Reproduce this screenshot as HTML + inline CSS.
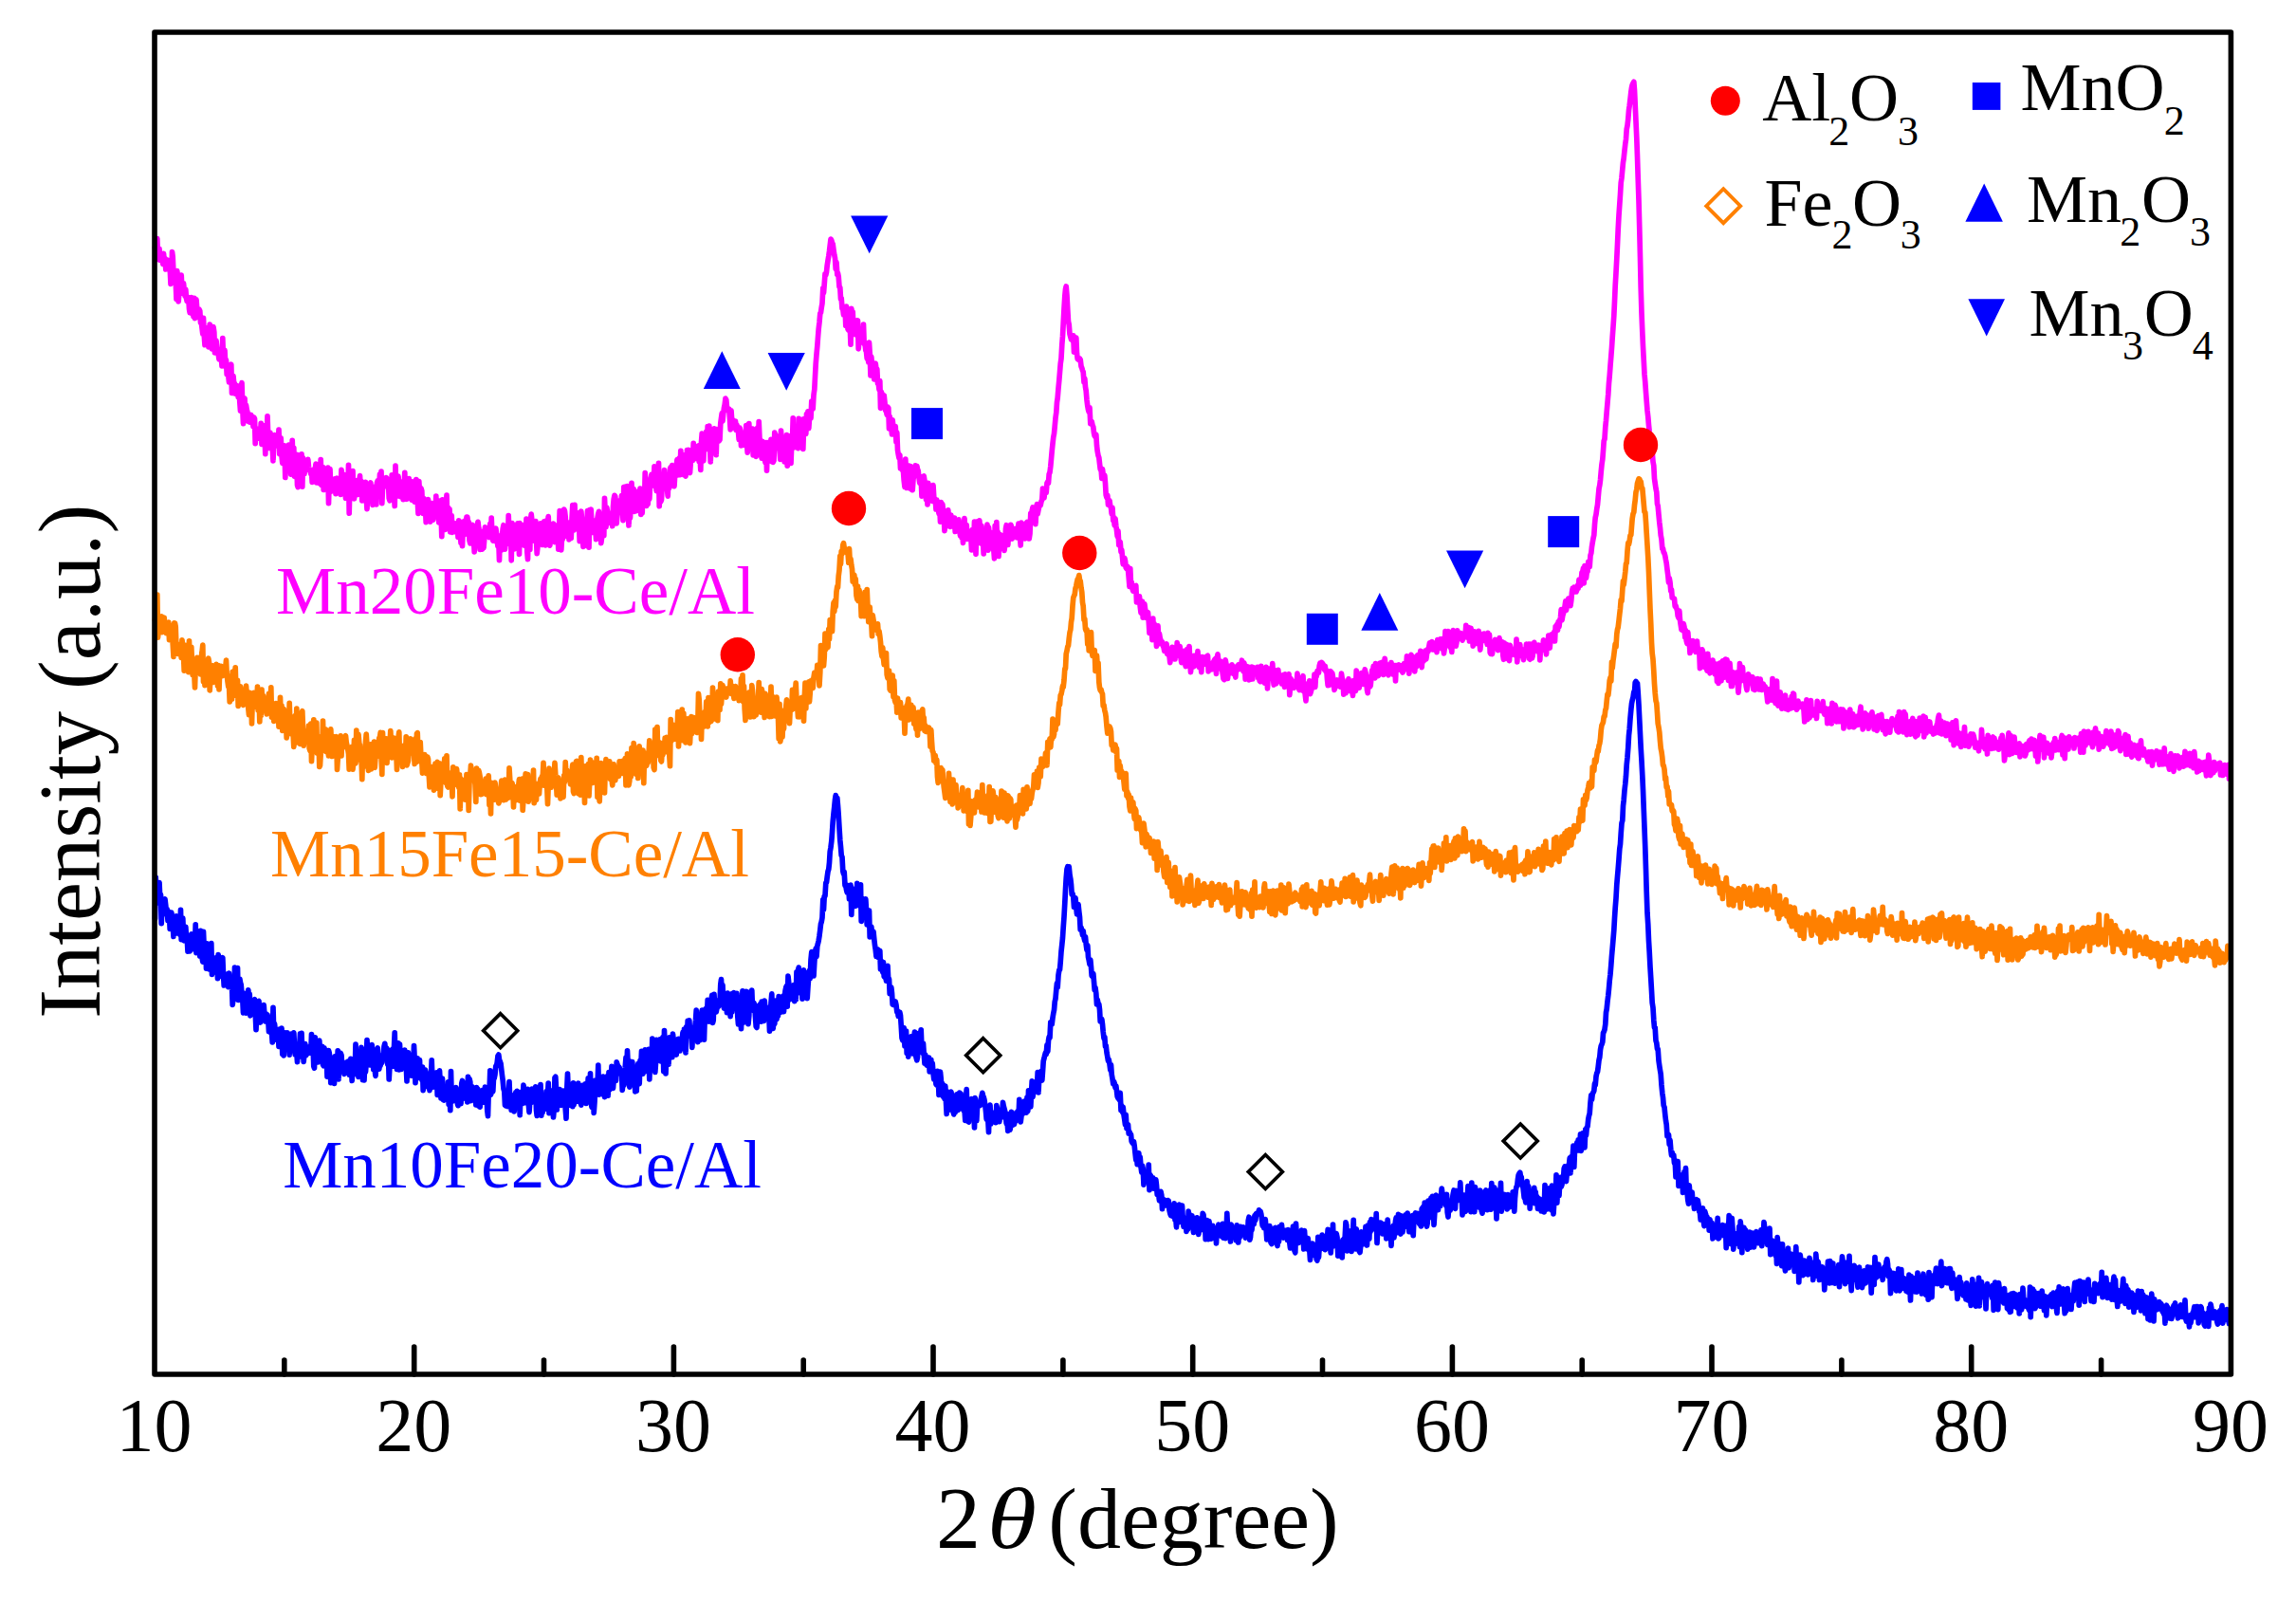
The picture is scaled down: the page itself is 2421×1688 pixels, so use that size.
<!DOCTYPE html><html><head><meta charset="utf-8"><style>html,body{margin:0;padding:0;background:#fff;overflow:hidden}svg{display:block}</style></head><body>
<svg width="2421" height="1688" viewBox="0 0 2421 1688">
<rect width="2421" height="1688" fill="#fff"/>
<polyline fill="none" stroke="#FF00FF" stroke-width="5.7" stroke-linejoin="round" stroke-linecap="round" points="163.5,260.8 164.2,266.9 165.0,264.9 165.8,251.5 166.5,273.5 167.2,270.5 168.0,262.1 168.8,274.2 169.5,273.2 170.2,273.7 171.0,272.3 171.8,278.5 172.5,267.4 173.2,274.2 174.0,272.3 174.8,284.0 175.5,279.8 176.2,277.8 177.0,274.3 177.8,280.6 178.5,284.3 179.2,282.7 180.0,299.3 180.8,297.6 181.5,265.5 182.2,270.6 183.0,288.8 183.8,287.4 184.5,294.8 185.2,296.0 186.0,315.5 186.8,285.7 187.5,294.1 188.2,317.9 189.0,306.4 189.8,308.0 190.5,298.9 191.2,290.2 192.0,308.2 192.8,309.2 193.5,298.6 194.2,305.0 195.0,312.0 195.8,305.2 196.5,314.5 197.2,317.5 198.0,318.1 198.8,313.6 199.5,325.7 200.2,329.7 201.0,324.7 201.8,313.7 202.5,330.6 203.2,318.6 204.0,333.7 204.8,314.4 205.5,335.6 206.2,327.0 207.0,315.9 207.8,326.3 208.5,331.2 209.2,334.5 210.0,326.1 210.8,327.9 211.5,340.2 212.2,338.0 213.0,345.7 213.8,352.2 214.5,335.3 215.2,352.8 216.0,363.7 216.8,350.1 217.5,345.8 218.2,362.7 219.0,358.4 219.8,365.8 220.5,353.4 221.2,342.0 222.0,357.2 222.8,354.3 223.5,367.8 224.2,362.4 225.0,344.6 225.8,350.1 226.5,372.0 227.2,371.0 228.0,359.2 228.8,366.6 229.5,372.1 230.2,373.6 231.0,378.8 231.8,374.3 232.5,372.4 233.2,372.2 234.0,385.9 234.8,356.7 235.5,377.7 236.2,380.8 237.0,369.3 237.8,386.7 238.5,379.6 239.2,394.6 240.0,387.7 240.8,396.3 241.5,402.9 242.2,397.3 243.0,388.1 243.8,384.2 244.5,414.5 245.2,399.9 246.0,396.5 246.8,405.5 247.5,404.3 248.2,415.1 249.0,409.7 249.8,411.3 250.5,406.7 251.2,418.7 252.0,407.4 252.8,423.9 253.5,433.1 254.2,408.4 255.0,403.6 255.8,430.4 256.5,446.6 257.2,420.4 258.0,420.1 258.8,437.6 259.5,427.2 260.2,431.8 261.0,434.8 261.8,444.3 262.5,437.3 263.2,445.1 264.0,442.3 264.8,437.5 265.5,443.8 266.2,439.2 267.0,449.6 267.8,440.0 268.5,441.4 269.2,467.6 270.0,453.7 270.8,454.7 271.5,461.4 272.2,452.3 273.0,454.9 273.8,462.5 274.5,461.4 275.2,446.3 276.0,468.3 276.8,453.2 277.5,448.5 278.2,450.5 279.0,456.4 279.8,478.7 280.5,448.5 281.2,463.4 282.0,438.8 282.8,462.3 283.5,472.5 284.2,460.4 285.0,456.4 285.8,466.0 286.5,471.4 287.2,471.3 288.0,485.9 288.8,467.0 289.5,458.7 290.2,464.2 291.0,465.2 291.8,467.8 292.5,467.1 293.2,470.1 294.0,453.0 294.8,478.6 295.5,466.3 296.2,461.9 297.0,480.5 297.8,488.3 298.5,481.7 299.2,479.7 300.0,469.9 300.8,503.5 301.5,490.1 302.2,470.5 303.0,475.1 303.8,484.9 304.5,469.0 305.2,487.5 306.0,481.9 306.8,500.2 307.5,498.3 308.2,464.4 309.0,489.8 309.8,472.4 310.5,502.3 311.2,492.4 312.0,496.8 312.8,479.4 313.5,511.3 314.2,513.6 315.0,480.0 315.8,496.0 316.5,484.7 317.2,492.1 318.0,478.8 318.8,513.2 319.5,482.7 320.2,490.4 321.0,499.5 321.8,487.6 322.5,492.6 323.2,489.7 324.0,494.8 324.8,484.4 325.5,492.8 326.2,495.8 327.0,495.0 327.8,499.7 328.5,496.5 329.2,508.3 330.0,497.2 330.8,499.7 331.5,494.6 332.2,496.6 333.0,489.2 333.8,508.8 334.5,491.5 335.2,496.3 336.0,508.7 336.8,509.6 337.5,501.5 338.2,484.6 339.0,511.3 339.8,510.1 340.5,492.5 341.2,516.5 342.0,501.0 342.8,496.9 343.5,510.5 344.2,507.9 345.0,512.4 345.8,493.0 346.5,530.6 347.2,504.5 348.0,494.5 348.8,518.4 349.5,508.0 350.2,515.7 351.0,508.7 351.8,512.0 352.5,515.5 353.2,504.9 354.0,520.7 354.8,508.4 355.5,504.2 356.2,514.7 357.0,518.9 357.8,511.7 358.5,504.9 359.2,521.4 360.0,495.4 360.8,503.5 361.5,515.4 362.2,500.1 363.0,515.4 363.8,514.6 364.5,525.2 365.2,505.4 366.0,508.7 366.8,519.3 367.5,490.4 368.2,541.1 369.0,508.2 369.8,508.0 370.5,525.5 371.2,515.7 372.0,496.7 372.8,523.2 373.5,525.8 374.2,511.5 375.0,513.4 375.8,521.9 376.5,506.7 377.2,521.5 378.0,519.0 378.8,509.4 379.5,501.5 380.2,514.4 381.0,507.3 381.8,528.0 382.5,518.6 383.2,525.6 384.0,518.5 384.8,519.9 385.5,508.4 386.2,524.3 387.0,536.6 387.8,513.5 388.5,510.4 389.2,515.1 390.0,511.5 390.8,509.0 391.5,518.1 392.2,513.3 393.0,532.3 393.8,516.4 394.5,519.8 395.2,526.6 396.0,512.8 396.8,531.8 397.5,508.9 398.2,506.9 399.0,511.7 399.8,514.3 400.5,500.1 401.2,515.0 402.0,497.0 402.8,530.6 403.5,514.3 404.2,508.1 405.0,505.1 405.8,510.8 406.5,512.6 407.2,503.5 408.0,504.9 408.8,513.0 409.5,509.3 410.2,525.4 411.0,527.7 411.8,515.4 412.5,520.6 413.2,500.8 414.0,522.6 414.8,515.4 415.5,521.1 416.2,533.5 417.0,491.0 417.8,519.1 418.5,504.3 419.2,523.0 420.0,502.2 420.8,511.2 421.5,519.0 422.2,523.6 423.0,517.7 423.8,508.2 424.5,510.9 425.2,526.7 426.0,516.9 426.8,498.4 427.5,526.1 428.2,521.4 429.0,526.3 429.8,512.9 430.5,525.6 431.2,504.7 432.0,522.6 432.8,510.8 433.5,523.5 434.2,527.1 435.0,507.9 435.8,515.4 436.5,516.5 437.2,529.2 438.0,524.5 438.8,505.6 439.5,523.5 440.2,527.3 441.0,541.4 441.8,507.5 442.5,519.6 443.2,538.3 444.0,514.9 444.8,517.6 445.5,535.2 446.2,541.5 447.0,525.5 447.8,538.8 448.5,535.1 449.2,550.6 450.0,535.1 450.8,546.3 451.5,526.6 452.2,534.9 453.0,536.3 453.8,550.1 454.5,544.6 455.2,530.7 456.0,546.6 456.8,548.0 457.5,539.0 458.2,537.8 459.0,538.9 459.8,523.0 460.5,543.8 461.2,544.7 462.0,533.0 462.8,550.9 463.5,528.1 464.2,537.4 465.0,538.5 465.8,565.6 466.5,526.9 467.2,550.8 468.0,555.2 468.8,549.4 469.5,558.5 470.2,535.3 471.0,522.2 471.8,555.3 472.5,535.1 473.2,544.9 474.0,536.6 474.8,560.8 475.5,559.5 476.2,543.5 477.0,561.3 477.8,553.7 478.5,551.5 479.2,554.2 480.0,551.9 480.8,561.1 481.5,558.2 482.2,551.3 483.0,566.3 483.8,548.8 484.5,558.9 485.2,560.5 486.0,572.3 486.8,550.7 487.5,575.6 488.2,558.5 489.0,554.6 489.8,549.5 490.5,563.4 491.2,557.7 492.0,545.1 492.8,545.0 493.5,551.4 494.2,550.2 495.0,569.7 495.8,572.9 496.5,567.4 497.2,561.9 498.0,553.4 498.8,558.8 499.5,568.0 500.2,581.8 501.0,568.5 501.8,555.5 502.5,559.1 503.2,553.5 504.0,550.3 504.8,557.0 505.5,561.3 506.2,579.4 507.0,560.0 507.8,574.4 508.5,579.1 509.2,560.7 510.0,577.6 510.8,568.0 511.5,555.8 512.2,563.5 513.0,561.0 513.8,558.5 514.5,559.1 515.2,563.1 516.0,566.5 516.8,552.4 517.5,562.2 518.2,546.0 519.0,565.7 519.8,570.0 520.5,565.2 521.2,566.8 522.0,570.4 522.8,557.0 523.5,561.9 524.2,570.4 525.0,576.0 525.8,569.6 526.5,590.7 527.2,564.8 528.0,576.9 528.8,580.1 529.5,564.9 530.2,557.5 531.0,553.7 531.8,568.5 532.5,579.1 533.2,569.9 534.0,568.9 534.8,562.8 535.5,573.2 536.2,543.5 537.0,569.5 537.8,567.2 538.5,551.8 539.2,590.8 540.0,551.5 540.8,554.9 541.5,553.5 542.2,578.8 543.0,556.8 543.8,573.8 544.5,572.8 545.2,569.1 546.0,551.8 546.8,559.3 547.5,584.3 548.2,551.6 549.0,556.6 549.8,563.8 550.5,574.4 551.2,568.1 552.0,573.4 552.8,553.4 553.5,575.4 554.2,571.1 555.0,547.2 555.8,581.5 556.5,589.7 557.2,556.0 558.0,564.9 558.8,579.5 559.5,547.8 560.2,542.1 561.0,549.6 561.8,557.5 562.5,557.3 563.2,570.2 564.0,566.4 564.8,549.6 565.5,569.4 566.2,583.6 567.0,576.1 567.8,573.7 568.5,562.9 569.2,573.4 570.0,551.8 570.8,570.5 571.5,561.2 572.2,574.5 573.0,567.0 573.8,549.8 574.5,563.1 575.2,574.9 576.0,549.0 576.8,555.1 577.5,552.7 578.2,544.6 579.0,571.5 579.8,575.2 580.5,569.5 581.2,563.2 582.0,559.9 582.8,563.0 583.5,552.2 584.2,569.9 585.0,571.5 585.8,570.1 586.5,554.0 587.2,560.6 588.0,557.8 588.8,579.2 589.5,561.4 590.2,538.7 591.0,563.7 591.8,579.9 592.5,566.7 593.2,568.7 594.0,559.4 594.8,537.2 595.5,538.9 596.2,545.1 597.0,557.3 597.8,562.0 598.5,566.1 599.2,554.7 600.0,568.9 600.8,555.2 601.5,550.5 602.2,567.5 603.0,548.0 603.8,532.7 604.5,546.2 605.2,558.8 606.0,532.4 606.8,553.6 607.5,553.8 608.2,541.6 609.0,540.9 609.8,552.0 610.5,550.9 611.2,570.6 612.0,560.7 612.8,539.1 613.5,546.8 614.2,563.7 615.0,576.4 615.8,559.7 616.5,558.6 617.2,575.2 618.0,554.4 618.8,551.0 619.5,538.6 620.2,548.1 621.0,577.1 621.8,537.6 622.5,552.9 623.2,537.1 624.0,553.4 624.8,561.4 625.5,548.7 626.2,558.9 627.0,558.5 627.8,555.1 628.5,568.6 629.2,558.0 630.0,545.9 630.8,541.5 631.5,539.3 632.2,553.4 633.0,544.3 633.8,572.6 634.5,567.3 635.2,544.6 636.0,543.0 636.8,564.7 637.5,525.4 638.2,540.7 639.0,555.7 639.8,535.1 640.5,539.5 641.2,540.6 642.0,551.3 642.8,545.3 643.5,547.9 644.2,549.7 645.0,543.2 645.8,554.7 646.5,534.3 647.2,526.3 648.0,522.3 648.8,523.6 649.5,535.0 650.2,551.8 651.0,542.2 651.8,533.5 652.5,528.0 653.2,533.5 654.0,534.6 654.8,532.5 655.5,522.7 656.2,532.7 657.0,548.6 657.8,513.5 658.5,534.2 659.2,513.4 660.0,538.0 660.8,527.5 661.5,512.6 662.2,535.9 663.0,554.0 663.8,535.1 664.5,546.1 665.2,532.3 666.0,509.4 666.8,537.5 667.5,527.2 668.2,515.5 669.0,539.3 669.8,533.4 670.5,524.2 671.2,538.7 672.0,519.5 672.8,535.3 673.5,517.8 674.2,533.2 675.0,515.1 675.8,542.4 676.5,528.7 677.2,540.8 678.0,516.1 678.8,519.3 679.5,532.9 680.2,498.7 681.0,511.4 681.8,533.4 682.5,526.8 683.2,531.7 684.0,517.4 684.8,526.2 685.5,511.8 686.2,504.4 687.0,500.4 687.8,512.1 688.5,511.6 689.2,510.2 690.0,491.8 690.8,494.4 691.5,509.4 692.2,517.6 693.0,507.8 693.8,504.0 694.5,488.3 695.2,533.6 696.0,499.8 696.8,528.8 697.5,526.8 698.2,512.6 699.0,503.0 699.8,509.8 700.5,495.6 701.2,509.9 702.0,506.6 702.8,511.6 703.5,515.4 704.2,523.1 705.0,500.0 705.8,514.5 706.5,494.4 707.2,492.7 708.0,495.1 708.8,490.6 709.5,510.8 710.2,509.6 711.0,512.7 711.8,498.3 712.5,500.9 713.2,491.2 714.0,484.6 714.8,500.9 715.5,498.4 716.2,483.2 717.0,500.6 717.8,475.3 718.5,491.2 719.2,485.8 720.0,486.3 720.8,479.8 721.5,500.8 722.2,496.1 723.0,502.1 723.8,490.3 724.5,474.5 725.2,483.7 726.0,474.4 726.8,491.2 727.5,498.6 728.2,488.7 729.0,478.2 729.8,480.0 730.5,485.5 731.2,467.4 732.0,483.8 732.8,483.7 733.5,475.2 734.2,476.0 735.0,481.6 735.8,470.5 736.5,469.9 737.2,486.6 738.0,480.1 738.8,495.4 739.5,466.2 740.2,457.2 741.0,486.2 741.8,485.9 742.5,467.2 743.2,458.9 744.0,473.8 744.8,455.0 745.5,469.8 746.2,449.5 747.0,469.9 747.8,449.2 748.5,468.9 749.2,486.9 750.0,467.3 750.8,477.6 751.5,462.1 752.2,458.7 753.0,451.8 753.8,476.8 754.5,464.7 755.2,479.7 756.0,452.6 756.8,459.1 757.5,459.0 758.2,464.9 759.0,463.5 759.8,446.1 760.5,440.9 761.2,435.8 762.0,444.0 762.8,435.6 763.5,429.9 764.2,426.6 765.0,420.1 765.8,421.8 766.5,429.6 767.2,431.0 768.0,433.3 768.8,431.1 769.5,441.7 770.2,452.8 771.0,432.8 771.8,444.2 772.5,442.4 773.2,450.8 774.0,449.6 774.8,449.7 775.5,444.0 776.2,453.4 777.0,448.1 777.8,453.7 778.5,455.2 779.2,463.5 780.0,451.1 780.8,454.4 781.5,469.9 782.2,456.7 783.0,456.7 783.8,469.3 784.5,463.5 785.2,462.0 786.0,463.8 786.8,448.5 787.5,467.3 788.2,477.1 789.0,469.4 789.8,446.5 790.5,466.9 791.2,454.3 792.0,462.0 792.8,466.2 793.5,452.1 794.2,480.0 795.0,465.0 795.8,474.7 796.5,473.3 797.2,481.3 798.0,480.0 798.8,451.2 799.5,468.1 800.2,444.7 801.0,463.4 801.8,476.4 802.5,478.9 803.2,483.2 804.0,465.3 804.8,473.2 805.5,471.0 806.2,484.0 807.0,487.7 807.8,466.5 808.5,496.2 809.2,470.6 810.0,466.6 810.8,477.2 811.5,479.0 812.2,476.6 813.0,463.4 813.8,486.7 814.5,471.0 815.2,487.3 816.0,485.6 816.8,456.2 817.5,459.3 818.2,459.0 819.0,472.5 819.8,470.3 820.5,472.4 821.2,460.4 822.0,473.8 822.8,484.4 823.5,454.2 824.2,466.4 825.0,471.1 825.8,466.7 826.5,465.7 827.2,487.0 828.0,481.4 828.8,476.4 829.5,458.6 830.2,491.1 831.0,470.3 831.8,459.8 832.5,462.1 833.2,460.2 834.0,488.4 834.8,467.2 835.5,465.3 836.2,440.9 837.0,471.9 837.8,452.1 838.5,450.9 839.2,469.1 840.0,452.8 840.8,470.3 841.5,472.7 842.2,441.3 843.0,458.0 843.8,442.4 844.5,457.3 845.2,466.4 846.0,442.3 846.8,473.4 847.5,451.1 848.2,441.6 849.0,450.5 849.8,457.4 850.5,436.6 851.2,446.8 852.0,433.8 852.8,451.6 853.5,441.1 854.2,434.3 855.0,440.9 855.8,423.2 856.5,425.2 857.2,431.2 858.0,416.3 858.8,410.7 859.5,397.0 860.2,383.7 861.0,373.6 861.8,364.9 862.5,355.6 863.2,346.8 864.0,339.8 864.8,330.5 865.5,329.6 866.2,324.4 867.0,319.8 867.8,303.8 868.5,308.8 869.2,300.0 870.0,288.9 870.8,290.0 871.5,286.8 872.2,279.9 873.0,274.7 873.8,269.9 874.5,264.9 875.2,258.9 876.0,252.1 876.8,253.4 877.5,256.2 878.2,257.3 879.0,263.5 879.8,268.9 880.5,272.1 881.2,283.3 882.0,276.7 882.8,289.3 883.5,288.0 884.2,291.5 885.0,302.4 885.8,303.2 886.5,315.0 887.2,314.5 888.0,325.2 888.8,326.0 889.5,332.0 890.2,331.3 891.0,323.7 891.8,343.3 892.5,323.1 893.2,326.3 894.0,347.0 894.8,348.2 895.5,345.0 896.2,341.7 897.0,363.1 897.8,325.3 898.5,330.8 899.2,328.6 900.0,349.3 900.8,343.5 901.5,352.6 902.2,352.0 903.0,341.7 903.8,337.8 904.5,338.0 905.2,367.8 906.0,358.5 906.8,357.0 907.5,350.9 908.2,354.0 909.0,354.6 909.8,356.5 910.5,342.0 911.2,362.5 912.0,361.9 912.8,369.3 913.5,370.8 914.2,377.9 915.0,373.6 915.8,381.9 916.5,361.2 917.2,372.4 918.0,395.8 918.8,376.2 919.5,385.5 920.2,395.1 921.0,385.3 921.8,399.8 922.5,385.1 923.2,383.2 924.0,389.7 924.8,389.1 925.5,404.1 926.2,403.6 927.0,410.7 927.8,401.6 928.5,430.3 929.2,413.0 930.0,415.3 930.8,421.3 931.5,417.8 932.2,416.9 933.0,424.5 933.8,432.9 934.5,433.2 935.2,437.4 936.0,429.1 936.8,430.2 937.5,451.8 938.2,439.0 939.0,446.5 939.8,450.8 940.5,457.9 941.2,442.9 942.0,451.4 942.8,454.6 943.5,458.5 944.2,449.5 945.0,465.8 945.8,456.1 946.5,474.5 947.2,478.9 948.0,482.9 948.8,479.7 949.5,493.9 950.2,490.7 951.0,492.6 951.8,496.0 952.5,497.1 953.2,506.7 954.0,513.4 954.8,484.2 955.5,500.0 956.2,514.5 957.0,507.7 957.8,510.7 958.5,491.2 959.2,514.9 960.0,491.7 960.8,507.6 961.5,516.5 962.2,516.7 963.0,505.1 963.8,501.2 964.5,494.2 965.2,490.8 966.0,492.3 966.8,491.4 967.5,494.5 968.2,496.4 969.0,503.7 969.8,509.3 970.5,502.7 971.2,505.2 972.0,523.1 972.8,512.4 973.5,508.9 974.2,501.8 975.0,507.2 975.8,511.3 976.5,526.7 977.2,509.9 978.0,532.0 978.8,509.4 979.5,515.5 980.2,526.9 981.0,518.9 981.8,515.2 982.5,522.4 983.2,528.5 984.0,511.7 984.8,525.2 985.5,527.5 986.2,526.3 987.0,537.0 987.8,527.1 988.5,529.9 989.2,534.4 990.0,541.4 990.8,533.9 991.5,550.1 992.2,529.5 993.0,549.7 993.8,531.5 994.5,538.4 995.2,543.8 996.0,559.6 996.8,550.0 997.5,539.1 998.2,554.9 999.0,542.2 999.8,537.8 1000.5,549.5 1001.2,547.1 1002.0,555.3 1002.8,543.0 1003.5,551.9 1004.2,554.8 1005.0,552.6 1005.8,550.8 1006.5,546.0 1007.2,560.5 1008.0,554.8 1008.8,558.7 1009.5,552.3 1010.2,556.2 1011.0,547.9 1011.8,558.2 1012.5,564.8 1013.2,559.6 1014.0,566.9 1014.8,562.6 1015.5,572.3 1016.2,559.0 1017.0,546.7 1017.8,565.3 1018.5,560.4 1019.2,553.7 1020.0,568.3 1020.8,565.3 1021.5,567.2 1022.2,560.6 1023.0,565.6 1023.8,566.3 1024.5,579.9 1025.2,558.6 1026.0,564.7 1026.8,568.1 1027.5,550.0 1028.2,551.3 1029.0,584.3 1029.8,550.1 1030.5,570.7 1031.2,558.4 1032.0,559.2 1032.8,548.8 1033.5,558.3 1034.2,572.9 1035.0,554.3 1035.8,571.5 1036.5,569.1 1037.2,583.9 1038.0,562.6 1038.8,577.6 1039.5,574.5 1040.2,564.6 1041.0,553.1 1041.8,580.2 1042.5,556.1 1043.2,563.9 1044.0,575.6 1044.8,577.8 1045.5,561.5 1046.2,568.6 1047.0,566.9 1047.8,579.2 1048.5,588.8 1049.2,554.4 1050.0,577.5 1050.8,550.7 1051.5,570.1 1052.2,560.8 1053.0,586.5 1053.8,571.2 1054.5,563.6 1055.2,565.3 1056.0,564.5 1056.8,570.5 1057.5,567.3 1058.2,573.6 1059.0,580.4 1059.8,573.2 1060.5,557.3 1061.2,553.7 1062.0,560.3 1062.8,574.5 1063.5,563.0 1064.2,559.9 1065.0,566.1 1065.8,553.3 1066.5,555.3 1067.2,568.2 1068.0,561.5 1068.8,560.0 1069.5,565.9 1070.2,558.4 1071.0,557.4 1071.8,558.9 1072.5,567.0 1073.2,562.4 1074.0,552.2 1074.8,558.9 1075.5,565.9 1076.2,575.0 1077.0,551.2 1077.8,562.1 1078.5,557.0 1079.2,564.6 1080.0,561.0 1080.8,567.9 1081.5,560.0 1082.2,551.4 1083.0,550.6 1083.8,556.5 1084.5,555.5 1085.2,568.0 1086.0,562.5 1086.8,541.4 1087.5,551.0 1088.2,538.3 1089.0,535.0 1089.8,550.5 1090.5,548.0 1091.2,536.1 1092.0,552.7 1092.8,534.1 1093.5,531.6 1094.2,541.8 1095.0,537.5 1095.8,533.6 1096.5,532.5 1097.2,532.6 1098.0,528.7 1098.8,526.8 1099.5,515.1 1100.2,516.5 1101.0,525.0 1101.8,515.9 1102.5,519.5 1103.2,519.4 1104.0,509.3 1104.8,507.8 1105.5,509.3 1106.2,499.8 1107.0,498.0 1107.8,491.6 1108.5,483.8 1109.2,475.8 1110.0,467.9 1110.8,460.7 1111.5,457.3 1112.2,449.8 1113.0,440.7 1113.8,434.9 1114.5,424.1 1115.2,419.5 1116.0,409.4 1116.8,401.0 1117.5,392.6 1118.2,383.7 1119.0,378.0 1119.8,363.4 1120.5,354.5 1121.2,341.0 1122.0,325.7 1122.8,312.3 1123.5,305.0 1124.2,302.0 1125.0,311.6 1125.8,326.9 1126.5,338.9 1127.2,342.1 1128.0,352.2 1128.8,355.2 1129.5,357.9 1130.2,353.8 1131.0,359.1 1131.8,353.8 1132.5,371.2 1133.2,367.1 1134.0,368.3 1134.8,356.2 1135.5,372.6 1136.2,378.3 1137.0,379.2 1137.8,379.4 1138.5,378.1 1139.2,379.2 1140.0,386.1 1140.8,388.1 1141.5,390.6 1142.2,392.1 1143.0,402.7 1143.8,399.3 1144.5,407.9 1145.2,411.9 1146.0,421.8 1146.8,428.1 1147.5,432.0 1148.2,434.3 1149.0,429.8 1149.8,446.6 1150.5,443.9 1151.2,444.7 1152.0,448.4 1152.8,450.2 1153.5,456.5 1154.2,459.5 1155.0,460.7 1155.8,458.1 1156.5,469.9 1157.2,475.8 1158.0,480.3 1158.8,482.4 1159.5,488.7 1160.2,494.8 1161.0,493.6 1161.8,504.4 1162.5,494.5 1163.2,500.2 1164.0,504.5 1164.8,501.2 1165.5,509.5 1166.2,522.0 1167.0,524.7 1167.8,522.2 1168.5,532.0 1169.2,528.2 1170.0,527.9 1170.8,533.9 1171.5,535.2 1172.2,541.7 1173.0,535.3 1173.8,548.6 1174.5,545.5 1175.2,553.8 1176.0,546.8 1176.8,554.3 1177.5,559.2 1178.2,565.5 1179.0,559.8 1179.8,574.5 1180.5,572.7 1181.2,571.5 1182.0,581.6 1182.8,579.9 1183.5,587.2 1184.2,594.8 1185.0,591.2 1185.8,588.4 1186.5,591.4 1187.2,598.4 1188.0,599.6 1188.8,597.1 1189.5,600.2 1190.2,608.6 1191.0,618.5 1191.8,599.7 1192.5,615.9 1193.2,613.8 1194.0,620.6 1194.8,623.2 1195.5,621.3 1196.2,618.1 1197.0,618.0 1197.8,617.5 1198.5,634.9 1199.2,629.5 1200.0,629.6 1200.8,632.6 1201.5,628.9 1202.2,639.1 1203.0,646.0 1203.8,646.7 1204.5,634.1 1205.2,651.2 1206.0,641.4 1206.8,636.7 1207.5,641.8 1208.2,644.7 1209.0,651.3 1209.8,647.1 1210.5,645.8 1211.2,654.0 1212.0,667.4 1212.8,654.1 1213.5,661.8 1214.2,660.9 1215.0,674.6 1215.8,652.0 1216.5,670.1 1217.2,657.7 1218.0,662.8 1218.8,666.7 1219.5,681.3 1220.2,665.1 1221.0,659.9 1221.8,678.9 1222.5,668.1 1223.2,672.6 1224.0,675.1 1224.8,677.0 1225.5,676.9 1226.2,680.6 1227.0,682.5 1227.8,686.3 1228.5,680.5 1229.2,679.8 1230.0,679.0 1230.8,689.4 1231.5,686.5 1232.2,690.8 1233.0,691.2 1233.8,698.6 1234.5,690.1 1235.2,693.8 1236.0,682.3 1236.8,683.3 1237.5,688.3 1238.2,683.1 1239.0,695.0 1239.8,683.0 1240.5,691.7 1241.2,677.6 1242.0,685.1 1242.8,689.9 1243.5,690.6 1244.2,681.6 1245.0,693.3 1245.8,698.7 1246.5,696.9 1247.2,689.3 1248.0,689.9 1248.8,686.5 1249.5,697.6 1250.2,702.7 1251.0,691.2 1251.8,684.4 1252.5,696.0 1253.2,699.2 1254.0,681.5 1254.8,696.3 1255.5,708.6 1256.2,700.8 1257.0,699.5 1257.8,698.8 1258.5,703.0 1259.2,691.3 1260.0,692.0 1260.8,699.8 1261.5,693.4 1262.2,699.3 1263.0,686.6 1263.8,702.7 1264.5,703.5 1265.2,698.9 1266.0,699.8 1266.8,708.7 1267.5,692.7 1268.2,693.9 1269.0,693.0 1269.8,697.2 1270.5,693.9 1271.2,700.3 1272.0,696.4 1272.8,691.7 1273.5,691.3 1274.2,708.0 1275.0,700.4 1275.8,699.6 1276.5,701.2 1277.2,700.7 1278.0,705.8 1278.8,704.8 1279.5,698.0 1280.2,696.7 1281.0,695.2 1281.8,694.3 1282.5,710.3 1283.2,696.5 1284.0,689.9 1284.8,697.1 1285.5,697.5 1286.2,704.2 1287.0,697.0 1287.8,705.6 1288.5,704.8 1289.2,710.1 1290.0,715.6 1290.8,716.5 1291.5,710.9 1292.2,695.9 1293.0,700.5 1293.8,704.5 1294.5,715.5 1295.2,707.2 1296.0,710.4 1296.8,702.3 1297.5,706.9 1298.2,707.8 1299.0,700.8 1299.8,708.3 1300.5,710.2 1301.2,702.9 1302.0,710.1 1302.8,714.0 1303.5,704.6 1304.2,704.4 1305.0,702.7 1305.8,700.9 1306.5,705.7 1307.2,702.5 1308.0,703.2 1308.8,700.6 1309.5,696.2 1310.2,700.0 1311.0,707.7 1311.8,698.8 1312.5,702.2 1313.2,716.1 1314.0,713.2 1314.8,702.5 1315.5,710.4 1316.2,703.1 1317.0,716.9 1317.8,703.9 1318.5,708.1 1319.2,716.1 1320.0,703.0 1320.8,716.0 1321.5,703.5 1322.2,710.0 1323.0,707.0 1323.8,708.4 1324.5,710.1 1325.2,708.9 1326.0,703.4 1326.8,714.9 1327.5,714.2 1328.2,717.8 1329.0,718.5 1329.8,702.4 1330.5,718.3 1331.2,718.5 1332.0,707.8 1332.8,717.3 1333.5,720.1 1334.2,708.3 1335.0,703.4 1335.8,709.7 1336.5,725.8 1337.2,713.6 1338.0,705.1 1338.8,711.0 1339.5,706.8 1340.2,710.5 1341.0,713.7 1341.8,699.5 1342.5,715.6 1343.2,722.1 1344.0,712.7 1344.8,711.8 1345.5,720.8 1346.2,706.9 1347.0,707.2 1347.8,706.5 1348.5,714.1 1349.2,717.6 1350.0,714.9 1350.8,719.0 1351.5,720.9 1352.2,719.1 1353.0,711.5 1353.8,715.0 1354.5,724.3 1355.2,710.8 1356.0,715.8 1356.8,715.2 1357.5,716.9 1358.2,712.0 1359.0,710.7 1359.8,732.7 1360.5,725.1 1361.2,715.7 1362.0,720.0 1362.8,724.8 1363.5,719.2 1364.2,725.3 1365.0,718.4 1365.8,720.4 1366.5,722.4 1367.2,720.6 1368.0,710.1 1368.8,724.2 1369.5,726.0 1370.2,727.5 1371.0,719.1 1371.8,727.3 1372.5,726.8 1373.2,715.1 1374.0,712.6 1374.8,728.8 1375.5,720.3 1376.2,732.0 1377.0,738.8 1377.8,722.3 1378.5,721.5 1379.2,725.3 1380.0,729.0 1380.8,717.9 1381.5,731.6 1382.2,729.5 1383.0,726.6 1383.8,719.0 1384.5,724.6 1385.2,722.5 1386.0,711.1 1386.8,724.3 1387.5,711.7 1388.2,713.1 1389.0,707.7 1389.8,709.1 1390.5,709.1 1391.2,702.0 1392.0,699.1 1392.8,700.3 1393.5,698.5 1394.2,699.1 1395.0,700.4 1395.8,701.6 1396.5,706.1 1397.2,702.2 1398.0,708.0 1398.8,706.6 1399.5,716.3 1400.2,722.7 1401.0,714.1 1401.8,722.4 1402.5,712.2 1403.2,707.7 1404.0,710.5 1404.8,709.7 1405.5,713.9 1406.2,718.7 1407.0,727.4 1407.8,725.1 1408.5,723.9 1409.2,718.7 1410.0,717.0 1410.8,721.6 1411.5,722.3 1412.2,723.1 1413.0,723.9 1413.8,721.0 1414.5,710.2 1415.2,715.2 1416.0,716.9 1416.8,732.1 1417.5,719.4 1418.2,726.0 1419.0,730.8 1419.8,724.0 1420.5,719.6 1421.2,720.2 1422.0,715.8 1422.8,723.7 1423.5,728.6 1424.2,725.2 1425.0,726.3 1425.8,725.9 1426.5,733.5 1427.2,717.5 1428.0,722.2 1428.8,725.3 1429.5,728.4 1430.2,707.0 1431.0,717.5 1431.8,719.1 1432.5,714.1 1433.2,725.1 1434.0,721.1 1434.8,717.2 1435.5,709.6 1436.2,711.3 1437.0,713.1 1437.8,721.4 1438.5,711.2 1439.2,705.9 1440.0,709.3 1440.8,714.2 1441.5,727.4 1442.2,730.7 1443.0,713.8 1443.8,721.8 1444.5,724.0 1445.2,722.8 1446.0,714.1 1446.8,706.6 1447.5,710.8 1448.2,702.4 1449.0,713.1 1449.8,714.8 1450.5,699.5 1451.2,708.0 1452.0,708.6 1452.8,712.6 1453.5,712.3 1454.2,708.3 1455.0,699.1 1455.8,700.2 1456.5,709.3 1457.2,698.4 1458.0,701.8 1458.8,711.5 1459.5,703.1 1460.2,694.4 1461.0,701.1 1461.8,707.0 1462.5,702.4 1463.2,710.8 1464.0,711.8 1464.8,700.8 1465.5,702.0 1466.2,704.7 1467.0,698.6 1467.8,708.3 1468.5,705.2 1469.2,711.2 1470.0,703.2 1470.8,701.6 1471.5,718.0 1472.2,701.7 1473.0,703.4 1473.8,702.5 1474.5,704.9 1475.2,701.0 1476.0,706.0 1476.8,701.8 1477.5,703.2 1478.2,707.4 1479.0,709.0 1479.8,707.2 1480.5,699.6 1481.2,705.8 1482.0,702.2 1482.8,701.8 1483.5,691.8 1484.2,705.2 1485.0,699.9 1485.8,710.1 1486.5,703.3 1487.2,692.5 1488.0,690.4 1488.8,704.5 1489.5,692.1 1490.2,700.6 1491.0,694.3 1491.8,707.8 1492.5,695.5 1493.2,703.4 1494.0,701.8 1494.8,690.8 1495.5,691.1 1496.2,701.2 1497.0,692.0 1497.8,686.4 1498.5,698.0 1499.2,703.7 1500.0,689.6 1500.8,697.4 1501.5,687.8 1502.2,696.1 1503.0,686.2 1503.8,694.8 1504.5,689.7 1505.2,684.9 1506.0,686.8 1506.8,681.7 1507.5,677.8 1508.2,677.7 1509.0,683.0 1509.8,676.6 1510.5,684.9 1511.2,685.0 1512.0,684.2 1512.8,678.1 1513.5,680.9 1514.2,680.1 1515.0,687.7 1515.8,674.7 1516.5,676.9 1517.2,677.5 1518.0,677.7 1518.8,673.8 1519.5,674.2 1520.2,683.7 1521.0,673.6 1521.8,682.5 1522.5,688.9 1523.2,684.2 1524.0,665.5 1524.8,680.6 1525.5,678.6 1526.2,678.7 1527.0,665.6 1527.8,679.6 1528.5,668.3 1529.2,682.3 1530.0,680.7 1530.8,687.5 1531.5,671.6 1532.2,664.6 1533.0,679.8 1533.8,678.5 1534.5,670.8 1535.2,681.1 1536.0,676.9 1536.8,664.9 1537.5,670.4 1538.2,669.7 1539.0,671.5 1539.8,673.2 1540.5,667.7 1541.2,670.5 1542.0,675.1 1542.8,671.0 1543.5,669.7 1544.2,669.3 1545.0,670.4 1545.8,659.4 1546.5,671.8 1547.2,664.5 1548.0,671.2 1548.8,661.7 1549.5,676.0 1550.2,671.8 1551.0,662.3 1551.8,671.8 1552.5,665.8 1553.2,681.2 1554.0,673.5 1554.8,665.9 1555.5,672.2 1556.2,670.8 1557.0,678.4 1557.8,673.6 1558.5,674.8 1559.2,665.4 1560.0,677.1 1560.8,685.1 1561.5,676.8 1562.2,673.1 1563.0,674.7 1563.8,668.4 1564.5,675.5 1565.2,668.2 1566.0,675.3 1566.8,673.0 1567.5,670.7 1568.2,679.4 1569.0,667.4 1569.8,676.3 1570.5,669.0 1571.2,688.1 1572.0,689.3 1572.8,683.0 1573.5,689.6 1574.2,682.2 1575.0,682.3 1575.8,676.9 1576.5,674.5 1577.2,680.9 1578.0,677.4 1578.8,678.3 1579.5,685.6 1580.2,680.9 1581.0,672.7 1581.8,681.0 1582.5,678.1 1583.2,681.2 1584.0,676.8 1584.8,690.8 1585.5,695.3 1586.2,677.9 1587.0,688.7 1587.8,688.8 1588.5,679.3 1589.2,686.7 1590.0,694.8 1590.8,691.8 1591.5,696.7 1592.2,680.4 1593.0,683.2 1593.8,689.6 1594.5,690.2 1595.2,688.4 1596.0,686.0 1596.8,685.9 1597.5,684.7 1598.2,691.0 1599.0,674.2 1599.8,697.9 1600.5,685.1 1601.2,679.6 1602.0,691.4 1602.8,679.7 1603.5,690.4 1604.2,685.6 1605.0,691.5 1605.8,692.6 1606.5,695.6 1607.2,684.8 1608.0,685.9 1608.8,687.5 1609.5,679.0 1610.2,691.0 1611.0,688.1 1611.8,679.2 1612.5,694.4 1613.2,695.2 1614.0,679.0 1614.8,690.1 1615.5,693.9 1616.2,691.2 1617.0,680.1 1617.8,677.3 1618.5,684.6 1619.2,682.0 1620.0,684.5 1620.8,683.6 1621.5,686.9 1622.2,680.0 1623.0,682.0 1623.8,695.9 1624.5,681.3 1625.2,686.0 1626.0,682.9 1626.8,682.0 1627.5,674.9 1628.2,682.8 1629.0,678.9 1629.8,683.4 1630.5,689.9 1631.2,678.4 1632.0,681.1 1632.8,670.2 1633.5,675.9 1634.2,683.2 1635.0,673.3 1635.8,669.2 1636.5,672.9 1637.2,669.8 1638.0,668.3 1638.8,666.3 1639.5,676.0 1640.2,660.7 1641.0,661.0 1641.8,658.3 1642.5,664.4 1643.2,655.6 1644.0,660.8 1644.8,653.8 1645.5,651.1 1646.2,642.5 1647.0,653.9 1647.8,649.0 1648.5,646.8 1649.2,642.7 1650.0,639.6 1650.8,633.9 1651.5,643.4 1652.2,638.5 1653.0,633.9 1653.8,631.1 1654.5,633.5 1655.2,631.0 1656.0,638.6 1656.8,632.8 1657.5,624.4 1658.2,620.4 1659.0,623.9 1659.8,619.1 1660.5,623.3 1661.2,623.9 1662.0,624.0 1662.8,621.7 1663.5,617.3 1664.2,620.3 1665.0,611.1 1665.8,614.1 1666.5,617.3 1667.2,613.1 1668.0,603.7 1668.8,602.8 1669.5,599.1 1670.2,614.8 1671.0,596.5 1671.8,601.8 1672.5,609.3 1673.2,603.7 1674.0,602.4 1674.8,592.3 1675.5,594.9 1676.2,597.5 1677.0,585.7 1677.8,583.1 1678.5,576.5 1679.2,572.3 1680.0,567.7 1680.8,564.1 1681.5,553.1 1682.2,545.7 1683.0,542.3 1683.8,536.2 1684.5,532.2 1685.2,524.5 1686.0,515.4 1686.8,511.5 1687.5,506.1 1688.2,497.7 1689.0,489.6 1689.8,484.4 1690.5,475.2 1691.2,465.0 1692.0,462.7 1692.8,450.2 1693.5,443.3 1694.2,434.3 1695.0,425.0 1695.8,415.4 1696.5,403.9 1697.2,396.6 1698.0,385.8 1698.8,375.7 1699.5,366.6 1700.2,355.7 1701.0,344.6 1701.8,332.9 1702.5,317.9 1703.2,301.3 1704.0,287.6 1704.8,272.3 1705.5,257.9 1706.2,242.1 1707.0,227.1 1707.8,215.5 1708.5,205.1 1709.2,192.9 1710.0,187.3 1710.8,178.5 1711.5,171.1 1712.2,166.7 1713.0,158.9 1713.8,151.7 1714.5,146.8 1715.2,136.4 1716.0,132.4 1716.8,125.4 1717.5,116.4 1718.2,111.4 1719.0,104.5 1719.8,97.2 1720.5,92.5 1721.2,89.4 1722.0,87.8 1722.8,86.2 1723.5,95.0 1724.2,110.3 1725.0,128.2 1725.8,145.6 1726.5,164.8 1727.2,187.1 1728.0,211.4 1728.8,242.1 1729.5,271.2 1730.2,303.2 1731.0,330.1 1731.8,350.0 1732.5,365.7 1733.2,378.8 1734.0,394.5 1734.8,403.3 1735.5,413.4 1736.2,422.5 1737.0,432.7 1737.8,439.8 1738.5,448.2 1739.2,455.0 1740.0,461.2 1740.8,468.4 1741.5,472.9 1742.2,476.7 1743.0,486.7 1743.8,491.1 1744.5,504.7 1745.2,509.5 1746.0,515.2 1746.8,518.9 1747.5,531.4 1748.2,533.4 1749.0,542.5 1749.8,550.8 1750.5,556.6 1751.2,564.2 1752.0,568.5 1752.8,578.3 1753.5,578.3 1754.2,582.2 1755.0,583.3 1755.8,586.3 1756.5,590.3 1757.2,593.8 1758.0,600.6 1758.8,606.5 1759.5,614.1 1760.2,609.5 1761.0,614.1 1761.8,623.2 1762.5,621.6 1763.2,630.0 1764.0,630.0 1764.8,631.3 1765.5,631.3 1766.2,639.2 1767.0,638.7 1767.8,641.4 1768.5,643.5 1769.2,649.5 1770.0,651.4 1770.8,644.2 1771.5,653.9 1772.2,658.6 1773.0,663.8 1773.8,664.3 1774.5,663.1 1775.2,657.5 1776.0,661.1 1776.8,671.9 1777.5,664.5 1778.2,675.6 1779.0,678.5 1779.8,666.6 1780.5,676.5 1781.2,674.7 1782.0,688.5 1782.8,682.7 1783.5,675.9 1784.2,682.6 1785.0,675.7 1785.8,681.4 1786.5,684.7 1787.2,685.4 1788.0,687.4 1788.8,680.9 1789.5,676.0 1790.2,686.2 1791.0,683.8 1791.8,685.9 1792.5,704.6 1793.2,699.4 1794.0,691.9 1794.8,684.9 1795.5,686.7 1796.2,698.0 1797.0,703.4 1797.8,695.8 1798.5,699.4 1799.2,701.1 1800.0,707.1 1800.8,689.3 1801.5,703.1 1802.2,705.5 1803.0,709.8 1803.8,706.9 1804.5,697.8 1805.2,701.8 1806.0,696.0 1806.8,707.9 1807.5,708.3 1808.2,710.8 1809.0,701.1 1809.8,700.2 1810.5,718.5 1811.2,709.7 1812.0,720.4 1812.8,711.8 1813.5,699.2 1814.2,714.7 1815.0,717.8 1815.8,706.6 1816.5,696.8 1817.2,714.5 1818.0,709.2 1818.8,712.2 1819.5,695.0 1820.2,713.9 1821.0,695.5 1821.8,705.4 1822.5,717.4 1823.2,699.4 1824.0,699.4 1824.8,709.1 1825.5,723.5 1826.2,723.5 1827.0,708.7 1827.8,719.8 1828.5,717.2 1829.2,715.3 1830.0,716.2 1830.8,709.1 1831.5,719.6 1832.2,721.6 1833.0,730.2 1833.8,721.1 1834.5,699.7 1835.2,707.3 1836.0,717.9 1836.8,716.4 1837.5,703.6 1838.2,715.4 1839.0,714.2 1839.8,716.6 1840.5,716.3 1841.2,723.6 1842.0,727.5 1842.8,722.5 1843.5,710.8 1844.2,712.7 1845.0,714.3 1845.8,718.7 1846.5,716.5 1847.2,717.3 1848.0,713.8 1848.8,726.6 1849.5,726.3 1850.2,727.3 1851.0,720.7 1851.8,724.7 1852.5,715.9 1853.2,715.6 1854.0,719.1 1854.8,727.0 1855.5,722.5 1856.2,716.2 1857.0,724.9 1857.8,727.4 1858.5,726.1 1859.2,721.0 1860.0,726.3 1860.8,723.5 1861.5,724.5 1862.2,726.5 1863.0,732.5 1863.8,740.0 1864.5,738.7 1865.2,732.9 1866.0,726.5 1866.8,727.5 1867.5,728.2 1868.2,738.1 1869.0,715.6 1869.8,733.0 1870.5,718.4 1871.2,732.0 1872.0,741.3 1872.8,726.8 1873.5,718.1 1874.2,742.2 1875.0,744.0 1875.8,737.7 1876.5,743.1 1877.2,729.8 1878.0,743.3 1878.8,747.2 1879.5,740.6 1880.2,738.6 1881.0,745.7 1881.8,745.1 1882.5,733.0 1883.2,747.4 1884.0,743.8 1884.8,740.3 1885.5,748.3 1886.2,746.2 1887.0,745.4 1887.8,737.5 1888.5,746.8 1889.2,734.3 1890.0,741.2 1890.8,731.2 1891.5,731.5 1892.2,746.1 1893.0,743.0 1893.8,744.5 1894.5,748.2 1895.2,746.9 1896.0,739.0 1896.8,745.7 1897.5,745.1 1898.2,742.3 1899.0,745.2 1899.8,743.9 1900.5,742.2 1901.2,744.6 1902.0,748.6 1902.8,761.0 1903.5,741.9 1904.2,751.1 1905.0,737.9 1905.8,758.6 1906.5,745.8 1907.2,749.1 1908.0,756.9 1908.8,755.1 1909.5,738.6 1910.2,752.5 1911.0,747.4 1911.8,753.2 1912.5,750.2 1913.2,754.2 1914.0,751.4 1914.8,748.6 1915.5,757.5 1916.2,739.4 1917.0,747.0 1917.8,743.6 1918.5,749.1 1919.2,747.3 1920.0,749.3 1920.8,747.2 1921.5,747.4 1922.2,739.7 1923.0,750.6 1923.8,753.0 1924.5,747.1 1925.2,746.8 1926.0,747.1 1926.8,762.7 1927.5,752.9 1928.2,754.4 1929.0,750.0 1929.8,748.8 1930.5,746.5 1931.2,762.9 1932.0,741.4 1932.8,755.0 1933.5,753.1 1934.2,751.8 1935.0,743.3 1935.8,745.7 1936.5,760.8 1937.2,749.9 1938.0,760.6 1938.8,759.5 1939.5,759.1 1940.2,760.6 1941.0,747.8 1941.8,752.9 1942.5,760.9 1943.2,748.2 1944.0,768.0 1944.8,753.4 1945.5,757.0 1946.2,750.8 1947.0,760.3 1947.8,753.3 1948.5,756.8 1949.2,751.0 1950.0,766.7 1950.8,748.1 1951.5,762.2 1952.2,760.9 1953.0,762.4 1953.8,752.8 1954.5,766.7 1955.2,766.3 1956.0,761.1 1956.8,762.2 1957.5,759.1 1958.2,764.5 1959.0,754.8 1959.8,764.1 1960.5,763.2 1961.2,751.1 1962.0,745.2 1962.8,759.9 1963.5,759.6 1964.2,768.9 1965.0,761.2 1965.8,757.5 1966.5,751.8 1967.2,760.3 1968.0,757.1 1968.8,753.7 1969.5,760.3 1970.2,768.2 1971.0,761.8 1971.8,754.2 1972.5,763.4 1973.2,754.0 1974.0,750.8 1974.8,764.7 1975.5,757.7 1976.2,768.9 1977.0,763.6 1977.8,756.2 1978.5,763.1 1979.2,770.3 1980.0,760.5 1980.8,754.7 1981.5,757.5 1982.2,756.5 1983.0,754.1 1983.8,753.5 1984.5,765.0 1985.2,769.6 1986.0,760.0 1986.8,767.7 1987.5,768.6 1988.2,773.9 1989.0,761.6 1989.8,760.7 1990.5,765.9 1991.2,763.9 1992.0,765.4 1992.8,772.2 1993.5,760.9 1994.2,765.3 1995.0,757.5 1995.8,763.1 1996.5,759.9 1997.2,759.5 1998.0,763.2 1998.8,761.8 1999.5,767.4 2000.2,770.4 2001.0,755.3 2001.8,771.9 2002.5,750.6 2003.2,767.1 2004.0,770.3 2004.8,761.4 2005.5,764.2 2006.2,760.6 2007.0,771.8 2007.8,750.7 2008.5,759.5 2009.2,753.1 2010.0,767.3 2010.8,774.6 2011.5,773.9 2012.2,770.4 2013.0,767.6 2013.8,760.9 2014.5,774.1 2015.2,770.1 2016.0,760.4 2016.8,757.5 2017.5,761.8 2018.2,773.2 2019.0,774.3 2019.8,776.7 2020.5,760.9 2021.2,763.6 2022.0,775.2 2022.8,767.5 2023.5,771.1 2024.2,757.2 2025.0,763.6 2025.8,765.9 2026.5,763.7 2027.2,763.3 2028.0,755.2 2028.8,776.8 2029.5,767.0 2030.2,756.4 2031.0,773.2 2031.8,766.5 2032.5,770.8 2033.2,764.8 2034.0,760.9 2034.8,761.0 2035.5,768.4 2036.2,771.2 2037.0,769.3 2037.8,770.3 2038.5,774.0 2039.2,767.8 2040.0,772.4 2040.8,772.8 2041.5,767.3 2042.2,764.6 2043.0,762.0 2043.8,756.7 2044.5,754.1 2045.2,772.8 2046.0,763.8 2046.8,760.1 2047.5,773.9 2048.2,769.8 2049.0,763.7 2049.8,769.9 2050.5,762.1 2051.2,765.9 2052.0,775.7 2052.8,771.1 2053.5,763.0 2054.2,769.8 2055.0,773.5 2055.8,766.0 2056.5,764.9 2057.2,780.0 2058.0,767.3 2058.8,761.8 2059.5,771.7 2060.2,785.6 2061.0,776.3 2061.8,779.2 2062.5,759.8 2063.2,770.7 2064.0,782.5 2064.8,772.4 2065.5,784.0 2066.2,778.9 2067.0,778.7 2067.8,787.4 2068.5,773.4 2069.2,773.9 2070.0,777.9 2070.8,778.9 2071.5,766.6 2072.2,786.1 2073.0,779.8 2073.8,777.4 2074.5,782.8 2075.2,776.3 2076.0,787.1 2076.8,779.8 2077.5,784.3 2078.2,773.9 2079.0,778.1 2079.8,782.6 2080.5,774.1 2081.2,776.2 2082.0,780.3 2082.8,788.2 2083.5,786.0 2084.2,787.1 2085.0,783.4 2085.8,787.5 2086.5,791.8 2087.2,783.0 2088.0,784.9 2088.8,786.1 2089.5,769.3 2090.2,782.0 2091.0,785.6 2091.8,787.9 2092.5,781.1 2093.2,789.8 2094.0,779.4 2094.8,782.6 2095.5,795.0 2096.2,775.4 2097.0,783.9 2097.8,783.7 2098.5,784.3 2099.2,781.6 2100.0,789.5 2100.8,778.5 2101.5,777.0 2102.2,789.0 2103.0,778.3 2103.8,788.7 2104.5,786.6 2105.2,782.2 2106.0,784.6 2106.8,786.4 2107.5,790.1 2108.2,783.2 2109.0,786.1 2109.8,778.2 2110.5,786.0 2111.2,775.3 2112.0,787.7 2112.8,785.1 2113.5,801.9 2114.2,796.6 2115.0,787.3 2115.8,794.5 2116.5,790.2 2117.2,780.8 2118.0,772.9 2118.8,795.6 2119.5,790.9 2120.2,775.5 2121.0,792.5 2121.8,794.3 2122.5,783.8 2123.2,793.4 2124.0,777.0 2124.8,786.8 2125.5,788.5 2126.2,793.4 2127.0,790.8 2127.8,789.7 2128.5,791.9 2129.2,783.9 2130.0,797.9 2130.8,786.0 2131.5,793.4 2132.2,788.2 2133.0,786.6 2133.8,792.0 2134.5,791.1 2135.2,797.0 2136.0,795.2 2136.8,784.5 2137.5,791.5 2138.2,788.8 2139.0,783.0 2139.8,781.0 2140.5,789.8 2141.2,784.7 2142.0,779.1 2142.8,787.5 2143.5,789.6 2144.2,788.8 2145.0,780.3 2145.8,784.4 2146.5,797.1 2147.2,783.1 2148.0,786.0 2148.8,803.0 2149.5,790.4 2150.2,784.9 2151.0,775.4 2151.8,790.1 2152.5,779.0 2153.2,787.9 2154.0,782.4 2154.8,777.2 2155.5,798.9 2156.2,787.4 2157.0,794.1 2157.8,792.9 2158.5,783.3 2159.2,788.6 2160.0,785.7 2160.8,794.3 2161.5,790.9 2162.2,785.7 2163.0,798.9 2163.8,791.4 2164.5,791.1 2165.2,782.9 2166.0,790.7 2166.8,778.5 2167.5,791.0 2168.2,781.9 2169.0,789.2 2169.8,786.2 2170.5,789.5 2171.2,790.4 2172.0,787.6 2172.8,787.6 2173.5,778.2 2174.2,775.5 2175.0,795.9 2175.8,791.3 2176.5,777.8 2177.2,799.6 2178.0,782.4 2178.8,790.1 2179.5,789.2 2180.2,786.9 2181.0,789.9 2181.8,776.8 2182.5,785.1 2183.2,783.4 2184.0,785.2 2184.8,782.6 2185.5,779.9 2186.2,779.0 2187.0,789.0 2187.8,777.5 2188.5,785.0 2189.2,784.6 2190.0,781.4 2190.8,784.5 2191.5,785.0 2192.2,777.8 2193.0,783.2 2193.8,793.1 2194.5,773.7 2195.2,778.5 2196.0,775.3 2196.8,793.1 2197.5,771.0 2198.2,780.1 2199.0,786.0 2199.8,774.4 2200.5,779.1 2201.2,775.4 2202.0,771.3 2202.8,779.5 2203.5,783.2 2204.2,777.4 2205.0,781.1 2205.8,784.4 2206.5,787.7 2207.2,772.1 2208.0,783.9 2208.8,776.0 2209.5,767.9 2210.2,775.0 2211.0,784.1 2211.8,782.0 2212.5,773.0 2213.2,790.2 2214.0,782.6 2214.8,779.6 2215.5,776.6 2216.2,782.6 2217.0,777.5 2217.8,787.2 2218.5,782.0 2219.2,783.9 2220.0,778.1 2220.8,770.7 2221.5,783.3 2222.2,773.6 2223.0,779.3 2223.8,779.9 2224.5,775.1 2225.2,785.6 2226.0,771.1 2226.8,789.3 2227.5,776.4 2228.2,786.2 2229.0,788.4 2229.8,775.2 2230.5,776.2 2231.2,786.8 2232.0,782.4 2232.8,782.1 2233.5,770.7 2234.2,772.2 2235.0,785.9 2235.8,791.7 2236.5,779.2 2237.2,778.7 2238.0,785.6 2238.8,787.6 2239.5,788.6 2240.2,783.1 2241.0,774.6 2241.8,795.4 2242.5,784.2 2243.2,795.2 2244.0,776.3 2244.8,790.8 2245.5,786.1 2246.2,783.1 2247.0,795.8 2247.8,798.1 2248.5,787.4 2249.2,795.1 2250.0,785.3 2250.8,788.4 2251.5,790.9 2252.2,790.6 2253.0,796.8 2253.8,786.1 2254.5,799.3 2255.2,799.6 2256.0,792.8 2256.8,787.4 2257.5,780.9 2258.2,794.5 2259.0,790.9 2259.8,796.0 2260.5,789.5 2261.2,796.0 2262.0,795.9 2262.8,796.5 2263.5,798.4 2264.2,798.7 2265.0,802.9 2265.8,792.9 2266.5,801.9 2267.2,798.9 2268.0,795.7 2268.8,792.6 2269.5,807.1 2270.2,800.2 2271.0,796.0 2271.8,799.6 2272.5,799.5 2273.2,796.6 2274.0,791.8 2274.8,800.9 2275.5,799.2 2276.2,798.7 2277.0,806.1 2277.8,793.1 2278.5,795.3 2279.2,801.8 2280.0,805.8 2280.8,804.6 2281.5,805.4 2282.2,788.8 2283.0,804.3 2283.8,803.9 2284.5,805.6 2285.2,797.8 2286.0,804.7 2286.8,807.6 2287.5,811.1 2288.2,803.5 2289.0,794.7 2289.8,802.6 2290.5,806.0 2291.2,805.3 2292.0,813.3 2292.8,801.4 2293.5,796.9 2294.2,799.1 2295.0,806.4 2295.8,798.3 2296.5,797.1 2297.2,798.3 2298.0,809.8 2298.8,804.4 2299.5,801.3 2300.2,808.0 2301.0,807.2 2301.8,798.0 2302.5,808.1 2303.2,804.9 2304.0,792.3 2304.8,797.2 2305.5,805.3 2306.2,806.6 2307.0,802.5 2307.8,798.7 2308.5,805.7 2309.2,794.4 2310.0,807.6 2310.8,803.9 2311.5,804.7 2312.2,801.5 2313.0,809.7 2313.8,792.7 2314.5,800.9 2315.2,808.9 2316.0,802.1 2316.8,814.0 2317.5,808.6 2318.2,802.4 2319.0,812.7 2319.8,806.4 2320.5,810.2 2321.2,804.0 2322.0,804.3 2322.8,811.5 2323.5,808.4 2324.2,804.0 2325.0,803.5 2325.8,811.8 2326.5,817.8 2327.2,804.1 2328.0,812.3 2328.8,796.2 2329.5,801.6 2330.2,812.6 2331.0,817.5 2331.8,809.5 2332.5,812.1 2333.2,810.6 2334.0,814.6 2334.8,803.5 2335.5,812.6 2336.2,807.0 2337.0,807.5 2337.8,809.2 2338.5,808.2 2339.2,805.2 2340.0,807.9 2340.8,804.3 2341.5,817.0 2342.2,812.9 2343.0,807.1 2343.8,817.5 2344.5,815.9 2345.2,811.8 2346.0,806.5 2346.8,810.6 2347.5,812.2 2348.2,816.4 2349.0,808.3 2349.8,806.4 2350.5,821.0 2351.2,816.4"/>
<polyline fill="none" stroke="#FF8000" stroke-width="5.7" stroke-linejoin="round" stroke-linecap="round" points="163.5,654.1 164.2,646.3 165.0,647.6 165.8,627.2 166.5,672.2 167.2,665.4 168.0,650.2 168.8,662.4 169.5,657.9 170.2,649.9 171.0,666.6 171.8,654.2 172.5,655.0 173.2,651.2 174.0,664.8 174.8,660.2 175.5,667.7 176.2,657.1 177.0,665.5 177.8,656.2 178.5,674.7 179.2,669.0 180.0,671.4 180.8,673.1 181.5,659.6 182.2,678.7 183.0,692.4 183.8,656.8 184.5,657.1 185.2,660.5 186.0,684.6 186.8,678.8 187.5,689.3 188.2,687.0 189.0,683.2 189.8,685.2 190.5,681.9 191.2,693.3 192.0,674.9 192.8,682.9 193.5,690.6 194.2,707.2 195.0,682.7 195.8,680.5 196.5,686.6 197.2,703.2 198.0,691.6 198.8,708.7 199.5,675.8 200.2,708.2 201.0,707.8 201.8,682.3 202.5,699.7 203.2,711.6 204.0,700.1 204.8,710.4 205.5,724.9 206.2,703.7 207.0,698.2 207.8,693.4 208.5,709.2 209.2,700.5 210.0,701.2 210.8,702.4 211.5,711.0 212.2,692.8 213.0,688.1 213.8,680.1 214.5,718.6 215.2,706.7 216.0,722.7 216.8,706.5 217.5,698.8 218.2,712.5 219.0,706.8 219.8,694.2 220.5,698.5 221.2,727.8 222.0,712.6 222.8,713.5 223.5,706.2 224.2,701.8 225.0,719.4 225.8,708.7 226.5,701.6 227.2,708.7 228.0,700.4 228.8,712.6 229.5,723.1 230.2,701.6 231.0,726.8 231.8,703.9 232.5,713.1 233.2,702.4 234.0,709.4 234.8,712.5 235.5,707.5 236.2,704.8 237.0,705.3 237.8,704.0 238.5,696.1 239.2,710.8 240.0,718.4 240.8,724.2 241.5,721.9 242.2,739.9 243.0,719.6 243.8,712.4 244.5,737.2 245.2,708.4 246.0,729.7 246.8,711.5 247.5,725.7 248.2,703.9 249.0,733.3 249.8,724.1 250.5,717.3 251.2,744.5 252.0,736.7 252.8,730.7 253.5,723.9 254.2,731.9 255.0,731.7 255.8,741.7 256.5,743.4 257.2,728.9 258.0,730.8 258.8,731.5 259.5,723.1 260.2,731.7 261.0,737.4 261.8,746.4 262.5,753.6 263.2,730.4 264.0,745.6 264.8,734.9 265.5,762.9 266.2,739.7 267.0,746.0 267.8,730.3 268.5,731.8 269.2,743.2 270.0,736.9 270.8,745.2 271.5,724.2 272.2,748.9 273.0,731.8 273.8,761.0 274.5,739.0 275.2,754.5 276.0,727.2 276.8,747.5 277.5,733.3 278.2,737.9 279.0,743.9 279.8,740.4 280.5,747.1 281.2,752.8 282.0,752.1 282.8,744.5 283.5,731.3 284.2,737.9 285.0,745.0 285.8,724.9 286.5,756.3 287.2,746.4 288.0,746.9 288.8,760.3 289.5,758.0 290.2,754.0 291.0,741.7 291.8,756.3 292.5,757.4 293.2,745.0 294.0,766.2 294.8,761.2 295.5,735.4 296.2,758.4 297.0,744.2 297.8,770.5 298.5,767.6 299.2,747.6 300.0,750.4 300.8,761.6 301.5,758.4 302.2,778.0 303.0,770.0 303.8,759.4 304.5,769.2 305.2,741.3 306.0,767.2 306.8,773.7 307.5,762.8 308.2,757.4 309.0,771.8 309.8,787.4 310.5,768.7 311.2,754.6 312.0,783.1 312.8,747.2 313.5,773.6 314.2,762.2 315.0,779.2 315.8,760.2 316.5,784.3 317.2,773.6 318.0,752.0 318.8,749.7 319.5,768.2 320.2,786.2 321.0,774.0 321.8,773.9 322.5,771.1 323.2,782.1 324.0,778.7 324.8,778.2 325.5,765.1 326.2,789.1 327.0,791.5 327.8,763.2 328.5,802.7 329.2,786.2 330.0,773.6 330.8,758.8 331.5,787.1 332.2,786.5 333.0,774.5 333.8,762.0 334.5,794.2 335.2,776.0 336.0,777.7 336.8,808.5 337.5,807.0 338.2,794.6 339.0,779.5 339.8,792.0 340.5,760.1 341.2,786.7 342.0,777.5 342.8,772.0 343.5,769.1 344.2,792.6 345.0,788.1 345.8,789.2 346.5,797.0 347.2,778.7 348.0,774.6 348.8,768.9 349.5,785.1 350.2,797.5 351.0,787.7 351.8,796.7 352.5,776.8 353.2,784.9 354.0,781.8 354.8,776.7 355.5,811.4 356.2,800.4 357.0,782.7 357.8,782.9 358.5,791.0 359.2,775.8 360.0,796.8 360.8,777.8 361.5,788.3 362.2,781.2 363.0,787.5 363.8,778.2 364.5,775.7 365.2,782.7 366.0,786.1 366.8,790.5 367.5,794.8 368.2,811.2 369.0,803.4 369.8,791.8 370.5,802.8 371.2,787.3 372.0,811.2 372.8,801.3 373.5,780.3 374.2,803.9 375.0,804.7 375.8,770.1 376.5,787.5 377.2,790.6 378.0,774.4 378.8,784.1 379.5,785.4 380.2,801.7 381.0,799.3 381.8,821.6 382.5,791.5 383.2,808.6 384.0,796.5 384.8,798.6 385.5,782.5 386.2,774.0 387.0,786.5 387.8,803.4 388.5,812.3 389.2,801.2 390.0,799.9 390.8,784.8 391.5,811.0 392.2,808.7 393.0,787.6 393.8,792.8 394.5,782.0 395.2,809.3 396.0,797.3 396.8,791.5 397.5,797.0 398.2,797.2 399.0,787.6 399.8,778.2 400.5,777.6 401.2,772.4 402.0,796.9 402.8,816.4 403.5,772.6 404.2,793.0 405.0,795.9 405.8,780.2 406.5,793.4 407.2,778.8 408.0,804.3 408.8,784.2 409.5,791.8 410.2,798.3 411.0,785.8 411.8,770.5 412.5,784.5 413.2,798.9 414.0,789.3 414.8,792.8 415.5,778.1 416.2,791.7 417.0,798.2 417.8,790.4 418.5,811.4 419.2,787.7 420.0,778.4 420.8,771.9 421.5,802.9 422.2,789.4 423.0,801.4 423.8,795.2 424.5,808.4 425.2,804.4 426.0,786.1 426.8,793.5 427.5,802.6 428.2,776.8 429.0,806.9 429.8,804.3 430.5,801.9 431.2,788.8 432.0,794.5 432.8,778.8 433.5,792.1 434.2,785.1 435.0,792.7 435.8,786.4 436.5,795.3 437.2,805.5 438.0,778.8 438.8,803.6 439.5,773.3 440.2,772.7 441.0,794.9 441.8,797.2 442.5,802.6 443.2,782.6 444.0,799.7 444.8,802.7 445.5,815.2 446.2,802.5 447.0,810.0 447.8,795.5 448.5,804.5 449.2,802.6 450.0,815.5 450.8,798.0 451.5,800.3 452.2,816.2 453.0,829.9 453.8,815.4 454.5,815.1 455.2,808.7 456.0,824.9 456.8,819.5 457.5,833.1 458.2,818.4 459.0,805.1 459.8,809.8 460.5,805.7 461.2,803.4 462.0,831.4 462.8,826.9 463.5,804.9 464.2,838.6 465.0,822.1 465.8,809.3 466.5,824.6 467.2,819.9 468.0,812.5 468.8,799.9 469.5,822.2 470.2,825.4 471.0,796.8 471.8,828.9 472.5,829.9 473.2,818.1 474.0,824.9 474.8,820.8 475.5,814.8 476.2,820.4 477.0,839.8 477.8,808.8 478.5,827.8 479.2,827.5 480.0,817.8 480.8,821.0 481.5,810.5 482.2,816.8 483.0,826.7 483.8,830.4 484.5,816.9 485.2,852.9 486.0,820.9 486.8,828.8 487.5,825.0 488.2,823.2 489.0,842.4 489.8,822.6 490.5,843.1 491.2,841.0 492.0,816.5 492.8,840.0 493.5,821.1 494.2,854.4 495.0,824.3 495.8,818.1 496.5,807.2 497.2,814.3 498.0,822.3 498.8,817.7 499.5,815.2 500.2,821.2 501.0,826.8 501.8,845.4 502.5,810.0 503.2,823.1 504.0,818.6 504.8,812.3 505.5,815.2 506.2,819.3 507.0,837.7 507.8,827.5 508.5,823.7 509.2,836.8 510.0,833.2 510.8,827.6 511.5,834.6 512.2,821.2 513.0,837.7 513.8,836.1 514.5,826.6 515.2,817.8 516.0,848.7 516.8,833.1 517.5,858.0 518.2,825.4 519.0,842.5 519.8,828.4 520.5,836.4 521.2,843.2 522.0,825.2 522.8,833.3 523.5,836.5 524.2,836.2 525.0,841.9 525.8,846.9 526.5,845.0 527.2,838.7 528.0,831.9 528.8,823.2 529.5,827.7 530.2,830.0 531.0,843.7 531.8,831.9 532.5,822.0 533.2,843.0 534.0,826.8 534.8,827.2 535.5,833.2 536.2,841.1 537.0,809.8 537.8,823.0 538.5,837.5 539.2,831.4 540.0,825.6 540.8,829.2 541.5,850.8 542.2,830.0 543.0,843.0 543.8,843.8 544.5,829.7 545.2,839.7 546.0,829.5 546.8,827.6 547.5,821.7 548.2,844.1 549.0,829.7 549.8,827.8 550.5,821.2 551.2,854.2 552.0,842.0 552.8,832.0 553.5,825.5 554.2,815.9 555.0,836.1 555.8,835.9 556.5,816.6 557.2,845.2 558.0,840.6 558.8,820.9 559.5,825.2 560.2,826.3 561.0,832.7 561.8,829.0 562.5,812.0 563.2,846.6 564.0,833.4 564.8,843.7 565.5,843.4 566.2,826.7 567.0,832.7 567.8,836.9 568.5,837.0 569.2,826.3 570.0,821.0 570.8,828.2 571.5,818.6 572.2,821.2 573.0,804.4 573.8,828.1 574.5,815.4 575.2,820.6 576.0,826.1 576.8,830.1 577.5,847.7 578.2,828.5 579.0,810.1 579.8,827.4 580.5,819.1 581.2,830.2 582.0,817.8 582.8,817.4 583.5,819.5 584.2,818.0 585.0,804.4 585.8,817.3 586.5,824.5 587.2,838.1 588.0,821.1 588.8,820.0 589.5,830.6 590.2,830.0 591.0,841.8 591.8,830.2 592.5,823.2 593.2,838.4 594.0,840.4 594.8,817.6 595.5,824.5 596.2,803.6 597.0,818.3 597.8,812.2 598.5,819.6 599.2,816.4 600.0,819.7 600.8,820.3 601.5,826.8 602.2,823.7 603.0,814.6 603.8,806.2 604.5,834.6 605.2,836.5 606.0,815.3 606.8,826.6 607.5,802.9 608.2,802.4 609.0,817.0 609.8,836.7 610.5,808.2 611.2,810.6 612.0,838.2 612.8,798.6 613.5,827.4 614.2,825.7 615.0,818.0 615.8,822.5 616.5,846.5 617.2,807.8 618.0,817.1 618.8,818.1 619.5,813.1 620.2,805.7 621.0,839.0 621.8,823.5 622.5,801.1 623.2,813.0 624.0,825.5 624.8,825.4 625.5,804.4 626.2,819.6 627.0,823.4 627.8,824.7 628.5,824.6 629.2,799.3 630.0,840.5 630.8,821.8 631.5,839.6 632.2,844.9 633.0,816.9 633.8,804.5 634.5,827.9 635.2,815.8 636.0,812.5 636.8,805.6 637.5,835.9 638.2,811.7 639.0,800.6 639.8,811.0 640.5,802.7 641.2,817.2 642.0,810.4 642.8,802.9 643.5,821.3 644.2,807.0 645.0,822.2 645.8,828.0 646.5,809.4 647.2,805.9 648.0,815.2 648.8,822.7 649.5,812.3 650.2,813.6 651.0,811.5 651.8,815.0 652.5,818.3 653.2,802.9 654.0,805.1 654.8,810.8 655.5,802.5 656.2,811.2 657.0,815.4 657.8,808.8 658.5,801.9 659.2,799.6 660.0,827.8 660.8,817.6 661.5,794.8 662.2,797.6 663.0,827.8 663.8,823.4 664.5,807.5 665.2,818.8 666.0,788.7 666.8,805.1 667.5,813.1 668.2,783.5 669.0,795.3 669.8,812.6 670.5,816.2 671.2,796.5 672.0,806.1 672.8,820.5 673.5,797.9 674.2,786.8 675.0,800.8 675.8,796.7 676.5,815.4 677.2,802.3 678.0,791.1 678.8,825.6 679.5,793.8 680.2,804.4 681.0,806.3 681.8,807.2 682.5,799.9 683.2,804.2 684.0,796.5 684.8,780.9 685.5,794.0 686.2,793.9 687.0,793.7 687.8,796.8 688.5,787.9 689.2,809.2 690.0,811.5 690.8,769.0 691.5,793.2 692.2,784.7 693.0,766.6 693.8,796.3 694.5,784.3 695.2,786.5 696.0,783.0 696.8,801.7 697.5,802.9 698.2,791.7 699.0,795.7 699.8,786.3 700.5,788.5 701.2,778.2 702.0,786.2 702.8,777.4 703.5,788.8 704.2,793.2 705.0,787.0 705.8,796.0 706.5,807.7 707.2,758.5 708.0,781.3 708.8,774.3 709.5,774.9 710.2,764.4 711.0,779.4 711.8,775.4 712.5,770.6 713.2,774.2 714.0,769.9 714.8,750.5 715.5,786.9 716.2,771.1 717.0,763.4 717.8,776.4 718.5,765.2 719.2,748.0 720.0,780.7 720.8,752.0 721.5,767.2 722.2,770.2 723.0,782.9 723.8,780.5 724.5,768.6 725.2,757.8 726.0,760.9 726.8,776.6 727.5,783.6 728.2,769.4 729.0,755.7 729.8,773.4 730.5,757.4 731.2,756.4 732.0,757.2 732.8,766.2 733.5,762.1 734.2,769.6 735.0,772.4 735.8,763.2 736.5,731.3 737.2,737.5 738.0,757.9 738.8,754.9 739.5,779.5 740.2,754.5 741.0,752.8 741.8,764.8 742.5,765.8 743.2,750.7 744.0,758.4 744.8,739.9 745.5,741.7 746.2,765.9 747.0,735.7 747.8,761.6 748.5,758.5 749.2,759.1 750.0,760.3 750.8,755.9 751.5,725.2 752.2,737.4 753.0,741.5 753.8,757.8 754.5,734.6 755.2,738.7 756.0,741.9 756.8,759.6 757.5,729.2 758.2,729.7 759.0,748.3 759.8,720.8 760.5,742.2 761.2,733.6 762.0,722.6 762.8,730.9 763.5,725.3 764.2,732.2 765.0,731.7 765.8,735.1 766.5,727.7 767.2,727.5 768.0,725.7 768.8,726.9 769.5,730.7 770.2,717.9 771.0,731.3 771.8,723.1 772.5,728.0 773.2,730.6 774.0,736.5 774.8,730.3 775.5,723.5 776.2,731.5 777.0,728.3 777.8,726.1 778.5,730.9 779.2,738.7 780.0,730.6 780.8,731.1 781.5,715.7 782.2,729.2 783.0,711.8 783.8,740.0 784.5,723.7 785.2,747.9 786.0,759.5 786.8,732.5 787.5,751.7 788.2,742.8 789.0,733.0 789.8,730.2 790.5,746.4 791.2,756.0 792.0,744.1 792.8,722.7 793.5,728.1 794.2,737.4 795.0,755.6 795.8,743.2 796.5,743.8 797.2,753.9 798.0,737.7 798.8,739.0 799.5,737.9 800.2,719.6 801.0,745.4 801.8,744.7 802.5,751.2 803.2,726.5 804.0,730.9 804.8,751.0 805.5,744.3 806.2,756.5 807.0,731.3 807.8,743.7 808.5,734.2 809.2,745.7 810.0,737.1 810.8,749.1 811.5,755.6 812.2,751.5 813.0,724.1 813.8,755.4 814.5,750.3 815.2,734.8 816.0,737.6 816.8,748.1 817.5,755.0 818.2,745.8 819.0,735.2 819.8,755.6 820.5,755.7 821.2,779.0 822.0,742.3 822.8,781.9 823.5,777.0 824.2,761.3 825.0,777.0 825.8,759.0 826.5,768.5 827.2,748.9 828.0,757.1 828.8,744.6 829.5,737.9 830.2,750.4 831.0,745.3 831.8,756.7 832.5,762.6 833.2,746.8 834.0,748.0 834.8,748.4 835.5,727.4 836.2,747.7 837.0,744.2 837.8,742.9 838.5,730.6 839.2,720.2 840.0,738.9 840.8,744.7 841.5,755.7 842.2,752.8 843.0,755.8 843.8,743.1 844.5,751.2 845.2,735.5 846.0,743.9 846.8,746.4 847.5,760.1 848.2,737.1 849.0,720.2 849.8,746.9 850.5,723.3 851.2,729.7 852.0,726.2 852.8,718.8 853.5,739.8 854.2,731.1 855.0,717.9 855.8,723.1 856.5,716.9 857.2,725.4 858.0,714.4 858.8,709.3 859.5,708.9 860.2,709.2 861.0,713.9 861.8,701.4 862.5,706.8 863.2,709.4 864.0,722.8 864.8,708.5 865.5,680.6 866.2,693.0 867.0,691.7 867.8,694.9 868.5,702.0 869.2,693.1 870.0,668.0 870.8,684.6 871.5,680.3 872.2,679.4 873.0,682.4 873.8,663.3 874.5,673.8 875.2,653.5 876.0,660.2 876.8,658.5 877.5,665.6 878.2,644.7 879.0,635.4 879.8,644.5 880.5,633.2 881.2,639.6 882.0,624.0 882.8,618.4 883.5,619.4 884.2,607.3 885.0,601.2 885.8,586.3 886.5,594.6 887.2,581.4 888.0,584.1 888.8,574.8 889.5,572.8 890.2,577.4 891.0,578.5 891.8,582.2 892.5,579.6 893.2,582.0 894.0,582.8 894.8,593.2 895.5,578.6 896.2,592.5 897.0,589.3 897.8,596.1 898.5,600.0 899.2,613.2 900.0,605.8 900.8,606.2 901.5,616.4 902.2,610.3 903.0,628.0 903.8,631.8 904.5,618.0 905.2,633.5 906.0,622.1 906.8,629.3 907.5,631.3 908.2,649.7 909.0,634.3 909.8,627.4 910.5,628.8 911.2,649.7 912.0,624.4 912.8,636.9 913.5,638.9 914.2,621.5 915.0,640.3 915.8,655.6 916.5,649.4 917.2,640.2 918.0,656.2 918.8,656.1 919.5,670.6 920.2,648.7 921.0,653.6 921.8,659.1 922.5,659.7 923.2,663.5 924.0,664.2 924.8,662.0 925.5,657.8 926.2,668.2 927.0,665.4 927.8,670.7 928.5,677.0 929.2,686.8 930.0,692.0 930.8,682.8 931.5,694.4 932.2,700.6 933.0,697.6 933.8,689.3 934.5,688.7 935.2,711.4 936.0,714.9 936.8,713.4 937.5,707.1 938.2,726.9 939.0,728.0 939.8,721.7 940.5,722.8 941.2,712.0 942.0,734.7 942.8,717.9 943.5,738.4 944.2,740.6 945.0,736.7 945.8,751.2 946.5,736.0 947.2,745.5 948.0,748.8 948.8,745.3 949.5,740.6 950.2,756.9 951.0,750.8 951.8,746.3 952.5,747.7 953.2,751.5 954.0,773.1 954.8,753.4 955.5,751.0 956.2,743.8 957.0,743.0 957.8,737.0 958.5,758.8 959.2,757.4 960.0,747.4 960.8,743.2 961.5,755.4 962.2,753.8 963.0,745.9 963.8,763.0 964.5,761.7 965.2,760.0 966.0,768.7 966.8,754.3 967.5,775.2 968.2,751.1 969.0,767.0 969.8,768.5 970.5,759.6 971.2,766.1 972.0,749.7 972.8,747.9 973.5,761.5 974.2,756.5 975.0,770.3 975.8,765.1 976.5,771.5 977.2,769.1 978.0,768.6 978.8,768.7 979.5,767.1 980.2,769.4 981.0,787.1 981.8,769.6 982.5,781.9 983.2,791.8 984.0,793.0 984.8,802.0 985.5,802.0 986.2,796.5 987.0,804.8 987.8,801.0 988.5,819.3 989.2,825.4 990.0,812.7 990.8,822.3 991.5,816.4 992.2,809.7 993.0,819.3 993.8,811.5 994.5,821.3 995.2,829.3 996.0,835.2 996.8,841.5 997.5,828.7 998.2,834.9 999.0,837.7 999.8,840.1 1000.5,815.4 1001.2,829.8 1002.0,845.3 1002.8,828.0 1003.5,841.7 1004.2,848.0 1005.0,822.1 1005.8,839.2 1006.5,843.8 1007.2,842.1 1008.0,827.5 1008.8,846.3 1009.5,837.9 1010.2,851.9 1011.0,848.5 1011.8,839.3 1012.5,846.8 1013.2,838.6 1014.0,838.9 1014.8,830.6 1015.5,844.2 1016.2,854.8 1017.0,848.2 1017.8,847.2 1018.5,841.4 1019.2,842.6 1020.0,855.5 1020.8,833.4 1021.5,869.0 1022.2,848.0 1023.0,870.4 1023.8,860.6 1024.5,844.8 1025.2,856.3 1026.0,851.6 1026.8,853.6 1027.5,856.9 1028.2,843.5 1029.0,842.7 1029.8,844.6 1030.5,835.1 1031.2,846.0 1032.0,850.9 1032.8,851.0 1033.5,850.3 1034.2,844.3 1035.0,856.0 1035.8,827.6 1036.5,844.0 1037.2,844.6 1038.0,856.8 1038.8,854.4 1039.5,855.7 1040.2,847.8 1041.0,857.3 1041.8,838.5 1042.5,849.6 1043.2,829.7 1044.0,866.5 1044.8,866.1 1045.5,846.7 1046.2,845.1 1047.0,833.9 1047.8,839.8 1048.5,856.2 1049.2,853.8 1050.0,840.7 1050.8,850.5 1051.5,848.8 1052.2,860.1 1053.0,862.5 1053.8,853.1 1054.5,856.4 1055.2,855.1 1056.0,834.1 1056.8,856.7 1057.5,854.1 1058.2,862.1 1059.0,836.1 1059.8,861.9 1060.5,847.7 1061.2,856.5 1062.0,865.8 1062.8,838.8 1063.5,840.2 1064.2,863.0 1065.0,841.5 1065.8,843.1 1066.5,858.4 1067.2,850.2 1068.0,859.6 1068.8,854.6 1069.5,851.0 1070.2,860.7 1071.0,872.1 1071.8,849.2 1072.5,864.3 1073.2,860.4 1074.0,849.9 1074.8,852.8 1075.5,838.7 1076.2,841.2 1077.0,849.3 1077.8,845.6 1078.5,857.9 1079.2,832.3 1080.0,841.3 1080.8,837.3 1081.5,841.2 1082.2,853.0 1083.0,829.8 1083.8,848.4 1084.5,834.0 1085.2,835.7 1086.0,847.2 1086.8,834.4 1087.5,842.3 1088.2,836.1 1089.0,832.5 1089.8,829.6 1090.5,816.8 1091.2,823.6 1092.0,829.5 1092.8,828.0 1093.5,813.1 1094.2,830.5 1095.0,825.3 1095.8,809.2 1096.5,809.2 1097.2,818.9 1098.0,800.0 1098.8,805.6 1099.5,808.5 1100.2,805.7 1101.0,803.9 1101.8,804.4 1102.5,794.0 1103.2,793.5 1104.0,807.0 1104.8,782.4 1105.5,785.7 1106.2,786.4 1107.0,778.9 1107.8,787.9 1108.5,777.9 1109.2,779.6 1110.0,758.1 1110.8,777.1 1111.5,774.2 1112.2,759.5 1113.0,769.7 1113.8,760.4 1114.5,761.5 1115.2,763.4 1116.0,750.4 1116.8,741.1 1117.5,743.1 1118.2,733.1 1119.0,731.9 1119.8,728.0 1120.5,723.4 1121.2,724.4 1122.0,717.1 1122.8,705.1 1123.5,704.9 1124.2,689.5 1125.0,686.2 1125.8,681.7 1126.5,680.6 1127.2,673.6 1128.0,667.0 1128.8,663.9 1129.5,655.8 1130.2,651.7 1131.0,638.7 1131.8,630.0 1132.5,628.3 1133.2,626.8 1134.0,620.3 1134.8,617.8 1135.5,613.8 1136.2,610.8 1137.0,609.8 1137.8,606.6 1138.5,611.3 1139.2,612.6 1140.0,619.5 1140.8,624.5 1141.5,635.3 1142.2,639.1 1143.0,653.4 1143.8,652.7 1144.5,663.1 1145.2,665.0 1146.0,663.6 1146.8,679.0 1147.5,670.8 1148.2,685.8 1149.0,670.3 1149.8,673.7 1150.5,666.7 1151.2,687.0 1152.0,691.4 1152.8,688.3 1153.5,687.8 1154.2,685.4 1155.0,707.5 1155.8,700.7 1156.5,691.1 1157.2,702.5 1158.0,698.7 1158.8,719.0 1159.5,725.1 1160.2,727.8 1161.0,727.0 1161.8,730.0 1162.5,731.7 1163.2,744.0 1164.0,743.3 1164.8,748.9 1165.5,751.4 1166.2,756.2 1167.0,765.7 1167.8,773.2 1168.5,767.8 1169.2,769.9 1170.0,766.1 1170.8,767.9 1171.5,771.4 1172.2,785.5 1173.0,784.2 1173.8,791.0 1174.5,790.2 1175.2,787.8 1176.0,785.3 1176.8,793.0 1177.5,789.1 1178.2,812.2 1179.0,804.1 1179.8,802.6 1180.5,819.4 1181.2,807.2 1182.0,815.3 1182.8,813.2 1183.5,818.7 1184.2,816.7 1185.0,824.3 1185.8,832.2 1186.5,818.6 1187.2,815.6 1188.0,838.9 1188.8,834.7 1189.5,841.4 1190.2,837.7 1191.0,850.6 1191.8,854.9 1192.5,841.0 1193.2,854.0 1194.0,849.3 1194.8,845.7 1195.5,855.7 1196.2,863.3 1197.0,852.6 1197.8,854.8 1198.5,873.7 1199.2,867.1 1200.0,871.3 1200.8,861.9 1201.5,866.8 1202.2,873.8 1203.0,875.7 1203.8,876.7 1204.5,888.7 1205.2,879.5 1206.0,868.2 1206.8,874.3 1207.5,881.6 1208.2,892.8 1209.0,879.5 1209.8,882.9 1210.5,886.9 1211.2,883.1 1212.0,883.5 1212.8,889.0 1213.5,899.4 1214.2,896.7 1215.0,892.2 1215.8,898.5 1216.5,887.0 1217.2,905.2 1218.0,904.4 1218.8,902.2 1219.5,889.0 1220.2,917.4 1221.0,887.5 1221.8,897.2 1222.5,898.9 1223.2,912.0 1224.0,897.1 1224.8,911.0 1225.5,909.5 1226.2,909.8 1227.0,919.3 1227.8,924.6 1228.5,918.7 1229.2,915.3 1230.0,903.5 1230.8,930.3 1231.5,919.1 1232.2,909.3 1233.0,924.9 1233.8,935.4 1234.5,925.0 1235.2,918.4 1236.0,944.9 1236.8,933.5 1237.5,932.3 1238.2,938.2 1239.0,914.7 1239.8,931.5 1240.5,931.5 1241.2,950.8 1242.0,929.9 1242.8,930.6 1243.5,924.8 1244.2,929.8 1245.0,935.1 1245.8,939.3 1246.5,936.2 1247.2,953.8 1248.0,942.4 1248.8,943.9 1249.5,949.9 1250.2,944.3 1251.0,935.3 1251.8,927.4 1252.5,942.6 1253.2,933.3 1254.0,950.4 1254.8,934.0 1255.5,923.0 1256.2,940.6 1257.0,948.9 1257.8,938.8 1258.5,942.0 1259.2,941.9 1260.0,954.4 1260.8,943.2 1261.5,940.5 1262.2,936.0 1263.0,928.0 1263.8,952.2 1264.5,950.2 1265.2,933.6 1266.0,946.0 1266.8,943.9 1267.5,938.3 1268.2,938.9 1269.0,947.4 1269.8,931.9 1270.5,937.4 1271.2,941.0 1272.0,941.7 1272.8,940.1 1273.5,943.6 1274.2,946.2 1275.0,935.0 1275.8,942.8 1276.5,938.1 1277.2,954.4 1278.0,931.4 1278.8,940.8 1279.5,948.4 1280.2,940.7 1281.0,940.5 1281.8,939.1 1282.5,946.0 1283.2,934.5 1284.0,943.3 1284.8,943.3 1285.5,932.7 1286.2,946.7 1287.0,941.1 1287.8,947.4 1288.5,952.0 1289.2,948.1 1290.0,936.2 1290.8,948.3 1291.5,933.2 1292.2,940.0 1293.0,959.6 1293.8,946.5 1294.5,959.0 1295.2,945.3 1296.0,947.0 1296.8,938.2 1297.5,954.7 1298.2,945.7 1299.0,952.3 1299.8,950.9 1300.5,951.7 1301.2,950.1 1302.0,947.3 1302.8,947.6 1303.5,942.1 1304.2,930.7 1305.0,951.5 1305.8,964.2 1306.5,956.3 1307.2,966.1 1308.0,951.6 1308.8,940.1 1309.5,939.9 1310.2,953.8 1311.0,950.6 1311.8,946.5 1312.5,953.8 1313.2,940.9 1314.0,952.1 1314.8,945.7 1315.5,949.2 1316.2,957.4 1317.0,946.8 1317.8,958.9 1318.5,958.6 1319.2,941.9 1320.0,966.1 1320.8,938.1 1321.5,947.2 1322.2,953.9 1323.0,929.9 1323.8,956.3 1324.5,957.1 1325.2,947.2 1326.0,950.2 1326.8,949.8 1327.5,946.4 1328.2,956.6 1329.0,945.1 1329.8,947.7 1330.5,951.0 1331.2,954.9 1332.0,956.9 1332.8,936.3 1333.5,931.8 1334.2,947.0 1335.0,947.6 1335.8,939.4 1336.5,950.5 1337.2,953.1 1338.0,951.1 1338.8,961.3 1339.5,939.8 1340.2,948.3 1341.0,963.5 1341.8,953.5 1342.5,939.1 1343.2,949.7 1344.0,957.5 1344.8,964.8 1345.5,953.4 1346.2,957.4 1347.0,939.1 1347.8,946.0 1348.5,957.6 1349.2,940.3 1350.0,947.5 1350.8,933.0 1351.5,959.9 1352.2,947.0 1353.0,952.6 1353.8,935.9 1354.5,937.5 1355.2,962.6 1356.0,945.3 1356.8,943.6 1357.5,952.1 1358.2,952.5 1359.0,932.2 1359.8,940.2 1360.5,948.4 1361.2,948.0 1362.0,950.8 1362.8,944.5 1363.5,945.7 1364.2,949.7 1365.0,942.5 1365.8,941.3 1366.5,943.6 1367.2,948.0 1368.0,946.8 1368.8,944.1 1369.5,946.0 1370.2,947.6 1371.0,950.6 1371.8,950.9 1372.5,937.6 1373.2,955.8 1374.0,935.1 1374.8,952.4 1375.5,942.3 1376.2,952.6 1377.0,956.5 1377.8,932.8 1378.5,952.8 1379.2,950.1 1380.0,944.2 1380.8,951.0 1381.5,943.9 1382.2,948.8 1383.0,939.4 1383.8,954.1 1384.5,952.4 1385.2,953.6 1386.0,942.3 1386.8,962.2 1387.5,963.1 1388.2,946.4 1389.0,943.7 1389.8,943.6 1390.5,952.2 1391.2,954.7 1392.0,940.4 1392.8,929.9 1393.5,949.6 1394.2,945.4 1395.0,947.0 1395.8,949.5 1396.5,936.3 1397.2,945.5 1398.0,942.4 1398.8,947.6 1399.5,954.2 1400.2,944.2 1401.0,937.1 1401.8,953.8 1402.5,949.3 1403.2,941.8 1404.0,928.8 1404.8,936.1 1405.5,944.1 1406.2,947.2 1407.0,938.5 1407.8,946.1 1408.5,937.4 1409.2,939.0 1410.0,946.6 1410.8,940.0 1411.5,943.2 1412.2,949.0 1413.0,951.0 1413.8,937.1 1414.5,939.7 1415.2,931.0 1416.0,931.1 1416.8,943.9 1417.5,937.2 1418.2,926.4 1419.0,945.5 1419.8,934.4 1420.5,938.6 1421.2,944.4 1422.0,944.1 1422.8,940.4 1423.5,924.8 1424.2,945.2 1425.0,935.8 1425.8,929.2 1426.5,922.7 1427.2,951.0 1428.0,941.4 1428.8,941.1 1429.5,945.0 1430.2,939.4 1431.0,928.1 1431.8,945.3 1432.5,947.8 1433.2,943.8 1434.0,951.9 1434.8,954.8 1435.5,933.0 1436.2,935.7 1437.0,946.3 1437.8,940.5 1438.5,940.6 1439.2,946.3 1440.0,944.7 1440.8,935.0 1441.5,939.5 1442.2,932.6 1443.0,936.7 1443.8,929.2 1444.5,922.2 1445.2,933.9 1446.0,933.0 1446.8,944.7 1447.5,950.1 1448.2,937.5 1449.0,940.9 1449.8,931.9 1450.5,929.4 1451.2,934.4 1452.0,934.3 1452.8,938.8 1453.5,937.2 1454.2,949.4 1455.0,934.2 1455.8,922.5 1456.5,936.6 1457.2,930.1 1458.0,936.9 1458.8,944.1 1459.5,929.7 1460.2,934.1 1461.0,938.6 1461.8,926.7 1462.5,935.8 1463.2,938.2 1464.0,940.0 1464.8,942.1 1465.5,937.4 1466.2,935.9 1467.0,921.4 1467.8,914.0 1468.5,924.2 1469.2,942.9 1470.0,932.1 1470.8,912.9 1471.5,927.2 1472.2,933.1 1473.0,915.2 1473.8,934.2 1474.5,920.1 1475.2,937.2 1476.0,928.9 1476.8,946.8 1477.5,917.4 1478.2,929.9 1479.0,915.6 1479.8,936.2 1480.5,927.8 1481.2,933.9 1482.0,927.1 1482.8,916.6 1483.5,920.5 1484.2,915.6 1485.0,916.8 1485.8,926.2 1486.5,933.4 1487.2,931.5 1488.0,928.6 1488.8,919.8 1489.5,928.3 1490.2,917.1 1491.0,925.5 1491.8,930.5 1492.5,922.1 1493.2,919.7 1494.0,919.9 1494.8,928.1 1495.5,920.5 1496.2,911.4 1497.0,919.3 1497.8,913.9 1498.5,934.1 1499.2,921.9 1500.0,909.8 1500.8,922.8 1501.5,925.5 1502.2,922.0 1503.0,915.5 1503.8,918.1 1504.5,917.9 1505.2,921.9 1506.0,916.1 1506.8,928.4 1507.5,909.5 1508.2,920.9 1509.0,908.9 1509.8,895.2 1510.5,898.0 1511.2,892.1 1512.0,891.9 1512.8,914.3 1513.5,899.1 1514.2,908.6 1515.0,896.3 1515.8,902.8 1516.5,894.1 1517.2,908.8 1518.0,899.5 1518.8,897.5 1519.5,899.3 1520.2,917.4 1521.0,903.3 1521.8,906.0 1522.5,889.0 1523.2,893.3 1524.0,900.5 1524.8,882.9 1525.5,908.0 1526.2,899.1 1527.0,896.5 1527.8,894.7 1528.5,894.0 1529.2,891.6 1530.0,906.4 1530.8,900.5 1531.5,904.7 1532.2,892.0 1533.0,887.1 1533.8,904.8 1534.5,883.9 1535.2,888.5 1536.0,899.0 1536.8,901.8 1537.5,882.2 1538.2,890.5 1539.0,892.8 1539.8,891.3 1540.5,885.3 1541.2,897.7 1542.0,887.9 1542.8,890.1 1543.5,873.8 1544.2,891.1 1545.0,876.2 1545.8,897.7 1546.5,896.0 1547.2,888.1 1548.0,893.6 1548.8,893.4 1549.5,891.6 1550.2,895.9 1551.0,892.4 1551.8,889.9 1552.5,887.7 1553.2,907.8 1554.0,896.4 1554.8,895.2 1555.5,901.5 1556.2,893.2 1557.0,893.8 1557.8,902.5 1558.5,905.9 1559.2,903.7 1560.0,887.3 1560.8,899.9 1561.5,899.9 1562.2,904.2 1563.0,894.2 1563.8,893.5 1564.5,901.4 1565.2,895.8 1566.0,895.0 1566.8,903.3 1567.5,911.7 1568.2,906.0 1569.0,914.2 1569.8,898.0 1570.5,911.9 1571.2,906.6 1572.0,900.1 1572.8,904.1 1573.5,900.9 1574.2,906.4 1575.0,902.4 1575.8,918.8 1576.5,905.9 1577.2,897.5 1578.0,907.5 1578.8,912.4 1579.5,906.8 1580.2,916.5 1581.0,902.3 1581.8,902.9 1582.5,923.1 1583.2,910.1 1584.0,914.6 1584.8,914.4 1585.5,915.2 1586.2,911.0 1587.0,909.2 1587.8,919.6 1588.5,907.1 1589.2,912.1 1590.0,916.8 1590.8,908.2 1591.5,899.1 1592.2,915.3 1593.0,920.4 1593.8,913.8 1594.5,898.4 1595.2,917.1 1596.0,927.9 1596.8,899.7 1597.5,893.5 1598.2,910.4 1599.0,913.0 1599.8,918.8 1600.5,919.1 1601.2,913.4 1602.0,917.0 1602.8,915.4 1603.5,913.8 1604.2,912.4 1605.0,911.6 1605.8,918.5 1606.5,916.2 1607.2,909.5 1608.0,921.7 1608.8,907.2 1609.5,911.1 1610.2,914.1 1611.0,897.8 1611.8,909.9 1612.5,919.6 1613.2,919.2 1614.0,903.0 1614.8,905.7 1615.5,903.6 1616.2,910.0 1617.0,911.1 1617.8,898.8 1618.5,913.6 1619.2,911.3 1620.0,909.9 1620.8,904.8 1621.5,908.3 1622.2,895.4 1623.0,910.8 1623.8,910.3 1624.5,907.4 1625.2,898.6 1626.0,917.5 1626.8,915.9 1627.5,892.1 1628.2,909.6 1629.0,907.2 1629.8,887.1 1630.5,909.3 1631.2,910.0 1632.0,910.2 1632.8,905.5 1633.5,898.7 1634.2,899.5 1635.0,907.1 1635.8,911.9 1636.5,898.6 1637.2,899.8 1638.0,907.0 1638.8,884.5 1639.5,904.2 1640.2,898.5 1641.0,882.9 1641.8,905.3 1642.5,891.8 1643.2,904.4 1644.0,908.3 1644.8,887.7 1645.5,887.5 1646.2,895.9 1647.0,882.2 1647.8,899.9 1648.5,895.0 1649.2,899.9 1650.0,878.6 1650.8,892.3 1651.5,893.1 1652.2,876.1 1653.0,893.6 1653.8,876.9 1654.5,885.9 1655.2,874.7 1656.0,886.7 1656.8,890.9 1657.5,878.8 1658.2,877.0 1659.0,883.4 1659.8,870.7 1660.5,872.2 1661.2,875.4 1662.0,871.2 1662.8,876.6 1663.5,872.5 1664.2,875.2 1665.0,861.5 1665.8,866.5 1666.5,853.0 1667.2,861.4 1668.0,864.3 1668.8,865.1 1669.5,842.8 1670.2,846.8 1671.0,849.4 1671.8,838.4 1672.5,843.6 1673.2,841.0 1674.0,833.2 1674.8,830.3 1675.5,825.7 1676.2,829.0 1677.0,830.8 1677.8,823.2 1678.5,829.4 1679.2,808.9 1680.0,810.0 1680.8,812.5 1681.5,801.2 1682.2,804.4 1683.0,802.9 1683.8,796.7 1684.5,791.4 1685.2,792.3 1686.0,786.4 1686.8,783.7 1687.5,779.0 1688.2,770.3 1689.0,764.6 1689.8,763.2 1690.5,761.1 1691.2,755.5 1692.0,755.3 1692.8,748.5 1693.5,746.7 1694.2,739.3 1695.0,731.9 1695.8,732.8 1696.5,726.9 1697.2,717.7 1698.0,714.3 1698.8,718.2 1699.5,698.1 1700.2,704.5 1701.0,696.0 1701.8,690.5 1702.5,684.7 1703.2,678.8 1704.0,682.2 1704.8,668.6 1705.5,663.6 1706.2,661.3 1707.0,654.5 1707.8,647.2 1708.5,641.3 1709.2,632.5 1710.0,633.8 1710.8,622.0 1711.5,612.5 1712.2,616.4 1713.0,609.7 1713.8,602.7 1714.5,594.4 1715.2,593.6 1716.0,581.3 1716.8,572.4 1717.5,574.0 1718.2,570.6 1719.0,564.7 1719.8,564.0 1720.5,555.0 1721.2,546.6 1722.0,541.7 1722.8,540.1 1723.5,532.5 1724.2,527.4 1725.0,518.9 1725.8,515.9 1726.5,509.6 1727.2,507.4 1728.0,504.8 1728.8,505.2 1729.5,508.0 1730.2,507.8 1731.0,514.3 1731.8,514.7 1732.5,522.7 1733.2,530.7 1734.0,539.7 1734.8,540.4 1735.5,550.2 1736.2,562.0 1737.0,574.9 1737.8,588.1 1738.5,602.8 1739.2,621.6 1740.0,642.0 1740.8,658.8 1741.5,677.3 1742.2,688.8 1743.0,695.2 1743.8,707.8 1744.5,720.9 1745.2,730.5 1746.0,738.7 1746.8,741.6 1747.5,751.5 1748.2,762.7 1749.0,766.9 1749.8,772.2 1750.5,781.2 1751.2,788.8 1752.0,792.6 1752.8,798.7 1753.5,806.8 1754.2,807.2 1755.0,811.2 1755.8,821.5 1756.5,819.4 1757.2,829.8 1758.0,829.2 1758.8,839.3 1759.5,834.4 1760.2,847.8 1761.0,847.5 1761.8,848.1 1762.5,848.7 1763.2,855.0 1764.0,854.2 1764.8,855.6 1765.5,869.6 1766.2,869.9 1767.0,875.8 1767.8,864.4 1768.5,863.2 1769.2,867.1 1770.0,882.0 1770.8,885.0 1771.5,870.5 1772.2,890.0 1773.0,882.4 1773.8,879.0 1774.5,887.7 1775.2,893.4 1776.0,889.5 1776.8,891.1 1777.5,887.8 1778.2,885.0 1779.0,893.3 1779.8,885.8 1780.5,902.4 1781.2,893.3 1782.0,909.6 1782.8,890.1 1783.5,912.4 1784.2,897.1 1785.0,898.0 1785.8,907.5 1786.5,912.8 1787.2,907.0 1788.0,905.8 1788.8,923.5 1789.5,913.9 1790.2,902.8 1791.0,910.5 1791.8,925.3 1792.5,916.7 1793.2,921.2 1794.0,930.8 1794.8,913.0 1795.5,920.9 1796.2,914.3 1797.0,920.0 1797.8,924.8 1798.5,912.1 1799.2,923.7 1800.0,924.5 1800.8,932.0 1801.5,920.6 1802.2,916.3 1803.0,929.3 1803.8,918.6 1804.5,929.0 1805.2,932.4 1806.0,922.1 1806.8,928.3 1807.5,921.9 1808.2,913.0 1809.0,919.7 1809.8,915.4 1810.5,931.8 1811.2,924.1 1812.0,931.5 1812.8,932.7 1813.5,941.6 1814.2,931.3 1815.0,931.4 1815.8,938.7 1816.5,947.5 1817.2,935.1 1818.0,938.7 1818.8,935.0 1819.5,931.5 1820.2,925.5 1821.0,937.0 1821.8,935.9 1822.5,936.4 1823.2,953.8 1824.0,936.5 1824.8,941.9 1825.5,937.1 1826.2,949.0 1827.0,938.1 1827.8,954.8 1828.5,939.0 1829.2,947.2 1830.0,949.3 1830.8,940.0 1831.5,948.6 1832.2,942.9 1833.0,936.9 1833.8,937.8 1834.5,945.7 1835.2,957.0 1836.0,939.9 1836.8,948.0 1837.5,937.9 1838.2,946.3 1839.0,934.5 1839.8,938.7 1840.5,944.8 1841.2,939.3 1842.0,943.1 1842.8,953.1 1843.5,944.6 1844.2,940.2 1845.0,936.4 1845.8,941.9 1846.5,954.8 1847.2,945.6 1848.0,945.2 1848.8,951.9 1849.5,952.9 1850.2,954.3 1851.0,944.0 1851.8,939.9 1852.5,934.3 1853.2,941.9 1854.0,944.4 1854.8,952.9 1855.5,949.9 1856.2,943.3 1857.0,954.4 1857.8,938.3 1858.5,939.9 1859.2,939.1 1860.0,939.9 1860.8,946.4 1861.5,942.1 1862.2,942.9 1863.0,959.0 1863.8,937.9 1864.5,941.4 1865.2,947.6 1866.0,953.0 1866.8,953.5 1867.5,948.1 1868.2,947.5 1869.0,948.5 1869.8,956.4 1870.5,944.2 1871.2,934.5 1872.0,953.4 1872.8,944.0 1873.5,952.7 1874.2,963.9 1875.0,955.2 1875.8,968.5 1876.5,944.4 1877.2,958.3 1878.0,960.1 1878.8,964.0 1879.5,953.2 1880.2,960.3 1881.0,960.5 1881.8,960.9 1882.5,950.7 1883.2,948.7 1884.0,965.8 1884.8,965.0 1885.5,963.3 1886.2,968.2 1887.0,972.0 1887.8,956.1 1888.5,970.9 1889.2,976.7 1890.0,973.8 1890.8,971.1 1891.5,972.5 1892.2,957.2 1893.0,964.7 1893.8,976.3 1894.5,980.2 1895.2,973.1 1896.0,966.7 1896.8,969.5 1897.5,977.2 1898.2,986.2 1899.0,977.4 1899.8,967.9 1900.5,976.8 1901.2,975.6 1902.0,989.5 1902.8,977.3 1903.5,973.3 1904.2,972.7 1905.0,964.3 1905.8,965.8 1906.5,970.3 1907.2,968.0 1908.0,975.7 1908.8,975.2 1909.5,981.7 1910.2,986.2 1911.0,976.2 1911.8,973.7 1912.5,961.4 1913.2,978.3 1914.0,980.6 1914.8,969.9 1915.5,972.9 1916.2,970.7 1917.0,984.0 1917.8,980.8 1918.5,985.4 1919.2,967.2 1920.0,993.3 1920.8,969.9 1921.5,968.6 1922.2,977.8 1923.0,972.1 1923.8,990.0 1924.5,973.2 1925.2,971.1 1926.0,983.6 1926.8,985.5 1927.5,969.9 1928.2,972.7 1929.0,973.5 1929.8,975.0 1930.5,989.2 1931.2,985.7 1932.0,984.3 1932.8,985.8 1933.5,976.3 1934.2,982.8 1935.0,975.6 1935.8,970.5 1936.5,988.8 1937.2,962.9 1938.0,976.2 1938.8,971.8 1939.5,963.6 1940.2,973.2 1941.0,976.6 1941.8,979.6 1942.5,969.8 1943.2,981.8 1944.0,978.4 1944.8,982.2 1945.5,961.5 1946.2,972.6 1947.0,971.4 1947.8,980.4 1948.5,970.4 1949.2,972.1 1950.0,967.3 1950.8,966.9 1951.5,968.9 1952.2,983.3 1953.0,967.9 1953.8,958.5 1954.5,978.1 1955.2,972.5 1956.0,980.1 1956.8,980.0 1957.5,973.5 1958.2,972.7 1959.0,971.7 1959.8,975.8 1960.5,970.0 1961.2,977.4 1962.0,986.4 1962.8,970.8 1963.5,971.1 1964.2,971.0 1965.0,980.5 1965.8,980.8 1966.5,986.7 1967.2,981.2 1968.0,976.7 1968.8,979.1 1969.5,965.6 1970.2,979.8 1971.0,976.7 1971.8,991.1 1972.5,985.7 1973.2,968.9 1974.0,970.7 1974.8,981.6 1975.5,959.1 1976.2,967.7 1977.0,977.4 1977.8,979.4 1978.5,975.8 1979.2,983.2 1980.0,972.2 1980.8,974.9 1981.5,972.7 1982.2,965.7 1983.0,974.4 1983.8,969.8 1984.5,974.6 1985.2,956.4 1986.0,974.9 1986.8,970.0 1987.5,969.5 1988.2,974.7 1989.0,970.9 1989.8,981.8 1990.5,984.4 1991.2,981.9 1992.0,982.8 1992.8,978.5 1993.5,976.3 1994.2,966.6 1995.0,973.9 1995.8,986.1 1996.5,983.1 1997.2,973.9 1998.0,978.7 1998.8,986.2 1999.5,977.3 2000.2,991.1 2001.0,973.3 2001.8,985.3 2002.5,984.8 2003.2,981.0 2004.0,982.2 2004.8,984.1 2005.5,962.7 2006.2,983.8 2007.0,989.1 2007.8,983.5 2008.5,989.3 2009.2,971.6 2010.0,980.2 2010.8,983.4 2011.5,978.9 2012.2,990.2 2013.0,984.9 2013.8,977.3 2014.5,987.6 2015.2,987.7 2016.0,978.1 2016.8,986.4 2017.5,984.5 2018.2,984.4 2019.0,972.1 2019.8,991.6 2020.5,986.8 2021.2,981.7 2022.0,984.6 2022.8,984.5 2023.5,979.7 2024.2,977.5 2025.0,982.8 2025.8,977.4 2026.5,978.3 2027.2,973.0 2028.0,979.7 2028.8,989.5 2029.5,983.2 2030.2,981.7 2031.0,978.7 2031.8,977.7 2032.5,969.2 2033.2,993.0 2034.0,974.5 2034.8,968.3 2035.5,982.5 2036.2,981.1 2037.0,974.8 2037.8,967.2 2038.5,967.6 2039.2,989.9 2040.0,976.7 2040.8,972.3 2041.5,991.3 2042.2,972.6 2043.0,969.4 2043.8,980.6 2044.5,979.1 2045.2,988.2 2046.0,964.0 2046.8,978.2 2047.5,962.9 2048.2,979.6 2049.0,971.0 2049.8,972.6 2050.5,970.6 2051.2,982.9 2052.0,989.1 2052.8,976.0 2053.5,974.9 2054.2,973.2 2055.0,981.3 2055.8,969.6 2056.5,995.5 2057.2,976.2 2058.0,991.5 2058.8,979.7 2059.5,968.2 2060.2,967.0 2061.0,976.1 2061.8,974.1 2062.5,978.0 2063.2,971.3 2064.0,998.3 2064.8,997.2 2065.5,967.1 2066.2,985.0 2067.0,990.8 2067.8,979.2 2068.5,980.3 2069.2,990.8 2070.0,986.8 2070.8,973.6 2071.5,992.7 2072.2,979.8 2073.0,998.2 2073.8,976.8 2074.5,967.1 2075.2,985.7 2076.0,994.7 2076.8,989.7 2077.5,987.2 2078.2,979.3 2079.0,993.8 2079.8,972.8 2080.5,993.6 2081.2,978.4 2082.0,983.5 2082.8,978.2 2083.5,981.6 2084.2,1000.6 2085.0,980.2 2085.8,991.1 2086.5,983.6 2087.2,998.1 2088.0,979.7 2088.8,990.6 2089.5,997.8 2090.2,1008.7 2091.0,981.8 2091.8,984.4 2092.5,991.0 2093.2,1003.2 2094.0,983.7 2094.8,998.4 2095.5,987.1 2096.2,984.0 2097.0,979.8 2097.8,993.5 2098.5,1000.4 2099.2,992.0 2100.0,976.1 2100.8,988.6 2101.5,1000.8 2102.2,1000.2 2103.0,995.6 2103.8,1005.2 2104.5,983.6 2105.2,984.0 2106.0,1012.5 2106.8,999.3 2107.5,992.5 2108.2,990.3 2109.0,976.8 2109.8,1001.0 2110.5,978.0 2111.2,978.9 2112.0,994.2 2112.8,1006.7 2113.5,991.7 2114.2,997.9 2115.0,991.6 2115.8,998.3 2116.5,981.9 2117.2,1012.1 2118.0,987.7 2118.8,1000.0 2119.5,979.3 2120.2,1009.9 2121.0,999.3 2121.8,1011.9 2122.5,990.7 2123.2,1004.3 2124.0,994.7 2124.8,995.8 2125.5,1006.7 2126.2,989.1 2127.0,1002.3 2127.8,1012.0 2128.5,1010.5 2129.2,1005.0 2130.0,999.2 2130.8,988.8 2131.5,1008.1 2132.2,991.1 2133.0,1006.2 2133.8,993.8 2134.5,996.4 2135.2,996.2 2136.0,1000.9 2136.8,992.4 2137.5,997.2 2138.2,991.4 2139.0,999.6 2139.8,997.4 2140.5,998.4 2141.2,987.9 2142.0,997.1 2142.8,994.6 2143.5,998.8 2144.2,994.3 2145.0,985.9 2145.8,999.3 2146.5,987.9 2147.2,995.4 2148.0,976.3 2148.8,996.9 2149.5,998.1 2150.2,985.3 2151.0,997.3 2151.8,989.6 2152.5,1003.7 2153.2,998.0 2154.0,982.5 2154.8,991.0 2155.5,978.4 2156.2,990.0 2157.0,997.0 2157.8,999.3 2158.5,991.7 2159.2,990.7 2160.0,993.9 2160.8,987.8 2161.5,995.3 2162.2,1001.7 2163.0,994.2 2163.8,999.6 2164.5,986.4 2165.2,988.7 2166.0,995.4 2166.8,1009.1 2167.5,1000.9 2168.2,1006.6 2169.0,993.2 2169.8,1002.8 2170.5,979.2 2171.2,997.1 2172.0,976.0 2172.8,1002.8 2173.5,996.8 2174.2,1002.3 2175.0,996.1 2175.8,988.7 2176.5,986.7 2177.2,994.1 2178.0,1004.4 2178.8,997.2 2179.5,987.6 2180.2,987.2 2181.0,985.9 2181.8,989.6 2182.5,990.3 2183.2,986.9 2184.0,990.6 2184.8,977.6 2185.5,1002.5 2186.2,991.7 2187.0,1001.6 2187.8,991.5 2188.5,987.3 2189.2,989.3 2190.0,990.1 2190.8,982.8 2191.5,984.8 2192.2,1003.0 2193.0,994.9 2193.8,983.0 2194.5,991.2 2195.2,980.1 2196.0,997.9 2196.8,978.3 2197.5,993.4 2198.2,986.2 2199.0,986.0 2199.8,979.0 2200.5,983.2 2201.2,978.9 2202.0,977.9 2202.8,988.2 2203.5,1002.3 2204.2,981.3 2205.0,991.8 2205.8,983.6 2206.5,977.8 2207.2,993.9 2208.0,988.1 2208.8,992.0 2209.5,983.7 2210.2,983.8 2211.0,976.0 2211.8,980.3 2212.5,995.6 2213.2,964.3 2214.0,985.3 2214.8,993.8 2215.5,988.5 2216.2,989.2 2217.0,980.3 2217.8,991.3 2218.5,991.7 2219.2,982.5 2220.0,996.0 2220.8,979.5 2221.5,965.6 2222.2,983.7 2223.0,983.2 2223.8,977.8 2224.5,981.1 2225.2,980.8 2226.0,971.3 2226.8,995.0 2227.5,986.0 2228.2,1003.4 2229.0,986.6 2229.8,990.0 2230.5,975.9 2231.2,995.4 2232.0,979.8 2232.8,992.4 2233.5,995.6 2234.2,994.7 2235.0,983.0 2235.8,983.5 2236.5,995.5 2237.2,998.9 2238.0,1001.2 2238.8,990.4 2239.5,990.2 2240.2,1004.6 2241.0,987.1 2241.8,997.5 2242.5,989.8 2243.2,981.9 2244.0,984.5 2244.8,996.3 2245.5,994.9 2246.2,997.2 2247.0,991.3 2247.8,990.5 2248.5,996.6 2249.2,993.4 2250.0,983.3 2250.8,992.1 2251.5,1008.0 2252.2,990.3 2253.0,1000.1 2253.8,995.8 2254.5,1002.0 2255.2,990.6 2256.0,987.9 2256.8,1000.6 2257.5,992.5 2258.2,997.6 2259.0,995.8 2259.8,1005.3 2260.5,1000.4 2261.2,999.9 2262.0,992.1 2262.8,988.1 2263.5,993.6 2264.2,1005.8 2265.0,1005.0 2265.8,1004.5 2266.5,997.7 2267.2,993.5 2268.0,1009.1 2268.8,1002.5 2269.5,1005.2 2270.2,995.0 2271.0,997.0 2271.8,1006.5 2272.5,1007.4 2273.2,995.3 2274.0,1004.5 2274.8,994.5 2275.5,1011.3 2276.2,1007.5 2277.0,1018.9 2277.8,1013.6 2278.5,998.6 2279.2,1004.7 2280.0,1000.1 2280.8,1004.5 2281.5,1009.1 2282.2,1003.7 2283.0,1004.3 2283.8,994.7 2284.5,1008.0 2285.2,1004.0 2286.0,1008.5 2286.8,1011.4 2287.5,1004.6 2288.2,1009.2 2289.0,1000.4 2289.8,1011.0 2290.5,1004.5 2291.2,1000.7 2292.0,1003.2 2292.8,995.2 2293.5,1000.5 2294.2,1002.0 2295.0,1005.1 2295.8,1004.4 2296.5,1000.7 2297.2,1003.7 2298.0,990.7 2298.8,1005.6 2299.5,1008.7 2300.2,1010.1 2301.0,1012.0 2301.8,1003.4 2302.5,1004.2 2303.2,1001.5 2304.0,1001.4 2304.8,1005.3 2305.5,1013.2 2306.2,993.2 2307.0,1000.9 2307.8,1005.8 2308.5,997.4 2309.2,1006.5 2310.0,994.8 2310.8,1001.3 2311.5,992.8 2312.2,1005.1 2313.0,998.2 2313.8,1007.3 2314.5,1001.2 2315.2,996.9 2316.0,1000.3 2316.8,1003.7 2317.5,1002.8 2318.2,1001.2 2319.0,1000.6 2319.8,1002.9 2320.5,1008.2 2321.2,999.2 2322.0,1005.6 2322.8,994.5 2323.5,1008.7 2324.2,1005.3 2325.0,1000.8 2325.8,1001.0 2326.5,992.5 2327.2,1003.8 2328.0,1001.8 2328.8,994.7 2329.5,1000.7 2330.2,1007.1 2331.0,1004.7 2331.8,1005.4 2332.5,1000.4 2333.2,1009.1 2334.0,1003.9 2334.8,1009.3 2335.5,1017.8 2336.2,992.1 2337.0,1001.4 2337.8,1004.6 2338.5,1000.2 2339.2,1011.0 2340.0,1002.7 2340.8,1015.1 2341.5,1009.7 2342.2,1007.8 2343.0,1005.2 2343.8,1010.6 2344.5,1008.6 2345.2,1014.6 2346.0,1008.4 2346.8,1012.2 2347.5,1008.7 2348.2,1008.4 2349.0,997.3 2349.8,1006.8 2350.5,1009.2 2351.2,1000.2"/>
<polyline fill="none" stroke="#0000FF" stroke-width="5.7" stroke-linejoin="round" stroke-linecap="round" points="163.5,968.4 164.2,925.0 165.0,952.3 165.8,942.8 166.5,944.3 167.2,947.2 168.0,930.5 168.8,948.4 169.5,943.3 170.2,973.6 171.0,955.3 171.8,951.0 172.5,952.8 173.2,950.4 174.0,948.0 174.8,955.1 175.5,964.1 176.2,958.7 177.0,970.6 177.8,961.2 178.5,964.3 179.2,979.3 180.0,971.1 180.8,962.2 181.5,966.2 182.2,973.8 183.0,987.5 183.8,968.3 184.5,969.6 185.2,982.0 186.0,965.8 186.8,972.3 187.5,984.0 188.2,982.3 189.0,979.0 189.8,985.3 190.5,959.3 191.2,990.6 192.0,973.5 192.8,968.1 193.5,986.9 194.2,991.8 195.0,982.2 195.8,977.2 196.5,988.4 197.2,988.5 198.0,1003.1 198.8,997.8 199.5,993.3 200.2,1002.9 201.0,991.0 201.8,984.8 202.5,1000.0 203.2,1000.6 204.0,993.5 204.8,988.6 205.5,999.0 206.2,974.9 207.0,1004.6 207.8,1003.3 208.5,983.0 209.2,1000.1 210.0,990.6 210.8,1008.0 211.5,981.3 212.2,992.7 213.0,1009.2 213.8,1014.1 214.5,982.3 215.2,999.1 216.0,1007.7 216.8,999.2 217.5,1021.1 218.2,994.9 219.0,1010.5 219.8,997.7 220.5,1021.9 221.2,1009.0 222.0,1006.5 222.8,994.6 223.5,1027.5 224.2,1019.6 225.0,1020.5 225.8,1025.0 226.5,1018.5 227.2,1010.2 228.0,1009.7 228.8,1010.7 229.5,1031.7 230.2,1006.5 231.0,1015.4 231.8,1019.0 232.5,1025.0 233.2,1029.2 234.0,1013.2 234.8,1009.7 235.5,1026.7 236.2,1039.0 237.0,1035.6 237.8,1031.5 238.5,1027.3 239.2,1033.9 240.0,1029.7 240.8,1040.6 241.5,1026.0 242.2,1035.7 243.0,1034.1 243.8,1041.1 244.5,1038.8 245.2,1059.5 246.0,1052.5 246.8,1053.3 247.5,1020.0 248.2,1037.1 249.0,1035.2 249.8,1046.9 250.5,1020.5 251.2,1054.5 252.0,1054.2 252.8,1032.1 253.5,1036.0 254.2,1038.4 255.0,1047.2 255.8,1053.7 256.5,1067.9 257.2,1047.2 258.0,1057.2 258.8,1052.1 259.5,1068.2 260.2,1059.3 261.0,1066.1 261.8,1043.8 262.5,1053.0 263.2,1048.1 264.0,1070.8 264.8,1063.7 265.5,1055.7 266.2,1055.3 267.0,1065.0 267.8,1054.9 268.5,1053.7 269.2,1067.8 270.0,1085.7 270.8,1063.0 271.5,1061.1 272.2,1056.3 273.0,1055.6 273.8,1074.0 274.5,1078.0 275.2,1071.0 276.0,1074.9 276.8,1073.7 277.5,1074.7 278.2,1059.6 279.0,1070.6 279.8,1076.8 280.5,1068.9 281.2,1072.6 282.0,1069.9 282.8,1075.3 283.5,1087.5 284.2,1075.9 285.0,1078.9 285.8,1089.0 286.5,1088.0 287.2,1098.9 288.0,1062.3 288.8,1091.9 289.5,1079.3 290.2,1085.9 291.0,1093.4 291.8,1096.4 292.5,1096.5 293.2,1088.4 294.0,1103.3 294.8,1085.2 295.5,1087.1 296.2,1097.0 297.0,1084.2 297.8,1111.5 298.5,1100.8 299.2,1112.8 300.0,1091.7 300.8,1088.9 301.5,1094.9 302.2,1101.0 303.0,1088.8 303.8,1098.9 304.5,1095.6 305.2,1112.2 306.0,1090.7 306.8,1108.0 307.5,1092.2 308.2,1089.8 309.0,1092.9 309.8,1088.8 310.5,1102.5 311.2,1111.8 312.0,1104.0 312.8,1109.1 313.5,1119.6 314.2,1106.8 315.0,1106.7 315.8,1102.6 316.5,1089.9 317.2,1113.9 318.0,1089.3 318.8,1113.8 319.5,1107.6 320.2,1119.4 321.0,1107.8 321.8,1100.6 322.5,1112.9 323.2,1104.0 324.0,1108.2 324.8,1110.8 325.5,1109.4 326.2,1109.2 327.0,1103.0 327.8,1109.8 328.5,1090.5 329.2,1110.8 330.0,1100.6 330.8,1124.3 331.5,1126.1 332.2,1093.8 333.0,1115.3 333.8,1112.8 334.5,1103.7 335.2,1120.0 336.0,1110.1 336.8,1097.1 337.5,1112.6 338.2,1114.0 339.0,1116.8 339.8,1103.4 340.5,1122.4 341.2,1123.8 342.0,1104.9 342.8,1110.1 343.5,1116.1 344.2,1111.4 345.0,1135.1 345.8,1119.7 346.5,1107.5 347.2,1110.0 348.0,1117.6 348.8,1141.7 349.5,1116.7 350.2,1120.0 351.0,1124.1 351.8,1118.6 352.5,1142.5 353.2,1113.9 354.0,1127.1 354.8,1121.2 355.5,1126.0 356.2,1107.8 357.0,1137.9 357.8,1118.7 358.5,1120.3 359.2,1110.4 360.0,1112.5 360.8,1125.8 361.5,1130.1 362.2,1127.7 363.0,1132.4 363.8,1127.3 364.5,1120.3 365.2,1128.6 366.0,1126.1 366.8,1119.0 367.5,1127.4 368.2,1133.2 369.0,1122.4 369.8,1116.4 370.5,1127.4 371.2,1139.5 372.0,1117.8 372.8,1119.1 373.5,1118.6 374.2,1132.5 375.0,1101.2 375.8,1123.7 376.5,1132.2 377.2,1111.7 378.0,1135.3 378.8,1125.5 379.5,1114.4 380.2,1122.1 381.0,1104.3 381.8,1114.2 382.5,1138.7 383.2,1110.8 384.0,1138.8 384.8,1119.0 385.5,1130.0 386.2,1120.2 387.0,1096.7 387.8,1113.7 388.5,1121.5 389.2,1107.7 390.0,1105.6 390.8,1123.0 391.5,1112.5 392.2,1101.7 393.0,1112.0 393.8,1127.7 394.5,1113.9 395.2,1128.3 396.0,1134.3 396.8,1118.8 397.5,1106.8 398.2,1104.9 399.0,1117.9 399.8,1127.1 400.5,1120.7 401.2,1123.4 402.0,1113.1 402.8,1120.5 403.5,1112.3 404.2,1113.6 405.0,1103.5 405.8,1100.3 406.5,1111.2 407.2,1104.5 408.0,1105.7 408.8,1122.0 409.5,1113.7 410.2,1138.0 411.0,1123.7 411.8,1107.5 412.5,1121.6 413.2,1117.0 414.0,1106.1 414.8,1124.2 415.5,1104.7 416.2,1088.9 417.0,1120.5 417.8,1105.8 418.5,1127.4 419.2,1105.3 420.0,1099.8 420.8,1128.0 421.5,1101.1 422.2,1114.5 423.0,1127.5 423.8,1114.2 424.5,1112.7 425.2,1115.1 426.0,1123.0 426.8,1107.2 427.5,1121.9 428.2,1122.2 429.0,1139.8 429.8,1114.7 430.5,1109.9 431.2,1126.7 432.0,1116.5 432.8,1124.0 433.5,1123.3 434.2,1134.2 435.0,1117.2 435.8,1123.4 436.5,1102.5 437.2,1117.0 438.0,1141.7 438.8,1120.3 439.5,1120.6 440.2,1115.9 441.0,1134.5 441.8,1131.0 442.5,1117.7 443.2,1136.9 444.0,1133.2 444.8,1138.7 445.5,1125.1 446.2,1149.6 447.0,1136.6 447.8,1131.7 448.5,1128.1 449.2,1131.3 450.0,1142.9 450.8,1131.9 451.5,1146.0 452.2,1141.4 453.0,1149.6 453.8,1144.6 454.5,1136.2 455.2,1117.8 456.0,1140.7 456.8,1146.1 457.5,1140.2 458.2,1144.6 459.0,1134.6 459.8,1136.0 460.5,1130.8 461.2,1154.5 462.0,1142.9 462.8,1136.8 463.5,1128.9 464.2,1141.3 465.0,1157.9 465.8,1148.6 466.5,1137.2 467.2,1159.4 468.0,1160.0 468.8,1156.0 469.5,1154.7 470.2,1158.9 471.0,1153.3 471.8,1156.1 472.5,1140.9 473.2,1164.4 474.0,1152.0 474.8,1170.7 475.5,1129.6 476.2,1158.0 477.0,1161.2 477.8,1147.9 478.5,1156.3 479.2,1159.6 480.0,1158.0 480.8,1146.5 481.5,1150.8 482.2,1162.9 483.0,1165.7 483.8,1153.6 484.5,1153.5 485.2,1154.9 486.0,1163.7 486.8,1142.1 487.5,1139.4 488.2,1154.5 489.0,1141.8 489.8,1147.3 490.5,1154.4 491.2,1158.6 492.0,1142.5 492.8,1162.0 493.5,1135.3 494.2,1159.5 495.0,1137.5 495.8,1140.7 496.5,1160.6 497.2,1149.7 498.0,1145.7 498.8,1149.4 499.5,1158.8 500.2,1153.4 501.0,1153.7 501.8,1164.9 502.5,1146.5 503.2,1149.0 504.0,1148.5 504.8,1166.0 505.5,1164.1 506.2,1167.2 507.0,1153.4 507.8,1152.1 508.5,1162.5 509.2,1149.4 510.0,1162.1 510.8,1160.9 511.5,1146.0 512.2,1152.3 513.0,1151.8 513.8,1170.9 514.5,1176.6 515.2,1151.6 516.0,1152.6 516.8,1128.8 517.5,1154.3 518.2,1151.8 519.0,1143.0 519.8,1150.7 520.5,1136.5 521.2,1136.8 522.0,1132.6 522.8,1124.1 523.5,1123.9 524.2,1120.3 525.0,1113.3 525.8,1112.1 526.5,1117.3 527.2,1119.1 528.0,1121.2 528.8,1128.0 529.5,1133.9 530.2,1139.2 531.0,1148.0 531.8,1150.8 532.5,1165.3 533.2,1165.7 534.0,1159.4 534.8,1163.8 535.5,1166.6 536.2,1160.4 537.0,1140.5 537.8,1162.3 538.5,1154.3 539.2,1170.5 540.0,1154.8 540.8,1159.4 541.5,1157.5 542.2,1171.8 543.0,1156.3 543.8,1151.8 544.5,1158.0 545.2,1150.4 546.0,1156.8 546.8,1155.2 547.5,1158.3 548.2,1175.7 549.0,1151.6 549.8,1156.4 550.5,1154.0 551.2,1163.3 552.0,1144.1 552.8,1149.4 553.5,1156.3 554.2,1162.6 555.0,1156.5 555.8,1151.9 556.5,1148.3 557.2,1162.8 558.0,1172.6 558.8,1161.0 559.5,1159.8 560.2,1162.5 561.0,1148.2 561.8,1154.8 562.5,1155.4 563.2,1161.4 564.0,1158.1 564.8,1145.8 565.5,1170.4 566.2,1176.4 567.0,1156.1 567.8,1163.1 568.5,1161.8 569.2,1167.3 570.0,1143.7 570.8,1176.2 571.5,1154.5 572.2,1172.7 573.0,1160.4 573.8,1155.5 574.5,1158.2 575.2,1169.1 576.0,1150.8 576.8,1155.9 577.5,1154.9 578.2,1142.0 579.0,1173.6 579.8,1166.1 580.5,1159.8 581.2,1172.2 582.0,1149.9 582.8,1159.1 583.5,1177.9 584.2,1169.9 585.0,1136.3 585.8,1135.3 586.5,1148.3 587.2,1170.0 588.0,1153.7 588.8,1156.1 589.5,1164.5 590.2,1148.6 591.0,1159.8 591.8,1165.5 592.5,1161.8 593.2,1160.8 594.0,1150.1 594.8,1161.4 595.5,1151.3 596.2,1169.1 597.0,1179.2 597.8,1147.2 598.5,1132.0 599.2,1150.0 600.0,1158.2 600.8,1165.1 601.5,1165.2 602.2,1145.5 603.0,1145.3 603.8,1166.7 604.5,1141.9 605.2,1164.6 606.0,1150.7 606.8,1161.0 607.5,1160.3 608.2,1160.9 609.0,1161.2 609.8,1142.1 610.5,1155.5 611.2,1152.5 612.0,1155.5 612.8,1165.1 613.5,1149.2 614.2,1144.4 615.0,1144.1 615.8,1148.4 616.5,1159.5 617.2,1142.9 618.0,1163.5 618.8,1154.2 619.5,1148.7 620.2,1136.9 621.0,1153.3 621.8,1157.8 622.5,1131.8 623.2,1162.7 624.0,1167.3 624.8,1153.3 625.5,1154.7 626.2,1173.3 627.0,1161.8 627.8,1139.2 628.5,1148.0 629.2,1146.1 630.0,1145.8 630.8,1123.1 631.5,1154.2 632.2,1139.3 633.0,1147.1 633.8,1143.5 634.5,1153.3 635.2,1140.8 636.0,1135.1 636.8,1148.2 637.5,1156.6 638.2,1138.4 639.0,1155.2 639.8,1143.3 640.5,1134.5 641.2,1155.2 642.0,1130.5 642.8,1149.0 643.5,1132.8 644.2,1142.2 645.0,1124.3 645.8,1127.9 646.5,1147.4 647.2,1137.8 648.0,1135.9 648.8,1130.6 649.5,1139.5 650.2,1119.8 651.0,1122.4 651.8,1132.2 652.5,1124.7 653.2,1125.8 654.0,1132.1 654.8,1131.1 655.5,1129.9 656.2,1149.5 657.0,1142.3 657.8,1144.3 658.5,1130.8 659.2,1125.5 660.0,1115.2 660.8,1126.5 661.5,1107.9 662.2,1123.5 663.0,1137.4 663.8,1146.1 664.5,1138.9 665.2,1119.4 666.0,1133.3 666.8,1119.5 667.5,1136.2 668.2,1126.0 669.0,1135.9 669.8,1150.8 670.5,1135.9 671.2,1150.1 672.0,1127.4 672.8,1121.7 673.5,1138.9 674.2,1142.7 675.0,1118.3 675.8,1124.6 676.5,1108.4 677.2,1121.0 678.0,1132.1 678.8,1121.5 679.5,1116.1 680.2,1106.9 681.0,1125.2 681.8,1129.4 682.5,1126.9 683.2,1122.9 684.0,1106.4 684.8,1138.0 685.5,1118.5 686.2,1117.2 687.0,1126.0 687.8,1095.2 688.5,1116.9 689.2,1115.7 690.0,1120.7 690.8,1130.5 691.5,1120.9 692.2,1096.3 693.0,1111.6 693.8,1116.9 694.5,1115.8 695.2,1100.4 696.0,1096.0 696.8,1118.8 697.5,1116.2 698.2,1111.9 699.0,1093.6 699.8,1129.8 700.5,1086.6 701.2,1106.5 702.0,1131.8 702.8,1107.7 703.5,1111.3 704.2,1096.1 705.0,1122.2 705.8,1093.9 706.5,1109.6 707.2,1107.9 708.0,1095.0 708.8,1114.7 709.5,1090.2 710.2,1097.3 711.0,1103.6 711.8,1099.1 712.5,1107.8 713.2,1112.0 714.0,1098.7 714.8,1095.6 715.5,1095.3 716.2,1096.3 717.0,1108.0 717.8,1096.7 718.5,1102.6 719.2,1096.9 720.0,1088.4 720.8,1105.5 721.5,1085.2 722.2,1095.3 723.0,1109.9 723.8,1082.7 724.5,1092.7 725.2,1076.3 726.0,1086.6 726.8,1075.8 727.5,1086.7 728.2,1084.1 729.0,1090.2 729.8,1104.3 730.5,1090.3 731.2,1093.3 732.0,1085.3 732.8,1082.6 733.5,1075.8 734.2,1065.2 735.0,1083.5 735.8,1098.7 736.5,1086.2 737.2,1075.1 738.0,1096.7 738.8,1074.6 739.5,1072.0 740.2,1065.2 741.0,1067.0 741.8,1073.7 742.5,1096.1 743.2,1072.7 744.0,1063.5 744.8,1067.1 745.5,1070.2 746.2,1054.3 747.0,1072.1 747.8,1077.0 748.5,1072.3 749.2,1074.2 750.0,1054.3 750.8,1049.3 751.5,1078.5 752.2,1075.8 753.0,1048.3 753.8,1065.1 754.5,1062.5 755.2,1067.0 756.0,1062.8 756.8,1054.8 757.5,1061.3 758.2,1060.2 759.0,1057.5 759.8,1037.9 760.5,1032.6 761.2,1048.1 762.0,1038.6 762.8,1058.4 763.5,1063.1 764.2,1058.1 765.0,1051.1 765.8,1055.8 766.5,1067.7 767.2,1047.2 768.0,1065.2 768.8,1063.1 769.5,1058.6 770.2,1071.6 771.0,1048.7 771.8,1066.9 772.5,1047.3 773.2,1049.4 774.0,1046.7 774.8,1063.2 775.5,1048.8 776.2,1059.8 777.0,1047.4 777.8,1071.4 778.5,1080.0 779.2,1062.9 780.0,1078.4 780.8,1067.0 781.5,1084.6 782.2,1062.6 783.0,1044.8 783.8,1078.1 784.5,1060.9 785.2,1051.3 786.0,1055.6 786.8,1045.4 787.5,1061.4 788.2,1051.8 789.0,1079.7 789.8,1071.1 790.5,1046.2 791.2,1048.1 792.0,1058.6 792.8,1044.2 793.5,1064.1 794.2,1065.2 795.0,1057.6 795.8,1060.4 796.5,1072.0 797.2,1082.2 798.0,1083.4 798.8,1068.0 799.5,1077.2 800.2,1060.3 801.0,1073.0 801.8,1058.5 802.5,1077.1 803.2,1056.1 804.0,1059.4 804.8,1070.0 805.5,1076.4 806.2,1055.0 807.0,1065.0 807.8,1072.5 808.5,1073.7 809.2,1062.3 810.0,1072.6 810.8,1068.8 811.5,1087.2 812.2,1078.0 813.0,1057.5 813.8,1047.9 814.5,1073.0 815.2,1084.4 816.0,1073.0 816.8,1079.5 817.5,1064.6 818.2,1055.1 819.0,1074.6 819.8,1067.0 820.5,1071.2 821.2,1050.5 822.0,1063.8 822.8,1054.8 823.5,1067.1 824.2,1052.5 825.0,1051.1 825.8,1050.2 826.5,1066.6 827.2,1053.5 828.0,1044.8 828.8,1041.0 829.5,1039.4 830.2,1061.1 831.0,1029.2 831.8,1036.8 832.5,1049.5 833.2,1053.6 834.0,1039.6 834.8,1048.0 835.5,1047.1 836.2,1049.0 837.0,1038.5 837.8,1055.6 838.5,1039.6 839.2,1053.9 840.0,1024.9 840.8,1047.1 841.5,1022.9 842.2,1020.1 843.0,1041.8 843.8,1027.1 844.5,1040.9 845.2,1024.1 846.0,1053.2 846.8,1035.5 847.5,1022.8 848.2,1036.7 849.0,1043.9 849.8,1025.8 850.5,1038.5 851.2,1052.6 852.0,1039.5 852.8,1029.7 853.5,1023.2 854.2,1031.6 855.0,1012.1 855.8,1003.7 856.5,1015.5 857.2,1010.2 858.0,1029.0 858.8,1014.6 859.5,1004.0 860.2,1000.2 861.0,1008.6 861.8,997.4 862.5,994.8 863.2,991.8 864.0,986.7 864.8,980.5 865.5,974.1 866.2,972.0 867.0,967.4 867.8,948.5 868.5,959.0 869.2,945.0 870.0,944.6 870.8,930.9 871.5,930.4 872.2,924.7 873.0,918.9 873.8,916.3 874.5,909.6 875.2,897.9 876.0,893.4 876.8,886.9 877.5,877.6 878.2,866.5 879.0,858.0 879.8,850.5 880.5,843.2 881.2,838.6 882.0,842.4 882.8,841.5 883.5,849.4 884.2,859.1 885.0,873.0 885.8,885.8 886.5,892.8 887.2,901.8 888.0,903.6 888.8,918.6 889.5,921.4 890.2,919.3 891.0,933.6 891.8,933.8 892.5,938.0 893.2,940.8 894.0,933.6 894.8,935.5 895.5,947.8 896.2,941.8 897.0,933.2 897.8,964.3 898.5,941.7 899.2,938.4 900.0,937.4 900.8,952.1 901.5,955.4 902.2,948.2 903.0,955.0 903.8,931.4 904.5,943.4 905.2,943.2 906.0,948.7 906.8,954.2 907.5,932.8 908.2,971.3 909.0,947.0 909.8,958.6 910.5,964.2 911.2,966.4 912.0,964.1 912.8,947.9 913.5,959.5 914.2,974.9 915.0,965.5 915.8,967.0 916.5,960.0 917.2,988.0 918.0,985.1 918.8,977.0 919.5,984.8 920.2,987.2 921.0,982.2 921.8,990.6 922.5,996.7 923.2,1001.1 924.0,1008.5 924.8,1002.1 925.5,1001.0 926.2,1009.5 927.0,1004.5 927.8,1002.4 928.5,1021.8 929.2,1013.2 930.0,1019.1 930.8,1025.2 931.5,1014.6 932.2,1029.6 933.0,1030.3 933.8,1028.3 934.5,1034.1 935.2,1027.4 936.0,1018.3 936.8,1034.9 937.5,1032.1 938.2,1047.6 939.0,1045.0 939.8,1041.0 940.5,1047.3 941.2,1059.0 942.0,1059.4 942.8,1056.0 943.5,1058.6 944.2,1056.0 945.0,1059.7 945.8,1067.0 946.5,1065.8 947.2,1071.5 948.0,1067.0 948.8,1067.4 949.5,1070.6 950.2,1080.9 951.0,1094.4 951.8,1096.9 952.5,1085.8 953.2,1083.8 954.0,1103.0 954.8,1102.4 955.5,1087.0 956.2,1110.5 957.0,1102.5 957.8,1114.1 958.5,1104.8 959.2,1110.5 960.0,1105.2 960.8,1092.8 961.5,1100.1 962.2,1095.9 963.0,1111.0 963.8,1093.1 964.5,1088.0 965.2,1110.0 966.0,1114.7 966.8,1117.8 967.5,1114.6 968.2,1089.6 969.0,1097.8 969.8,1099.7 970.5,1105.2 971.2,1085.8 972.0,1106.7 972.8,1110.1 973.5,1100.0 974.2,1110.6 975.0,1121.0 975.8,1112.2 976.5,1122.0 977.2,1122.9 978.0,1119.0 978.8,1120.1 979.5,1115.1 980.2,1129.8 981.0,1117.3 981.8,1117.3 982.5,1129.7 983.2,1121.0 984.0,1131.4 984.8,1137.9 985.5,1133.0 986.2,1135.2 987.0,1143.1 987.8,1144.0 988.5,1129.3 989.2,1132.6 990.0,1154.4 990.8,1148.9 991.5,1130.2 992.2,1137.2 993.0,1149.9 993.8,1142.6 994.5,1156.1 995.2,1153.8 996.0,1158.5 996.8,1145.1 997.5,1161.7 998.2,1174.5 999.0,1151.1 999.8,1170.7 1000.5,1168.6 1001.2,1166.3 1002.0,1160.5 1002.8,1151.0 1003.5,1154.1 1004.2,1169.8 1005.0,1172.2 1005.8,1174.9 1006.5,1172.9 1007.2,1172.7 1008.0,1160.7 1008.8,1153.8 1009.5,1167.3 1010.2,1170.4 1011.0,1166.9 1011.8,1152.2 1012.5,1161.8 1013.2,1153.2 1014.0,1168.6 1014.8,1157.7 1015.5,1166.2 1016.2,1171.0 1017.0,1169.6 1017.8,1181.3 1018.5,1158.5 1019.2,1148.7 1020.0,1178.0 1020.8,1182.5 1021.5,1183.0 1022.2,1172.5 1023.0,1175.1 1023.8,1171.5 1024.5,1158.6 1025.2,1165.5 1026.0,1175.6 1026.8,1165.9 1027.5,1188.9 1028.2,1157.7 1029.0,1168.1 1029.8,1181.6 1030.5,1167.3 1031.2,1164.3 1032.0,1164.4 1032.8,1164.7 1033.5,1165.6 1034.2,1159.1 1035.0,1155.8 1035.8,1152.3 1036.5,1155.0 1037.2,1156.8 1038.0,1159.8 1038.8,1165.4 1039.5,1171.7 1040.2,1180.1 1041.0,1175.8 1041.8,1180.4 1042.5,1193.7 1043.2,1169.2 1044.0,1165.1 1044.8,1185.2 1045.5,1180.3 1046.2,1175.4 1047.0,1178.7 1047.8,1173.3 1048.5,1181.0 1049.2,1173.3 1050.0,1183.6 1050.8,1165.7 1051.5,1168.9 1052.2,1177.4 1053.0,1172.1 1053.8,1182.6 1054.5,1175.9 1055.2,1171.4 1056.0,1178.2 1056.8,1171.6 1057.5,1162.3 1058.2,1166.1 1059.0,1169.1 1059.8,1172.1 1060.5,1177.2 1061.2,1184.6 1062.0,1181.3 1062.8,1192.4 1063.5,1187.8 1064.2,1174.7 1065.0,1191.2 1065.8,1187.0 1066.5,1172.3 1067.2,1179.2 1068.0,1186.2 1068.8,1178.6 1069.5,1185.5 1070.2,1179.8 1071.0,1182.3 1071.8,1172.9 1072.5,1178.7 1073.2,1171.7 1074.0,1180.2 1074.8,1159.3 1075.5,1175.9 1076.2,1182.9 1077.0,1176.4 1077.8,1170.5 1078.5,1174.4 1079.2,1162.1 1080.0,1161.3 1080.8,1164.3 1081.5,1165.1 1082.2,1173.2 1083.0,1157.1 1083.8,1171.4 1084.5,1149.9 1085.2,1155.0 1086.0,1159.5 1086.8,1166.9 1087.5,1152.4 1088.2,1139.9 1089.0,1156.5 1089.8,1151.6 1090.5,1142.6 1091.2,1141.1 1092.0,1141.6 1092.8,1144.8 1093.5,1146.3 1094.2,1130.6 1095.0,1151.9 1095.8,1135.3 1096.5,1131.0 1097.2,1135.1 1098.0,1129.4 1098.8,1139.1 1099.5,1129.6 1100.2,1118.8 1101.0,1115.8 1101.8,1112.2 1102.5,1109.8 1103.2,1111.5 1104.0,1101.7 1104.8,1108.7 1105.5,1097.3 1106.2,1093.3 1107.0,1094.2 1107.8,1077.8 1108.5,1078.1 1109.2,1079.9 1110.0,1073.1 1110.8,1068.3 1111.5,1064.9 1112.2,1056.4 1113.0,1052.8 1113.8,1043.6 1114.5,1036.6 1115.2,1041.0 1116.0,1028.3 1116.8,1023.0 1117.5,1022.4 1118.2,1014.6 1119.0,1003.4 1119.8,995.9 1120.5,988.9 1121.2,977.7 1122.0,966.6 1122.8,952.0 1123.5,938.0 1124.2,926.0 1125.0,916.6 1125.8,913.7 1126.5,913.9 1127.2,913.8 1128.0,922.2 1128.8,926.7 1129.5,932.6 1130.2,942.9 1131.0,942.3 1131.8,945.8 1132.5,956.2 1133.2,946.7 1134.0,946.8 1134.8,956.5 1135.5,963.8 1136.2,962.1 1137.0,953.5 1137.8,961.2 1138.5,966.8 1139.2,980.1 1140.0,978.0 1140.8,980.9 1141.5,985.8 1142.2,981.6 1143.0,988.5 1143.8,991.7 1144.5,987.7 1145.2,995.5 1146.0,1001.5 1146.8,996.9 1147.5,1009.1 1148.2,1012.2 1149.0,1016.8 1149.8,1012.0 1150.5,1019.5 1151.2,1028.9 1152.0,1029.6 1152.8,1026.6 1153.5,1034.7 1154.2,1043.5 1155.0,1041.5 1155.8,1047.4 1156.5,1058.9 1157.2,1054.1 1158.0,1058.1 1158.8,1058.8 1159.5,1064.3 1160.2,1076.9 1161.0,1074.6 1161.8,1074.6 1162.5,1079.8 1163.2,1087.7 1164.0,1094.8 1164.8,1093.2 1165.5,1103.1 1166.2,1102.4 1167.0,1109.8 1167.8,1114.3 1168.5,1118.5 1169.2,1117.3 1170.0,1121.8 1170.8,1128.1 1171.5,1122.6 1172.2,1132.7 1173.0,1137.3 1173.8,1142.9 1174.5,1140.3 1175.2,1142.3 1176.0,1146.7 1176.8,1144.8 1177.5,1150.2 1178.2,1156.1 1179.0,1158.0 1179.8,1153.4 1180.5,1159.7 1181.2,1152.4 1182.0,1170.7 1182.8,1165.8 1183.5,1172.4 1184.2,1167.3 1185.0,1175.2 1185.8,1180.5 1186.5,1185.8 1187.2,1175.3 1188.0,1189.7 1188.8,1186.7 1189.5,1185.8 1190.2,1195.0 1191.0,1193.4 1191.8,1195.8 1192.5,1196.0 1193.2,1203.4 1194.0,1204.8 1194.8,1205.9 1195.5,1203.7 1196.2,1208.3 1197.0,1215.7 1197.8,1223.0 1198.5,1217.0 1199.2,1227.6 1200.0,1220.7 1200.8,1215.7 1201.5,1228.2 1202.2,1219.9 1203.0,1230.2 1203.8,1236.1 1204.5,1228.9 1205.2,1231.8 1206.0,1249.1 1206.8,1237.0 1207.5,1238.6 1208.2,1243.5 1209.0,1239.0 1209.8,1240.5 1210.5,1244.9 1211.2,1228.1 1212.0,1254.6 1212.8,1238.7 1213.5,1239.8 1214.2,1252.1 1215.0,1249.7 1215.8,1241.8 1216.5,1253.1 1217.2,1244.5 1218.0,1248.7 1218.8,1243.9 1219.5,1249.7 1220.2,1259.3 1221.0,1258.3 1221.8,1260.6 1222.5,1265.9 1223.2,1259.9 1224.0,1256.4 1224.8,1260.1 1225.5,1274.7 1226.2,1264.2 1227.0,1267.1 1227.8,1265.2 1228.5,1268.6 1229.2,1270.9 1230.0,1268.8 1230.8,1268.9 1231.5,1265.6 1232.2,1266.2 1233.0,1275.9 1233.8,1279.3 1234.5,1281.5 1235.2,1276.5 1236.0,1271.2 1236.8,1282.4 1237.5,1283.1 1238.2,1268.8 1239.0,1286.1 1239.8,1285.2 1240.5,1293.8 1241.2,1273.7 1242.0,1273.1 1242.8,1288.8 1243.5,1270.2 1244.2,1278.5 1245.0,1276.3 1245.8,1277.3 1246.5,1271.2 1247.2,1283.9 1248.0,1293.3 1248.8,1289.7 1249.5,1290.2 1250.2,1284.6 1251.0,1298.3 1251.8,1291.9 1252.5,1296.1 1253.2,1277.2 1254.0,1291.6 1254.8,1280.9 1255.5,1292.3 1256.2,1291.5 1257.0,1281.9 1257.8,1291.9 1258.5,1299.5 1259.2,1294.9 1260.0,1295.8 1260.8,1285.3 1261.5,1286.9 1262.2,1283.9 1263.0,1293.4 1263.8,1301.5 1264.5,1296.1 1265.2,1293.0 1266.0,1284.8 1266.8,1296.7 1267.5,1291.7 1268.2,1279.4 1269.0,1280.9 1269.8,1291.4 1270.5,1287.4 1271.2,1306.6 1272.0,1294.6 1272.8,1286.7 1273.5,1290.9 1274.2,1306.7 1275.0,1287.7 1275.8,1300.7 1276.5,1298.3 1277.2,1306.2 1278.0,1299.3 1278.8,1292.4 1279.5,1299.5 1280.2,1296.1 1281.0,1303.0 1281.8,1295.3 1282.5,1310.8 1283.2,1295.2 1284.0,1299.4 1284.8,1291.2 1285.5,1297.2 1286.2,1296.6 1287.0,1297.7 1287.8,1303.3 1288.5,1292.5 1289.2,1290.3 1290.0,1305.1 1290.8,1294.6 1291.5,1291.8 1292.2,1305.6 1293.0,1302.8 1293.8,1279.4 1294.5,1294.1 1295.2,1303.0 1296.0,1303.4 1296.8,1293.2 1297.5,1309.0 1298.2,1291.1 1299.0,1295.4 1299.8,1298.1 1300.5,1297.1 1301.2,1303.2 1302.0,1304.9 1302.8,1296.7 1303.5,1307.7 1304.2,1291.8 1305.0,1295.3 1305.8,1310.0 1306.5,1297.6 1307.2,1304.9 1308.0,1293.4 1308.8,1294.6 1309.5,1295.7 1310.2,1297.7 1311.0,1293.8 1311.8,1296.3 1312.5,1301.2 1313.2,1305.1 1314.0,1296.6 1314.8,1300.6 1315.5,1302.4 1316.2,1287.1 1317.0,1283.2 1317.8,1307.2 1318.5,1304.6 1319.2,1294.9 1320.0,1296.8 1320.8,1287.5 1321.5,1284.8 1322.2,1290.7 1323.0,1281.6 1323.8,1286.5 1324.5,1279.6 1325.2,1279.3 1326.0,1280.2 1326.8,1279.0 1327.5,1275.9 1328.2,1279.3 1329.0,1277.1 1329.8,1280.1 1330.5,1285.4 1331.2,1292.1 1332.0,1287.1 1332.8,1294.7 1333.5,1294.2 1334.2,1285.6 1335.0,1294.2 1335.8,1306.8 1336.5,1295.7 1337.2,1300.7 1338.0,1303.7 1338.8,1292.5 1339.5,1307.8 1340.2,1310.4 1341.0,1311.5 1341.8,1309.8 1342.5,1296.8 1343.2,1296.2 1344.0,1295.0 1344.8,1294.4 1345.5,1295.6 1346.2,1309.6 1347.0,1313.5 1347.8,1297.7 1348.5,1309.1 1349.2,1293.4 1350.0,1300.8 1350.8,1295.9 1351.5,1291.3 1352.2,1304.4 1353.0,1304.9 1353.8,1301.3 1354.5,1300.7 1355.2,1297.3 1356.0,1304.1 1356.8,1300.7 1357.5,1307.4 1358.2,1296.5 1359.0,1307.8 1359.8,1310.2 1360.5,1316.0 1361.2,1314.8 1362.0,1308.3 1362.8,1301.8 1363.5,1293.1 1364.2,1307.5 1365.0,1318.7 1365.8,1320.8 1366.5,1290.2 1367.2,1302.5 1368.0,1305.8 1368.8,1300.6 1369.5,1310.3 1370.2,1309.4 1371.0,1305.2 1371.8,1309.1 1372.5,1297.2 1373.2,1302.2 1374.0,1302.9 1374.8,1317.0 1375.5,1297.5 1376.2,1308.6 1377.0,1316.5 1377.8,1310.1 1378.5,1317.0 1379.2,1305.6 1380.0,1314.2 1380.8,1317.9 1381.5,1328.4 1382.2,1316.7 1383.0,1322.2 1383.8,1311.1 1384.5,1311.8 1385.2,1323.4 1386.0,1315.6 1386.8,1322.2 1387.5,1316.6 1388.2,1327.7 1389.0,1329.0 1389.8,1304.4 1390.5,1325.6 1391.2,1314.3 1392.0,1314.6 1392.8,1309.9 1393.5,1316.4 1394.2,1302.0 1395.0,1305.0 1395.8,1304.6 1396.5,1312.8 1397.2,1317.7 1398.0,1316.2 1398.8,1313.2 1399.5,1305.6 1400.2,1296.3 1401.0,1313.3 1401.8,1311.1 1402.5,1312.7 1403.2,1321.0 1404.0,1308.3 1404.8,1308.0 1405.5,1291.2 1406.2,1313.8 1407.0,1308.9 1407.8,1303.3 1408.5,1312.1 1409.2,1300.7 1410.0,1304.6 1410.8,1324.2 1411.5,1314.5 1412.2,1315.8 1413.0,1314.3 1413.8,1313.3 1414.5,1309.7 1415.2,1326.0 1416.0,1307.3 1416.8,1313.5 1417.5,1305.8 1418.2,1304.6 1419.0,1288.8 1419.8,1291.8 1420.5,1319.0 1421.2,1318.3 1422.0,1302.9 1422.8,1305.9 1423.5,1310.7 1424.2,1297.8 1425.0,1319.4 1425.8,1297.0 1426.5,1299.3 1427.2,1286.4 1428.0,1316.4 1428.8,1304.7 1429.5,1316.8 1430.2,1295.8 1431.0,1306.1 1431.8,1303.8 1432.5,1304.5 1433.2,1319.1 1434.0,1320.4 1434.8,1313.1 1435.5,1298.8 1436.2,1308.8 1437.0,1312.1 1437.8,1305.7 1438.5,1305.5 1439.2,1304.6 1440.0,1293.4 1440.8,1302.4 1441.5,1313.0 1442.2,1292.1 1443.0,1300.5 1443.8,1306.3 1444.5,1288.6 1445.2,1298.2 1446.0,1285.6 1446.8,1294.2 1447.5,1287.6 1448.2,1291.5 1449.0,1294.6 1449.8,1296.1 1450.5,1296.5 1451.2,1279.6 1452.0,1310.5 1452.8,1295.5 1453.5,1288.8 1454.2,1292.3 1455.0,1299.7 1455.8,1289.0 1456.5,1293.6 1457.2,1293.0 1458.0,1300.9 1458.8,1290.5 1459.5,1300.0 1460.2,1299.0 1461.0,1294.8 1461.8,1305.9 1462.5,1295.9 1463.2,1286.1 1464.0,1297.8 1464.8,1296.3 1465.5,1294.8 1466.2,1296.9 1467.0,1313.4 1467.8,1296.6 1468.5,1298.2 1469.2,1292.4 1470.0,1304.8 1470.8,1293.6 1471.5,1287.4 1472.2,1283.9 1473.0,1297.9 1473.8,1299.5 1474.5,1280.4 1475.2,1287.3 1476.0,1298.2 1476.8,1301.1 1477.5,1281.9 1478.2,1289.2 1479.0,1299.0 1479.8,1287.7 1480.5,1288.2 1481.2,1287.2 1482.0,1280.8 1482.8,1291.4 1483.5,1293.2 1484.2,1279.1 1485.0,1290.9 1485.8,1298.7 1486.5,1291.1 1487.2,1296.7 1488.0,1284.2 1488.8,1299.3 1489.5,1281.5 1490.2,1302.7 1491.0,1283.4 1491.8,1280.9 1492.5,1279.0 1493.2,1282.5 1494.0,1281.4 1494.8,1279.4 1495.5,1281.9 1496.2,1289.4 1497.0,1290.8 1497.8,1280.5 1498.5,1292.8 1499.2,1274.3 1500.0,1273.6 1500.8,1272.4 1501.5,1286.0 1502.2,1268.1 1503.0,1268.9 1503.8,1290.0 1504.5,1293.0 1505.2,1289.5 1506.0,1266.2 1506.8,1277.8 1507.5,1283.8 1508.2,1277.4 1509.0,1263.1 1509.8,1272.8 1510.5,1261.3 1511.2,1264.5 1512.0,1291.3 1512.8,1278.9 1513.5,1261.0 1514.2,1260.2 1515.0,1275.6 1515.8,1266.5 1516.5,1275.6 1517.2,1265.2 1518.0,1268.4 1518.8,1271.6 1519.5,1260.7 1520.2,1253.0 1521.0,1258.6 1521.8,1262.3 1522.5,1266.1 1523.2,1267.0 1524.0,1266.6 1524.8,1271.2 1525.5,1259.3 1526.2,1278.2 1527.0,1283.0 1527.8,1269.2 1528.5,1267.5 1529.2,1276.1 1530.0,1270.9 1530.8,1266.9 1531.5,1263.7 1532.2,1258.8 1533.0,1255.0 1533.8,1270.2 1534.5,1274.4 1535.2,1255.4 1536.0,1263.5 1536.8,1265.8 1537.5,1260.2 1538.2,1257.3 1539.0,1260.3 1539.8,1246.9 1540.5,1262.8 1541.2,1260.8 1542.0,1281.0 1542.8,1271.0 1543.5,1260.1 1544.2,1262.9 1545.0,1277.4 1545.8,1276.4 1546.5,1264.4 1547.2,1261.8 1548.0,1250.6 1548.8,1260.1 1549.5,1261.5 1550.2,1256.7 1551.0,1277.7 1551.8,1247.2 1552.5,1262.0 1553.2,1266.7 1554.0,1267.0 1554.8,1277.7 1555.5,1251.6 1556.2,1257.2 1557.0,1264.5 1557.8,1264.9 1558.5,1260.6 1559.2,1257.4 1560.0,1273.2 1560.8,1255.2 1561.5,1259.3 1562.2,1276.6 1563.0,1279.2 1563.8,1271.9 1564.5,1257.2 1565.2,1257.3 1566.0,1257.0 1566.8,1255.0 1567.5,1261.2 1568.2,1275.7 1569.0,1266.7 1569.8,1258.4 1570.5,1258.2 1571.2,1254.8 1572.0,1275.2 1572.8,1247.5 1573.5,1267.2 1574.2,1252.4 1575.0,1255.7 1575.8,1252.0 1576.5,1273.1 1577.2,1264.1 1578.0,1284.8 1578.8,1255.8 1579.5,1255.3 1580.2,1269.8 1581.0,1269.6 1581.8,1262.3 1582.5,1247.3 1583.2,1277.1 1584.0,1269.5 1584.8,1268.0 1585.5,1259.4 1586.2,1269.9 1587.0,1259.5 1587.8,1264.6 1588.5,1262.4 1589.2,1274.8 1590.0,1259.7 1590.8,1260.6 1591.5,1273.0 1592.2,1265.2 1593.0,1262.8 1593.8,1260.7 1594.5,1270.6 1595.2,1256.8 1596.0,1265.8 1596.8,1277.1 1597.5,1263.2 1598.2,1255.5 1599.0,1251.3 1599.8,1249.9 1600.5,1243.1 1601.2,1238.8 1602.0,1237.3 1602.8,1236.2 1603.5,1241.1 1604.2,1241.0 1605.0,1250.3 1605.8,1250.4 1606.5,1256.8 1607.2,1262.8 1608.0,1263.0 1608.8,1267.9 1609.5,1255.4 1610.2,1245.7 1611.0,1262.9 1611.8,1250.9 1612.5,1260.7 1613.2,1274.2 1614.0,1264.5 1614.8,1261.1 1615.5,1256.4 1616.2,1263.7 1617.0,1264.7 1617.8,1252.3 1618.5,1268.7 1619.2,1256.6 1620.0,1267.9 1620.8,1261.9 1621.5,1274.4 1622.2,1273.1 1623.0,1265.5 1623.8,1264.3 1624.5,1268.9 1625.2,1277.0 1626.0,1274.0 1626.8,1265.9 1627.5,1267.1 1628.2,1277.9 1629.0,1249.6 1629.8,1268.4 1630.5,1255.6 1631.2,1274.9 1632.0,1258.6 1632.8,1261.6 1633.5,1252.8 1634.2,1262.1 1635.0,1268.5 1635.8,1275.8 1636.5,1250.1 1637.2,1256.8 1638.0,1279.8 1638.8,1267.3 1639.5,1258.7 1640.2,1262.0 1641.0,1238.8 1641.8,1268.1 1642.5,1255.6 1643.2,1242.3 1644.0,1260.5 1644.8,1245.7 1645.5,1241.4 1646.2,1251.3 1647.0,1249.0 1647.8,1241.2 1648.5,1242.6 1649.2,1232.0 1650.0,1229.9 1650.8,1244.7 1651.5,1245.6 1652.2,1237.7 1653.0,1235.4 1653.8,1228.4 1654.5,1228.2 1655.2,1220.9 1656.0,1236.9 1656.8,1219.5 1657.5,1224.3 1658.2,1219.7 1659.0,1208.2 1659.8,1230.5 1660.5,1212.3 1661.2,1207.9 1662.0,1213.5 1662.8,1204.5 1663.5,1210.7 1664.2,1201.9 1665.0,1213.0 1665.8,1208.0 1666.5,1195.8 1667.2,1213.4 1668.0,1205.7 1668.8,1194.8 1669.5,1204.0 1670.2,1202.8 1671.0,1209.9 1671.8,1190.9 1672.5,1196.9 1673.2,1188.8 1674.0,1187.8 1674.8,1179.9 1675.5,1176.3 1676.2,1174.0 1677.0,1162.8 1677.8,1154.6 1678.5,1159.3 1679.2,1153.5 1680.0,1151.8 1680.8,1150.1 1681.5,1142.4 1682.2,1144.1 1683.0,1134.9 1683.8,1131.3 1684.5,1130.0 1685.2,1124.8 1686.0,1117.9 1686.8,1114.5 1687.5,1106.7 1688.2,1102.9 1689.0,1101.1 1689.8,1098.7 1690.5,1089.2 1691.2,1087.9 1692.0,1085.5 1692.8,1079.9 1693.5,1067.4 1694.2,1063.9 1695.0,1055.9 1695.8,1049.5 1696.5,1042.5 1697.2,1034.3 1698.0,1027.2 1698.8,1017.5 1699.5,1007.9 1700.2,1000.0 1701.0,990.5 1701.8,980.8 1702.5,968.0 1703.2,957.2 1704.0,947.3 1704.8,932.7 1705.5,924.2 1706.2,916.3 1707.0,906.1 1707.8,894.9 1708.5,890.1 1709.2,878.9 1710.0,868.0 1710.8,865.1 1711.5,849.6 1712.2,843.5 1713.0,833.3 1713.8,826.2 1714.5,818.3 1715.2,806.5 1716.0,798.5 1716.8,788.0 1717.5,775.5 1718.2,768.8 1719.0,757.5 1719.8,748.6 1720.5,741.8 1721.2,738.2 1722.0,735.3 1722.8,729.7 1723.5,730.4 1724.2,719.6 1725.0,718.5 1725.8,720.8 1726.5,720.4 1727.2,729.8 1728.0,743.2 1728.8,759.6 1729.5,774.1 1730.2,788.5 1731.0,802.1 1731.8,817.5 1732.5,833.0 1733.2,852.0 1734.0,872.8 1734.8,894.2 1735.5,916.2 1736.2,940.0 1737.0,962.8 1737.8,975.3 1738.5,991.8 1739.2,1003.5 1740.0,1019.3 1740.8,1032.5 1741.5,1044.3 1742.2,1057.3 1743.0,1062.4 1743.8,1075.7 1744.5,1083.5 1745.2,1083.3 1746.0,1097.2 1746.8,1099.6 1747.5,1105.9 1748.2,1106.1 1749.0,1118.1 1749.8,1123.8 1750.5,1128.4 1751.2,1132.5 1752.0,1144.0 1752.8,1152.3 1753.5,1157.1 1754.2,1165.5 1755.0,1167.4 1755.8,1175.5 1756.5,1181.5 1757.2,1185.5 1758.0,1197.9 1758.8,1195.8 1759.5,1196.4 1760.2,1206.2 1761.0,1202.3 1761.8,1212.3 1762.5,1217.8 1763.2,1215.1 1764.0,1218.8 1764.8,1217.9 1765.5,1226.3 1766.2,1223.3 1767.0,1240.8 1767.8,1235.6 1768.5,1231.4 1769.2,1224.5 1770.0,1250.4 1770.8,1246.7 1771.5,1242.0 1772.2,1241.3 1773.0,1242.3 1773.8,1238.8 1774.5,1257.3 1775.2,1246.2 1776.0,1235.6 1776.8,1242.6 1777.5,1231.5 1778.2,1254.7 1779.0,1256.9 1779.8,1265.4 1780.5,1269.1 1781.2,1249.8 1782.0,1260.0 1782.8,1265.3 1783.5,1265.1 1784.2,1257.1 1785.0,1267.8 1785.8,1266.9 1786.5,1274.5 1787.2,1265.7 1788.0,1265.5 1788.8,1264.8 1789.5,1267.1 1790.2,1265.6 1791.0,1270.0 1791.8,1277.4 1792.5,1278.5 1793.2,1285.9 1794.0,1285.9 1794.8,1284.3 1795.5,1273.8 1796.2,1287.1 1797.0,1292.7 1797.8,1277.4 1798.5,1280.1 1799.2,1282.5 1800.0,1283.2 1800.8,1289.8 1801.5,1286.2 1802.2,1297.1 1803.0,1285.8 1803.8,1295.0 1804.5,1292.6 1805.2,1289.3 1806.0,1306.0 1806.8,1298.0 1807.5,1302.4 1808.2,1295.4 1809.0,1304.2 1809.8,1303.6 1810.5,1297.5 1811.2,1284.3 1812.0,1305.9 1812.8,1305.0 1813.5,1300.9 1814.2,1301.5 1815.0,1300.7 1815.8,1301.4 1816.5,1291.7 1817.2,1299.6 1818.0,1302.8 1818.8,1295.2 1819.5,1292.4 1820.2,1315.7 1821.0,1305.5 1821.8,1298.1 1822.5,1296.7 1823.2,1281.5 1824.0,1289.2 1824.8,1299.0 1825.5,1311.7 1826.2,1284.3 1827.0,1295.5 1827.8,1317.1 1828.5,1307.0 1829.2,1305.0 1830.0,1311.5 1830.8,1300.8 1831.5,1300.4 1832.2,1307.8 1833.0,1309.0 1833.8,1293.3 1834.5,1314.7 1835.2,1287.9 1836.0,1296.6 1836.8,1320.7 1837.5,1298.2 1838.2,1307.8 1839.0,1294.4 1839.8,1300.0 1840.5,1296.8 1841.2,1299.5 1842.0,1308.2 1842.8,1317.2 1843.5,1310.1 1844.2,1315.7 1845.0,1299.0 1845.8,1315.2 1846.5,1307.9 1847.2,1314.6 1848.0,1300.1 1848.8,1301.7 1849.5,1314.9 1850.2,1308.8 1851.0,1304.9 1851.8,1298.6 1852.5,1303.5 1853.2,1308.4 1854.0,1310.5 1854.8,1300.5 1855.5,1302.5 1856.2,1309.0 1857.0,1296.9 1857.8,1313.7 1858.5,1306.4 1859.2,1305.8 1860.0,1288.7 1860.8,1294.9 1861.5,1299.8 1862.2,1303.9 1863.0,1300.3 1863.8,1312.4 1864.5,1311.0 1865.2,1308.4 1866.0,1295.1 1866.8,1322.6 1867.5,1310.1 1868.2,1317.5 1869.0,1308.2 1869.8,1314.1 1870.5,1320.1 1871.2,1317.2 1872.0,1323.5 1872.8,1315.4 1873.5,1332.5 1874.2,1304.7 1875.0,1315.7 1875.8,1327.7 1876.5,1320.4 1877.2,1320.3 1878.0,1311.9 1878.8,1334.6 1879.5,1311.9 1880.2,1331.1 1881.0,1329.1 1881.8,1334.9 1882.5,1340.0 1883.2,1323.2 1884.0,1322.8 1884.8,1327.0 1885.5,1316.2 1886.2,1336.7 1887.0,1327.3 1887.8,1332.0 1888.5,1322.0 1889.2,1331.3 1890.0,1326.5 1890.8,1331.1 1891.5,1323.2 1892.2,1340.3 1893.0,1327.2 1893.8,1314.5 1894.5,1337.9 1895.2,1330.6 1896.0,1326.1 1896.8,1352.0 1897.5,1333.2 1898.2,1323.1 1899.0,1329.1 1899.8,1337.3 1900.5,1332.7 1901.2,1344.6 1902.0,1343.5 1902.8,1329.0 1903.5,1335.9 1904.2,1341.0 1905.0,1332.9 1905.8,1332.8 1906.5,1343.8 1907.2,1340.7 1908.0,1326.3 1908.8,1333.4 1909.5,1334.8 1910.2,1337.4 1911.0,1332.9 1911.8,1349.5 1912.5,1331.5 1913.2,1330.8 1914.0,1341.4 1914.8,1322.1 1915.5,1332.0 1916.2,1345.3 1917.0,1330.0 1917.8,1334.0 1918.5,1349.5 1919.2,1344.6 1920.0,1341.5 1920.8,1343.1 1921.5,1335.8 1922.2,1343.7 1923.0,1339.6 1923.8,1359.8 1924.5,1345.5 1925.2,1338.4 1926.0,1340.7 1926.8,1341.4 1927.5,1330.0 1928.2,1334.3 1929.0,1352.9 1929.8,1329.5 1930.5,1336.0 1931.2,1348.6 1932.0,1352.4 1932.8,1332.2 1933.5,1351.8 1934.2,1337.2 1935.0,1353.1 1935.8,1343.9 1936.5,1337.6 1937.2,1345.5 1938.0,1344.1 1938.8,1333.5 1939.5,1356.6 1940.2,1336.7 1941.0,1348.6 1941.8,1335.6 1942.5,1324.9 1943.2,1330.5 1944.0,1338.7 1944.8,1345.0 1945.5,1353.6 1946.2,1340.6 1947.0,1338.0 1947.8,1330.9 1948.5,1340.5 1949.2,1343.5 1950.0,1324.3 1950.8,1352.2 1951.5,1351.3 1952.2,1360.6 1953.0,1336.3 1953.8,1344.1 1954.5,1344.4 1955.2,1334.4 1956.0,1338.5 1956.8,1337.9 1957.5,1349.9 1958.2,1349.7 1959.0,1357.2 1959.8,1343.8 1960.5,1336.2 1961.2,1350.9 1962.0,1350.5 1962.8,1353.0 1963.5,1357.7 1964.2,1343.2 1965.0,1354.1 1965.8,1339.8 1966.5,1348.8 1967.2,1352.8 1968.0,1346.3 1968.8,1348.7 1969.5,1335.8 1970.2,1341.3 1971.0,1347.2 1971.8,1336.4 1972.5,1338.7 1973.2,1363.1 1974.0,1346.7 1974.8,1337.9 1975.5,1335.9 1976.2,1354.3 1977.0,1325.6 1977.8,1340.0 1978.5,1347.1 1979.2,1337.4 1980.0,1345.6 1980.8,1333.0 1981.5,1340.9 1982.2,1341.2 1983.0,1340.8 1983.8,1341.8 1984.5,1340.9 1985.2,1349.4 1986.0,1338.7 1986.8,1336.3 1987.5,1339.0 1988.2,1339.2 1989.0,1330.2 1989.8,1327.7 1990.5,1332.5 1991.2,1345.6 1992.0,1338.9 1992.8,1341.5 1993.5,1363.6 1994.2,1354.4 1995.0,1345.0 1995.8,1342.4 1996.5,1358.2 1997.2,1342.6 1998.0,1358.5 1998.8,1354.2 1999.5,1360.8 2000.2,1345.3 2001.0,1358.2 2001.8,1337.8 2002.5,1350.8 2003.2,1360.8 2004.0,1358.1 2004.8,1338.5 2005.5,1358.4 2006.2,1356.7 2007.0,1352.7 2007.8,1347.7 2008.5,1351.3 2009.2,1349.1 2010.0,1361.1 2010.8,1357.4 2011.5,1362.2 2012.2,1359.4 2013.0,1344.1 2013.8,1355.2 2014.5,1371.0 2015.2,1345.6 2016.0,1356.6 2016.8,1348.4 2017.5,1347.6 2018.2,1356.2 2019.0,1361.8 2019.8,1360.7 2020.5,1358.3 2021.2,1362.2 2022.0,1342.1 2022.8,1361.2 2023.5,1358.0 2024.2,1353.4 2025.0,1354.8 2025.8,1348.2 2026.5,1364.0 2027.2,1348.9 2028.0,1343.2 2028.8,1354.5 2029.5,1349.8 2030.2,1353.5 2031.0,1365.4 2031.8,1352.4 2032.5,1354.0 2033.2,1370.1 2034.0,1341.6 2034.8,1354.7 2035.5,1360.4 2036.2,1362.7 2037.0,1367.8 2037.8,1345.2 2038.5,1354.5 2039.2,1348.7 2040.0,1345.6 2040.8,1343.1 2041.5,1337.1 2042.2,1350.6 2043.0,1353.6 2043.8,1339.3 2044.5,1353.2 2045.2,1342.8 2046.0,1339.1 2046.8,1330.2 2047.5,1355.6 2048.2,1352.6 2049.0,1344.8 2049.8,1344.3 2050.5,1337.5 2051.2,1351.8 2052.0,1347.6 2052.8,1352.6 2053.5,1350.2 2054.2,1338.4 2055.0,1337.7 2055.8,1353.2 2056.5,1337.6 2057.2,1353.1 2058.0,1358.4 2058.8,1342.2 2059.5,1357.6 2060.2,1353.3 2061.0,1357.5 2061.8,1349.1 2062.5,1354.4 2063.2,1358.2 2064.0,1369.4 2064.8,1361.5 2065.5,1360.1 2066.2,1346.7 2067.0,1359.6 2067.8,1352.1 2068.5,1357.1 2069.2,1360.1 2070.0,1365.8 2070.8,1363.1 2071.5,1360.3 2072.2,1358.7 2073.0,1369.9 2073.8,1352.8 2074.5,1360.2 2075.2,1370.8 2076.0,1358.9 2076.8,1367.1 2077.5,1367.8 2078.2,1376.4 2079.0,1370.1 2079.8,1348.9 2080.5,1361.8 2081.2,1364.3 2082.0,1368.6 2082.8,1365.4 2083.5,1377.2 2084.2,1371.3 2085.0,1353.9 2085.8,1358.3 2086.5,1347.4 2087.2,1376.9 2088.0,1362.7 2088.8,1362.7 2089.5,1351.7 2090.2,1360.7 2091.0,1367.5 2091.8,1361.2 2092.5,1361.4 2093.2,1359.8 2094.0,1380.0 2094.8,1360.5 2095.5,1353.7 2096.2,1361.0 2097.0,1362.4 2097.8,1364.5 2098.5,1363.5 2099.2,1356.8 2100.0,1364.1 2100.8,1368.7 2101.5,1355.0 2102.2,1381.3 2103.0,1379.3 2103.8,1352.2 2104.5,1363.6 2105.2,1374.4 2106.0,1377.1 2106.8,1380.7 2107.5,1352.7 2108.2,1358.6 2109.0,1363.4 2109.8,1371.7 2110.5,1359.3 2111.2,1371.2 2112.0,1371.5 2112.8,1373.8 2113.5,1358.5 2114.2,1370.2 2115.0,1369.4 2115.8,1365.8 2116.5,1379.4 2117.2,1367.2 2118.0,1380.9 2118.8,1365.3 2119.5,1383.3 2120.2,1383.1 2121.0,1364.2 2121.8,1373.4 2122.5,1373.4 2123.2,1363.6 2124.0,1377.4 2124.8,1376.1 2125.5,1364.9 2126.2,1372.6 2127.0,1378.8 2127.8,1370.8 2128.5,1366.6 2129.2,1384.9 2130.0,1364.7 2130.8,1374.9 2131.5,1381.0 2132.2,1378.5 2133.0,1358.1 2133.8,1369.8 2134.5,1371.3 2135.2,1370.6 2136.0,1377.1 2136.8,1376.4 2137.5,1373.2 2138.2,1374.1 2139.0,1379.8 2139.8,1381.5 2140.5,1357.2 2141.2,1388.6 2142.0,1367.4 2142.8,1377.6 2143.5,1359.0 2144.2,1367.4 2145.0,1361.6 2145.8,1379.6 2146.5,1378.0 2147.2,1371.2 2148.0,1369.7 2148.8,1374.0 2149.5,1363.7 2150.2,1366.2 2151.0,1365.0 2151.8,1377.2 2152.5,1371.1 2153.2,1361.1 2154.0,1373.5 2154.8,1374.9 2155.5,1381.6 2156.2,1366.6 2157.0,1374.0 2157.8,1386.9 2158.5,1368.4 2159.2,1368.1 2160.0,1374.8 2160.8,1367.0 2161.5,1370.9 2162.2,1367.0 2163.0,1364.9 2163.8,1377.6 2164.5,1368.0 2165.2,1363.1 2166.0,1368.6 2166.8,1369.8 2167.5,1373.1 2168.2,1378.0 2169.0,1384.4 2169.8,1361.4 2170.5,1368.9 2171.2,1356.9 2172.0,1372.5 2172.8,1374.8 2173.5,1365.7 2174.2,1363.7 2175.0,1363.0 2175.8,1359.0 2176.5,1375.1 2177.2,1384.7 2178.0,1361.3 2178.8,1382.2 2179.5,1368.7 2180.2,1358.7 2181.0,1373.3 2181.8,1374.5 2182.5,1371.5 2183.2,1366.2 2184.0,1380.5 2184.8,1365.4 2185.5,1372.0 2186.2,1371.8 2187.0,1359.8 2187.8,1352.3 2188.5,1352.9 2189.2,1362.6 2190.0,1368.0 2190.8,1351.6 2191.5,1359.3 2192.2,1376.1 2193.0,1350.6 2193.8,1367.4 2194.5,1366.3 2195.2,1369.4 2196.0,1352.0 2196.8,1365.4 2197.5,1352.1 2198.2,1372.3 2199.0,1355.5 2199.8,1364.5 2200.5,1355.3 2201.2,1362.1 2202.0,1349.2 2202.8,1362.5 2203.5,1364.6 2204.2,1359.7 2205.0,1371.6 2205.8,1362.0 2206.5,1364.8 2207.2,1362.5 2208.0,1372.5 2208.8,1353.4 2209.5,1356.0 2210.2,1356.2 2211.0,1362.3 2211.8,1359.5 2212.5,1363.7 2213.2,1359.6 2214.0,1353.5 2214.8,1356.9 2215.5,1360.6 2216.2,1341.3 2217.0,1367.7 2217.8,1353.3 2218.5,1355.0 2219.2,1359.6 2220.0,1356.0 2220.8,1347.3 2221.5,1356.4 2222.2,1368.4 2223.0,1366.0 2223.8,1367.6 2224.5,1354.7 2225.2,1357.3 2226.0,1366.8 2226.8,1370.1 2227.5,1359.8 2228.2,1352.7 2229.0,1346.0 2229.8,1370.4 2230.5,1349.5 2231.2,1363.7 2232.0,1367.3 2232.8,1377.5 2233.5,1362.7 2234.2,1360.8 2235.0,1365.1 2235.8,1365.7 2236.5,1371.9 2237.2,1367.6 2238.0,1357.6 2238.8,1348.4 2239.5,1365.8 2240.2,1359.3 2241.0,1374.4 2241.8,1355.7 2242.5,1366.7 2243.2,1360.6 2244.0,1360.1 2244.8,1378.2 2245.5,1368.3 2246.2,1366.3 2247.0,1373.1 2247.8,1363.0 2248.5,1366.4 2249.2,1365.0 2250.0,1383.5 2250.8,1372.5 2251.5,1375.0 2252.2,1378.8 2253.0,1370.2 2253.8,1370.8 2254.5,1361.0 2255.2,1376.0 2256.0,1374.8 2256.8,1370.5 2257.5,1381.9 2258.2,1361.7 2259.0,1377.2 2259.8,1365.2 2260.5,1367.1 2261.2,1373.8 2262.0,1384.7 2262.8,1367.8 2263.5,1369.4 2264.2,1368.3 2265.0,1390.6 2265.8,1380.7 2266.5,1380.2 2267.2,1391.8 2268.0,1379.7 2268.8,1364.1 2269.5,1375.2 2270.2,1370.8 2271.0,1392.8 2271.8,1369.9 2272.5,1381.7 2273.2,1376.4 2274.0,1377.2 2274.8,1380.5 2275.5,1379.7 2276.2,1376.2 2277.0,1372.7 2277.8,1376.8 2278.5,1374.4 2279.2,1375.5 2280.0,1382.5 2280.8,1380.9 2281.5,1385.3 2282.2,1380.7 2283.0,1395.2 2283.8,1377.9 2284.5,1376.3 2285.2,1389.8 2286.0,1378.6 2286.8,1384.2 2287.5,1390.0 2288.2,1383.1 2289.0,1381.6 2289.8,1390.4 2290.5,1386.4 2291.2,1380.8 2292.0,1376.6 2292.8,1382.1 2293.5,1373.9 2294.2,1379.0 2295.0,1377.7 2295.8,1386.7 2296.5,1389.8 2297.2,1380.7 2298.0,1382.1 2298.8,1377.8 2299.5,1376.0 2300.2,1382.1 2301.0,1388.5 2301.8,1387.9 2302.5,1388.6 2303.2,1383.1 2304.0,1370.9 2304.8,1390.7 2305.5,1393.2 2306.2,1390.6 2307.0,1390.6 2307.8,1391.8 2308.5,1398.9 2309.2,1386.9 2310.0,1394.7 2310.8,1390.0 2311.5,1389.2 2312.2,1384.1 2313.0,1382.8 2313.8,1378.0 2314.5,1388.6 2315.2,1383.0 2316.0,1377.6 2316.8,1380.3 2317.5,1377.7 2318.2,1394.8 2319.0,1383.5 2319.8,1385.6 2320.5,1377.6 2321.2,1378.7 2322.0,1391.5 2322.8,1383.8 2323.5,1386.6 2324.2,1396.5 2325.0,1398.1 2325.8,1389.8 2326.5,1388.7 2327.2,1387.3 2328.0,1384.3 2328.8,1398.3 2329.5,1379.0 2330.2,1385.8 2331.0,1375.0 2331.8,1379.1 2332.5,1389.2 2333.2,1389.6 2334.0,1389.0 2334.8,1385.2 2335.5,1383.0 2336.2,1384.1 2337.0,1385.1 2337.8,1393.9 2338.5,1396.0 2339.2,1390.1 2340.0,1384.3 2340.8,1382.0 2341.5,1389.2 2342.2,1386.0 2343.0,1376.7 2343.8,1395.1 2344.5,1386.9 2345.2,1385.0 2346.0,1381.6 2346.8,1381.4 2347.5,1391.3 2348.2,1380.5 2349.0,1386.2 2349.8,1389.0 2350.5,1395.6 2351.2,1388.3"/>
<circle cx="895.0" cy="536.0" r="18.2" fill="#FF0000"/>
<circle cx="777.8" cy="690.3" r="18.2" fill="#FF0000"/>
<circle cx="1138.3" cy="583.0" r="18.2" fill="#FF0000"/>
<circle cx="1730.0" cy="469.0" r="18.2" fill="#FF0000"/>
<rect x="961.0" y="430.1" width="33.0" height="33.0" fill="#0000FF"/>
<rect x="1377.8" y="646.8" width="33.0" height="33.0" fill="#0000FF"/>
<rect x="1632.2" y="544.1" width="33.0" height="33.0" fill="#0000FF"/>
<polygon points="761.3,370.3 741.8,410.1 780.8,410.1" fill="#0000FF"/>
<polygon points="1454.8,625.0 1435.3,664.8 1474.3,664.8" fill="#0000FF"/>
<polygon points="809.6,372.0 848.8,372.0 829.2,411.7" fill="#0000FF"/>
<polygon points="897.1,227.5 936.3,227.5 916.7,267.2" fill="#0000FF"/>
<polygon points="1525.0,580.5 1564.2,580.5 1544.6,620.2" fill="#0000FF"/>
<polygon points="527.7,1068.7 545.7,1086.7 527.7,1104.7 509.7,1086.7" fill="none" stroke="#000" stroke-width="3.7" stroke-linejoin="miter"/>
<polygon points="1036.7,1094.7 1054.7,1112.7 1036.7,1130.7 1018.7,1112.7" fill="none" stroke="#000" stroke-width="3.7" stroke-linejoin="miter"/>
<polygon points="1334.3,1217.5 1352.3,1235.5 1334.3,1253.5 1316.3,1235.5" fill="none" stroke="#000" stroke-width="3.7" stroke-linejoin="miter"/>
<polygon points="1603.2,1185.0 1621.2,1203.0 1603.2,1221.0 1585.2,1203.0" fill="none" stroke="#000" stroke-width="3.7" stroke-linejoin="miter"/>
<path d="M163.0 34.0 H2352.4 V1449.0 H163.0 Z" fill="none" stroke="#000" stroke-width="5.6" stroke-linejoin="round"/>
<line x1="299.8" y1="1449.0" x2="299.8" y2="1434.0" stroke="#000" stroke-width="5.6" stroke-linecap="round"/>
<line x1="436.7" y1="1449.0" x2="436.7" y2="1420.0" stroke="#000" stroke-width="5.6" stroke-linecap="round"/>
<line x1="573.5" y1="1449.0" x2="573.5" y2="1434.0" stroke="#000" stroke-width="5.6" stroke-linecap="round"/>
<line x1="710.4" y1="1449.0" x2="710.4" y2="1420.0" stroke="#000" stroke-width="5.6" stroke-linecap="round"/>
<line x1="847.2" y1="1449.0" x2="847.2" y2="1434.0" stroke="#000" stroke-width="5.6" stroke-linecap="round"/>
<line x1="984.0" y1="1449.0" x2="984.0" y2="1420.0" stroke="#000" stroke-width="5.6" stroke-linecap="round"/>
<line x1="1120.9" y1="1449.0" x2="1120.9" y2="1434.0" stroke="#000" stroke-width="5.6" stroke-linecap="round"/>
<line x1="1257.7" y1="1449.0" x2="1257.7" y2="1420.0" stroke="#000" stroke-width="5.6" stroke-linecap="round"/>
<line x1="1394.5" y1="1449.0" x2="1394.5" y2="1434.0" stroke="#000" stroke-width="5.6" stroke-linecap="round"/>
<line x1="1531.4" y1="1449.0" x2="1531.4" y2="1420.0" stroke="#000" stroke-width="5.6" stroke-linecap="round"/>
<line x1="1668.2" y1="1449.0" x2="1668.2" y2="1434.0" stroke="#000" stroke-width="5.6" stroke-linecap="round"/>
<line x1="1805.0" y1="1449.0" x2="1805.0" y2="1420.0" stroke="#000" stroke-width="5.6" stroke-linecap="round"/>
<line x1="1941.9" y1="1449.0" x2="1941.9" y2="1434.0" stroke="#000" stroke-width="5.6" stroke-linecap="round"/>
<line x1="2078.7" y1="1449.0" x2="2078.7" y2="1420.0" stroke="#000" stroke-width="5.6" stroke-linecap="round"/>
<line x1="2215.6" y1="1449.0" x2="2215.6" y2="1434.0" stroke="#000" stroke-width="5.6" stroke-linecap="round"/>
<text x="162.5" y="1529.5" font-family="Liberation Serif, Times New Roman, serif" font-size="80" text-anchor="middle" fill="#000">10</text>
<text x="436.2" y="1529.5" font-family="Liberation Serif, Times New Roman, serif" font-size="80" text-anchor="middle" fill="#000">20</text>
<text x="709.9" y="1529.5" font-family="Liberation Serif, Times New Roman, serif" font-size="80" text-anchor="middle" fill="#000">30</text>
<text x="983.5" y="1529.5" font-family="Liberation Serif, Times New Roman, serif" font-size="80" text-anchor="middle" fill="#000">40</text>
<text x="1257.2" y="1529.5" font-family="Liberation Serif, Times New Roman, serif" font-size="80" text-anchor="middle" fill="#000">50</text>
<text x="1530.9" y="1529.5" font-family="Liberation Serif, Times New Roman, serif" font-size="80" text-anchor="middle" fill="#000">60</text>
<text x="1804.5" y="1529.5" font-family="Liberation Serif, Times New Roman, serif" font-size="80" text-anchor="middle" fill="#000">70</text>
<text x="2078.2" y="1529.5" font-family="Liberation Serif, Times New Roman, serif" font-size="80" text-anchor="middle" fill="#000">80</text>
<text x="2351.9" y="1529.5" font-family="Liberation Serif, Times New Roman, serif" font-size="80" text-anchor="middle" fill="#000">90</text>
<text transform="translate(105,1073.8) rotate(-90)" font-family="Liberation Serif, Times New Roman, serif" font-size="92.5" fill="#000">Intensity (a.u.)</text>
<text x="987" y="1632" font-family="Liberation Serif, Times New Roman, serif" font-size="94" fill="#000">2</text>
<text transform="translate(1041,1632) scale(1.15,1)" font-family="Liberation Serif, Times New Roman, serif" font-size="92" font-style="italic" fill="#000">θ</text>
<text x="1105.3" y="1632" font-family="Liberation Serif, Times New Roman, serif" font-size="92" fill="#000">(degree)</text>
<text x="291.1" y="646.7" font-family="Liberation Serif, Times New Roman, serif" font-size="71" fill="#FF00FF">Mn20Fe10-Ce/Al</text>
<text x="285" y="923.9" font-family="Liberation Serif, Times New Roman, serif" font-size="71" fill="#FF8000">Mn15Fe15-Ce/Al</text>
<text x="298.2" y="1251.9" font-family="Liberation Serif, Times New Roman, serif" font-size="71" fill="#0000FF">Mn10Fe20-Ce/Al</text>
<circle cx="1819.3" cy="106.2" r="15.5" fill="#FF0000"/>
<text x="1858.3" y="127.0" font-family="Liberation Serif, Times New Roman, serif" font-size="72" fill="#000">Al</text>
<text x="1928.3" y="152.7" font-family="Liberation Serif, Times New Roman, serif" font-size="44" fill="#000">2</text>
<text x="1950.1" y="127.0" font-family="Liberation Serif, Times New Roman, serif" font-size="72" fill="#000">O</text>
<text x="2001.0" y="152.7" font-family="Liberation Serif, Times New Roman, serif" font-size="44" fill="#000">3</text>
<polygon points="1817.2,199.2 1835.2,217.2 1817.2,235.2 1799.2,217.2" fill="none" stroke="#FF8000" stroke-width="3.8" stroke-linejoin="miter"/>
<text x="1860.4" y="238.4" font-family="Liberation Serif, Times New Roman, serif" font-size="72" fill="#000">Fe</text>
<text x="1931.4" y="262.0" font-family="Liberation Serif, Times New Roman, serif" font-size="44" fill="#000">2</text>
<text x="1952.9" y="238.4" font-family="Liberation Serif, Times New Roman, serif" font-size="72" fill="#000">O</text>
<text x="2003.7" y="262.0" font-family="Liberation Serif, Times New Roman, serif" font-size="44" fill="#000">3</text>
<rect x="2079.8" y="87" width="29.6" height="28.9" fill="#0000FF"/>
<text x="2130.4" y="115.7" font-family="Liberation Serif, Times New Roman, serif" font-size="72" fill="#000">MnO</text>
<text x="2281.8" y="141.9" font-family="Liberation Serif, Times New Roman, serif" font-size="44" fill="#000">2</text>
<polygon points="2092.2,193.6 2072.4,233.7 2111.9,233.7" fill="#0000FF"/>
<text x="2137.0" y="233.7" font-family="Liberation Serif, Times New Roman, serif" font-size="72" fill="#000">Mn</text>
<text x="2235.3" y="258.6" font-family="Liberation Serif, Times New Roman, serif" font-size="44" fill="#000">2</text>
<text x="2258.0" y="233.7" font-family="Liberation Serif, Times New Roman, serif" font-size="72" fill="#000">O</text>
<text x="2309.0" y="259.0" font-family="Liberation Serif, Times New Roman, serif" font-size="44" fill="#000">3</text>
<polygon points="2075.4,315.2 2114,315.2 2094.7,354.4" fill="#0000FF"/>
<text x="2139.4" y="353.7" font-family="Liberation Serif, Times New Roman, serif" font-size="72" fill="#000">Mn</text>
<text x="2238.1" y="379.0" font-family="Liberation Serif, Times New Roman, serif" font-size="44" fill="#000">3</text>
<text x="2260.8" y="353.7" font-family="Liberation Serif, Times New Roman, serif" font-size="72" fill="#000">O</text>
<text x="2311.7" y="379.0" font-family="Liberation Serif, Times New Roman, serif" font-size="44" fill="#000">4</text>
</svg></body></html>
